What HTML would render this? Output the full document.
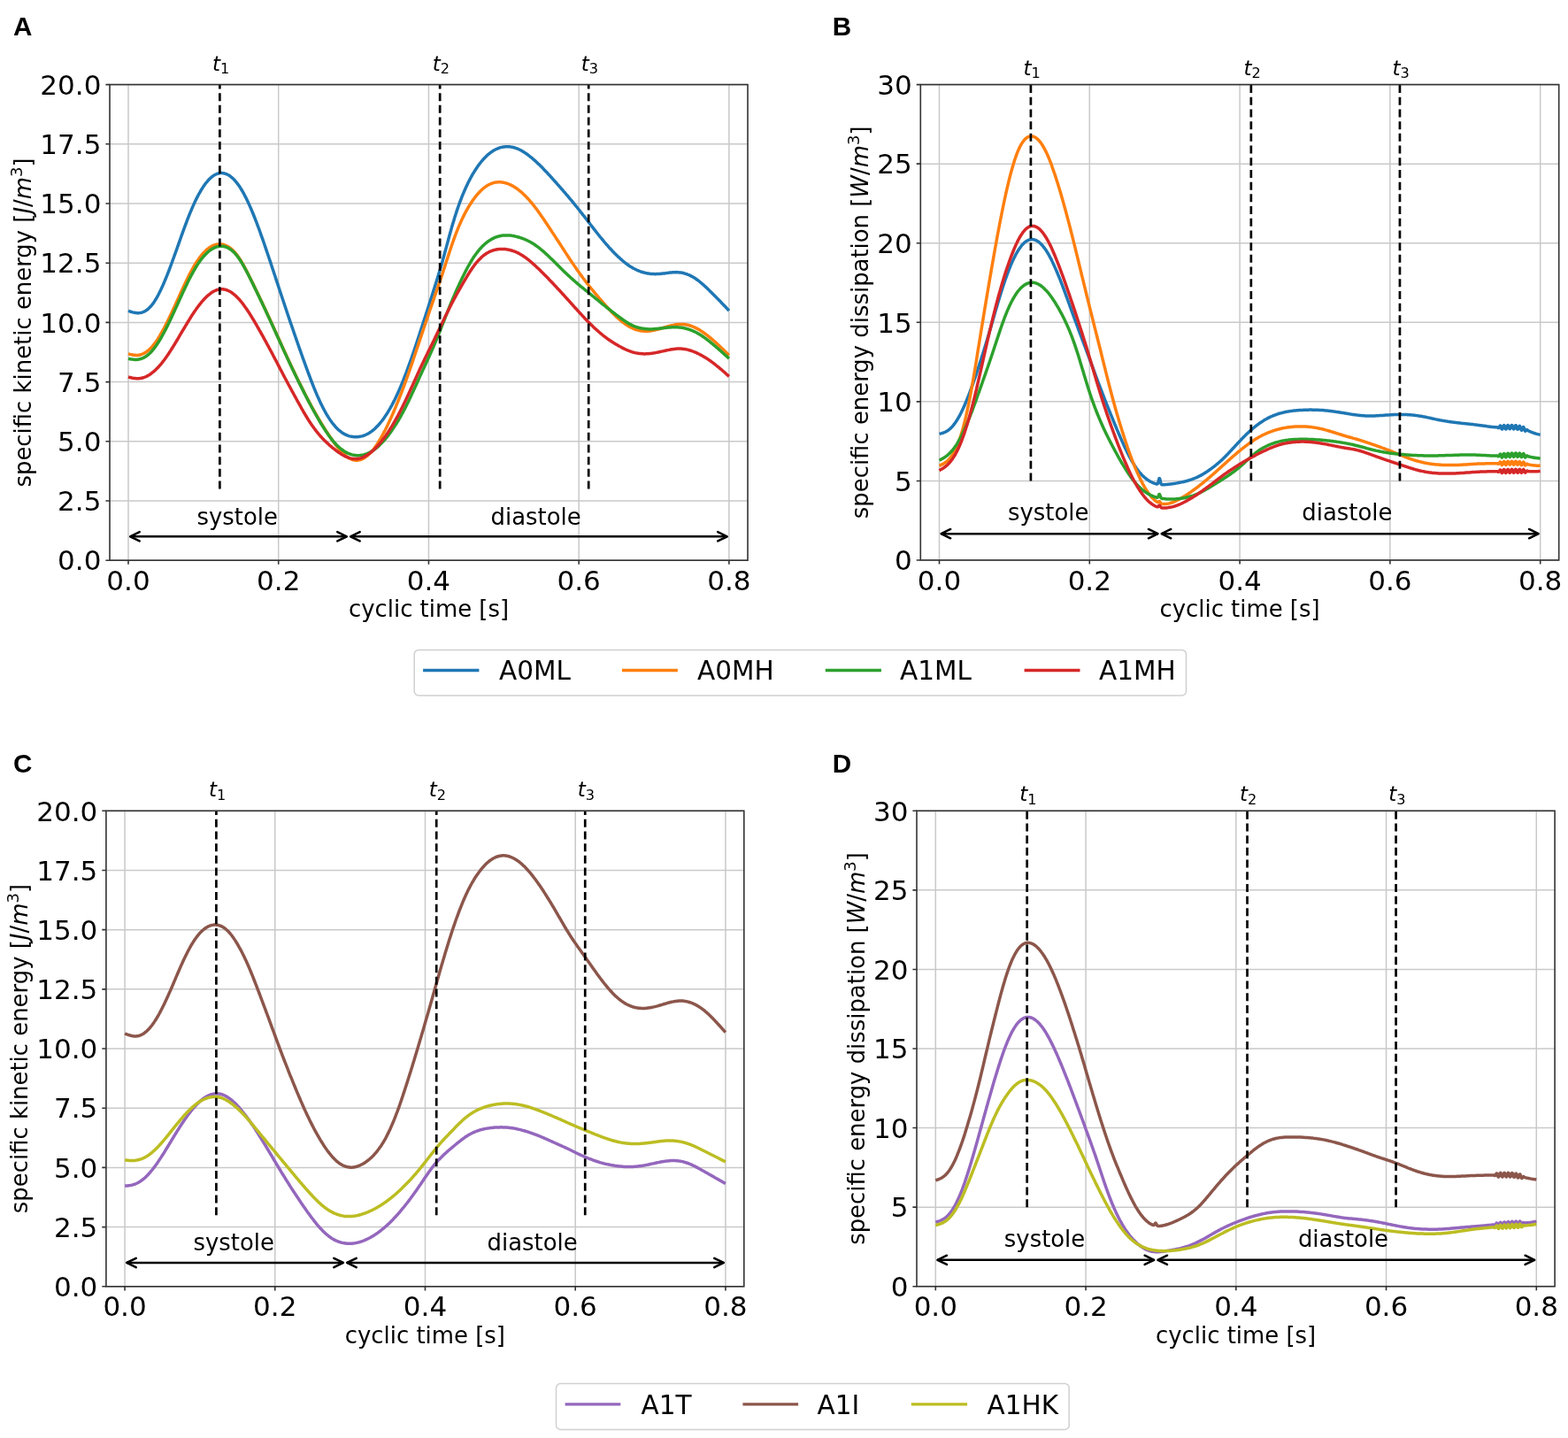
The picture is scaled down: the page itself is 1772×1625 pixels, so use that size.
<!DOCTYPE html>
<html><head><meta charset="utf-8"><title>Figure</title>
<style>html,body{margin:0;padding:0;background:#fff;width:1772px;height:1625px;overflow:hidden}svg{display:block}</style>
</head><body>
<svg xmlns="http://www.w3.org/2000/svg" width="1772" height="1625" viewBox="0 0 1772 1625" font-family="'DejaVu Sans', 'Liberation Sans', sans-serif" fill="#000"><path d="M145.00 95.60V633.20M314.72 95.60V633.20M484.44 95.60V633.20M654.16 95.60V633.20M823.88 95.60V633.20M124.00 633.20H845.00M124.00 566.00H845.00M124.00 498.80H845.00M124.00 431.60H845.00M124.00 364.40H845.00M124.00 297.20H845.00M124.00 230.00H845.00M124.00 162.80H845.00M124.00 95.60H845.00" stroke="#c9c9c9" stroke-width="1.5" fill="none"/>
<path d="M145.0 351.2 L146.0 351.6 L147.0 351.9 L148.0 352.3 L149.0 352.6 L150.0 352.9 L151.0 353.1 L152.0 353.3 L153.0 353.5 L154.0 353.6 L155.0 353.7 L156.0 353.7 L157.0 353.7 L158.0 353.6 L159.0 353.4 L160.0 353.2 L161.0 352.9 L162.0 352.5 L163.0 352.1 L164.0 351.5 L165.0 350.9 L166.0 350.2 L167.0 349.5 L168.0 348.6 L169.0 347.6 L170.0 346.6 L171.0 345.5 L172.0 344.2 L173.0 342.9 L174.0 341.5 L175.0 339.9 L176.0 338.3 L177.0 336.6 L178.0 334.8 L179.0 333.0 L180.0 331.0 L181.0 329.0 L182.0 326.9 L183.0 324.8 L184.0 322.6 L185.0 320.3 L186.0 317.9 L187.0 315.5 L188.0 313.1 L189.0 310.6 L190.0 308.1 L191.0 305.5 L192.0 302.8 L193.0 300.2 L194.0 297.5 L195.0 294.7 L196.0 292.0 L197.0 289.2 L198.0 286.4 L199.0 283.6 L200.0 280.8 L201.0 278.0 L202.0 275.1 L203.0 272.3 L204.0 269.5 L205.0 266.7 L206.0 263.9 L207.0 261.1 L208.0 258.4 L209.0 255.6 L210.0 253.0 L211.0 250.3 L212.0 247.7 L213.0 245.1 L214.0 242.6 L215.0 240.2 L216.0 237.8 L217.0 235.4 L218.0 233.1 L219.0 230.9 L220.0 228.7 L221.0 226.6 L222.0 224.6 L223.0 222.6 L224.0 220.7 L225.0 218.8 L226.0 217.1 L227.0 215.3 L228.0 213.7 L229.0 212.1 L230.0 210.6 L231.0 209.2 L232.0 207.8 L233.0 206.5 L234.0 205.3 L235.0 204.1 L236.0 203.0 L237.0 202.0 L238.0 201.1 L239.0 200.2 L240.0 199.4 L241.0 198.7 L242.0 198.1 L243.0 197.5 L244.0 197.0 L245.0 196.6 L246.0 196.2 L247.0 196.0 L248.0 195.7 L249.0 195.6 L250.0 195.6 L251.0 195.6 L252.0 195.7 L253.0 195.8 L254.0 196.1 L255.0 196.4 L256.0 196.7 L257.0 197.2 L258.0 197.7 L259.0 198.3 L260.0 199.0 L261.0 199.8 L262.0 200.6 L263.0 201.5 L264.0 202.4 L265.0 203.5 L266.0 204.6 L267.0 205.8 L268.0 207.1 L269.0 208.4 L270.0 209.8 L271.0 211.3 L272.0 212.9 L273.0 214.5 L274.0 216.2 L275.0 217.9 L276.0 219.8 L277.0 221.7 L278.0 223.6 L279.0 225.7 L280.0 227.8 L281.0 229.9 L282.0 232.1 L283.0 234.4 L284.0 236.7 L285.0 239.1 L286.0 241.5 L287.0 244.0 L288.0 246.5 L289.0 249.1 L290.0 251.7 L291.0 254.3 L292.0 257.0 L293.0 259.7 L294.0 262.5 L295.0 265.3 L296.0 268.1 L297.0 270.9 L298.0 273.8 L299.0 276.7 L300.0 279.6 L301.0 282.6 L302.0 285.5 L303.0 288.5 L304.0 291.5 L305.0 294.4 L306.0 297.4 L307.0 300.5 L308.0 303.5 L309.0 306.5 L310.0 309.5 L311.0 312.5 L312.0 315.6 L313.0 318.6 L314.0 321.6 L315.0 324.7 L316.0 327.7 L317.0 330.7 L318.0 333.7 L319.0 336.7 L320.0 339.7 L321.0 342.7 L322.0 345.7 L323.0 348.7 L324.0 351.7 L325.0 354.7 L326.0 357.7 L327.0 360.6 L328.0 363.6 L329.0 366.5 L330.0 369.4 L331.0 372.3 L332.0 375.2 L333.0 378.1 L334.0 381.0 L335.0 383.9 L336.0 386.8 L337.0 389.6 L338.0 392.5 L339.0 395.3 L340.0 398.1 L341.0 401.0 L342.0 403.8 L343.0 406.6 L344.0 409.4 L345.0 412.2 L346.0 414.9 L347.0 417.6 L348.0 420.4 L349.0 423.0 L350.0 425.7 L351.0 428.4 L352.0 431.0 L353.0 433.5 L354.0 436.1 L355.0 438.6 L356.0 441.0 L357.0 443.4 L358.0 445.8 L359.0 448.1 L360.0 450.3 L361.0 452.5 L362.0 454.7 L363.0 456.8 L364.0 458.8 L365.0 460.8 L366.0 462.7 L367.0 464.5 L368.0 466.3 L369.0 468.1 L370.0 469.7 L371.0 471.4 L372.0 472.9 L373.0 474.4 L374.0 475.8 L375.0 477.2 L376.0 478.5 L377.0 479.8 L378.0 480.9 L379.0 482.1 L380.0 483.2 L381.0 484.2 L382.0 485.2 L383.0 486.1 L384.0 486.9 L385.0 487.7 L386.0 488.5 L387.0 489.2 L388.0 489.8 L389.0 490.4 L390.0 490.9 L391.0 491.4 L392.0 491.8 L393.0 492.2 L394.0 492.6 L395.0 492.9 L396.0 493.1 L397.0 493.3 L398.0 493.5 L399.0 493.6 L400.0 493.7 L401.0 493.8 L402.0 493.8 L403.0 493.8 L404.0 493.7 L405.0 493.6 L406.0 493.5 L407.0 493.3 L408.0 493.1 L409.0 492.9 L410.0 492.6 L411.0 492.3 L412.0 491.9 L413.0 491.5 L414.0 491.0 L415.0 490.5 L416.0 490.0 L417.0 489.4 L418.0 488.8 L419.0 488.1 L420.0 487.4 L421.0 486.6 L422.0 485.8 L423.0 485.0 L424.0 484.1 L425.0 483.1 L426.0 482.1 L427.0 481.1 L427.9 480.0 L428.9 478.9 L429.9 477.7 L430.9 476.5 L431.9 475.2 L432.9 473.9 L433.9 472.5 L434.9 471.0 L435.9 469.6 L436.9 468.0 L437.9 466.5 L438.9 464.8 L439.9 463.1 L440.9 461.4 L441.9 459.6 L442.9 457.8 L443.9 455.9 L444.9 453.9 L445.9 452.0 L446.9 449.9 L447.9 447.8 L448.9 445.7 L449.9 443.5 L450.9 441.2 L451.9 438.9 L452.9 436.6 L453.9 434.2 L454.9 431.8 L455.9 429.3 L456.9 426.7 L457.9 424.2 L458.9 421.6 L459.9 418.9 L460.9 416.2 L461.9 413.4 L462.9 410.7 L463.9 407.8 L464.9 405.0 L465.9 402.1 L466.9 399.2 L467.9 396.2 L468.9 393.3 L469.9 390.3 L470.9 387.3 L471.9 384.3 L472.9 381.2 L473.9 378.2 L474.9 375.1 L475.9 372.1 L476.9 369.0 L477.9 365.9 L478.9 362.9 L479.9 359.8 L480.9 356.7 L481.9 353.6 L482.9 350.5 L483.9 347.4 L484.9 344.3 L485.9 341.1 L486.9 338.0 L487.9 334.9 L488.9 331.7 L489.9 328.6 L490.9 325.4 L491.9 322.2 L492.9 319.0 L493.9 315.8 L494.9 312.6 L495.9 309.3 L496.9 306.0 L497.9 302.6 L498.9 299.2 L499.9 295.7 L500.9 292.1 L501.9 288.5 L502.9 284.8 L503.9 281.1 L504.9 277.4 L505.9 273.7 L506.9 270.0 L507.9 266.3 L508.9 262.7 L509.9 259.1 L510.9 255.6 L511.9 252.2 L512.9 248.9 L513.9 245.6 L514.9 242.5 L515.9 239.4 L516.9 236.4 L517.9 233.5 L518.9 230.7 L519.9 227.9 L520.9 225.3 L521.9 222.7 L522.9 220.2 L523.9 217.8 L524.9 215.5 L525.9 213.2 L526.9 211.0 L527.9 208.9 L528.9 206.8 L529.9 204.8 L530.9 202.9 L531.9 201.0 L532.9 199.2 L533.9 197.4 L534.9 195.7 L535.9 194.1 L536.9 192.5 L537.9 191.0 L538.9 189.5 L539.9 188.0 L540.9 186.6 L541.9 185.3 L542.9 184.0 L543.9 182.7 L544.9 181.5 L545.9 180.4 L546.9 179.3 L547.9 178.2 L548.9 177.2 L549.9 176.2 L550.9 175.3 L551.9 174.4 L552.9 173.6 L553.9 172.8 L554.9 172.1 L555.9 171.4 L556.9 170.7 L557.9 170.1 L558.9 169.5 L559.9 169.0 L560.9 168.5 L561.9 168.1 L562.9 167.6 L563.9 167.3 L564.9 166.9 L565.9 166.6 L566.9 166.4 L567.9 166.2 L568.9 166.0 L569.9 165.9 L570.9 165.8 L571.9 165.7 L572.9 165.7 L573.9 165.7 L574.9 165.7 L575.9 165.8 L576.9 165.9 L577.9 166.1 L578.9 166.3 L579.9 166.5 L580.9 166.7 L581.9 167.0 L582.9 167.4 L583.9 167.7 L584.9 168.1 L585.9 168.5 L586.9 169.0 L587.9 169.5 L588.9 170.0 L589.9 170.6 L590.9 171.2 L591.9 171.8 L592.9 172.4 L593.9 173.1 L594.9 173.8 L595.9 174.5 L596.9 175.2 L597.9 176.0 L598.9 176.8 L599.9 177.6 L600.9 178.4 L601.9 179.2 L602.9 180.1 L603.9 181.0 L604.9 181.9 L605.9 182.8 L606.9 183.7 L607.9 184.7 L608.9 185.6 L609.9 186.6 L610.9 187.6 L611.9 188.6 L612.9 189.6 L613.9 190.6 L614.9 191.7 L615.9 192.7 L616.9 193.8 L617.9 194.8 L618.9 195.9 L619.9 197.0 L620.9 198.1 L621.9 199.1 L622.9 200.2 L623.9 201.3 L624.9 202.5 L625.9 203.6 L626.9 204.7 L627.9 205.8 L628.9 206.9 L629.9 208.1 L630.9 209.2 L631.9 210.3 L632.9 211.5 L633.9 212.6 L634.9 213.8 L635.9 214.9 L636.9 216.1 L637.9 217.2 L638.9 218.4 L639.9 219.6 L640.9 220.7 L641.9 221.9 L642.9 223.1 L643.9 224.3 L644.9 225.5 L645.9 226.7 L646.9 227.9 L647.9 229.1 L648.9 230.3 L649.9 231.6 L650.9 232.8 L651.9 234.0 L652.9 235.3 L653.9 236.5 L654.9 237.8 L655.9 239.1 L656.9 240.3 L657.9 241.6 L658.9 242.9 L659.9 244.1 L660.9 245.4 L661.9 246.7 L662.9 248.0 L663.9 249.3 L664.9 250.6 L665.9 251.9 L666.9 253.2 L667.9 254.5 L668.9 255.8 L669.9 257.1 L670.9 258.4 L671.9 259.7 L672.9 260.9 L673.9 262.2 L674.9 263.5 L675.9 264.8 L676.9 266.0 L677.9 267.3 L678.9 268.5 L679.9 269.7 L680.9 270.9 L681.9 272.1 L682.9 273.3 L683.9 274.5 L684.9 275.7 L685.9 276.8 L686.9 277.9 L687.9 279.1 L688.9 280.2 L689.9 281.3 L690.9 282.3 L691.9 283.4 L692.9 284.4 L693.9 285.5 L694.9 286.5 L695.9 287.5 L696.9 288.5 L697.9 289.4 L698.9 290.4 L699.9 291.3 L700.9 292.2 L701.9 293.1 L702.9 294.0 L703.9 294.8 L704.9 295.7 L705.9 296.5 L706.9 297.3 L707.9 298.0 L708.9 298.8 L709.9 299.5 L710.9 300.2 L711.9 300.9 L712.9 301.5 L713.9 302.1 L714.9 302.7 L715.9 303.3 L716.9 303.8 L717.9 304.3 L718.9 304.8 L719.9 305.3 L720.9 305.7 L721.9 306.1 L722.9 306.5 L723.9 306.9 L724.9 307.2 L725.9 307.5 L726.9 307.8 L727.9 308.1 L728.9 308.3 L729.9 308.6 L730.9 308.8 L731.9 309.0 L732.9 309.1 L733.9 309.2 L734.9 309.4 L735.9 309.5 L736.9 309.5 L737.9 309.6 L738.9 309.6 L739.9 309.7 L740.9 309.7 L741.9 309.6 L742.9 309.6 L743.9 309.6 L744.9 309.5 L745.9 309.4 L746.9 309.3 L747.9 309.2 L748.9 309.1 L749.9 309.0 L750.9 308.9 L751.9 308.8 L752.9 308.6 L753.9 308.5 L754.9 308.4 L755.9 308.2 L756.9 308.1 L757.9 308.0 L758.9 307.9 L759.9 307.8 L760.9 307.8 L761.9 307.7 L762.9 307.7 L763.9 307.6 L764.9 307.7 L765.9 307.7 L766.9 307.8 L767.9 307.9 L768.9 308.0 L769.9 308.1 L770.9 308.3 L771.9 308.5 L772.9 308.8 L773.9 309.1 L774.9 309.4 L775.9 309.7 L776.9 310.1 L777.9 310.5 L778.9 310.9 L779.9 311.4 L780.9 311.9 L781.9 312.4 L782.9 312.9 L783.9 313.5 L784.9 314.1 L785.9 314.8 L786.9 315.5 L787.9 316.2 L788.9 316.9 L789.9 317.7 L790.9 318.5 L791.9 319.3 L792.9 320.2 L793.9 321.0 L794.9 321.9 L795.9 322.8 L796.9 323.7 L797.9 324.6 L798.9 325.6 L799.9 326.5 L800.9 327.5 L801.9 328.4 L802.9 329.4 L803.9 330.4 L804.9 331.4 L805.9 332.4 L806.9 333.4 L807.9 334.4 L808.9 335.4 L809.9 336.5 L810.9 337.5 L811.9 338.5 L812.9 339.5 L813.9 340.6 L814.9 341.6 L815.9 342.7 L816.9 343.7 L817.9 344.7 L818.9 345.8 L819.9 346.8 L820.9 347.9 L821.9 349.0 L822.9 350.0 L823.9 351.1" stroke="#1f77b4" stroke-width="3.5" fill="none" stroke-linejoin="round" stroke-linecap="butt"/>
<path d="M145.0 399.9 L146.0 400.1 L147.0 400.4 L148.0 400.6 L149.0 400.8 L150.0 401.0 L151.0 401.2 L152.0 401.3 L153.0 401.3 L154.0 401.4 L155.0 401.4 L156.0 401.3 L157.0 401.2 L158.0 401.0 L159.0 400.7 L160.0 400.4 L161.0 400.0 L162.0 399.6 L163.0 399.1 L164.0 398.5 L165.0 397.9 L166.0 397.2 L167.0 396.4 L168.0 395.6 L169.0 394.7 L170.0 393.7 L171.0 392.7 L172.0 391.6 L173.0 390.4 L174.0 389.2 L175.0 387.9 L176.0 386.5 L177.0 385.1 L178.0 383.6 L179.0 382.0 L180.0 380.4 L181.0 378.7 L182.0 377.0 L183.0 375.2 L184.0 373.4 L185.0 371.6 L186.0 369.7 L187.0 367.8 L188.0 365.8 L189.0 363.8 L190.0 361.8 L191.0 359.7 L192.0 357.6 L193.0 355.5 L194.0 353.4 L195.0 351.2 L196.0 349.1 L197.0 346.9 L198.0 344.7 L199.0 342.5 L200.0 340.3 L201.0 338.1 L202.0 335.9 L203.0 333.6 L204.0 331.4 L205.0 329.3 L206.0 327.1 L207.0 324.9 L208.0 322.8 L209.0 320.6 L210.0 318.5 L211.0 316.5 L212.0 314.4 L213.0 312.4 L214.0 310.4 L215.0 308.5 L216.0 306.6 L217.0 304.8 L218.0 303.0 L219.0 301.2 L220.0 299.5 L221.0 297.9 L222.0 296.3 L223.0 294.8 L224.0 293.4 L225.0 291.9 L226.0 290.6 L227.0 289.3 L228.0 288.1 L229.0 286.9 L230.0 285.8 L231.0 284.7 L232.0 283.7 L233.0 282.8 L234.0 281.9 L235.0 281.1 L236.0 280.3 L237.0 279.6 L238.0 279.0 L239.0 278.4 L240.0 277.9 L241.0 277.4 L242.0 277.0 L243.0 276.7 L244.0 276.4 L245.0 276.2 L246.0 276.0 L247.0 275.9 L248.0 275.8 L249.0 275.9 L250.0 275.9 L251.0 276.1 L252.0 276.3 L253.0 276.5 L254.0 276.9 L255.0 277.2 L256.0 277.7 L257.0 278.2 L258.0 278.8 L259.0 279.4 L260.0 280.2 L261.0 280.9 L262.0 281.8 L263.0 282.7 L264.0 283.7 L265.0 284.8 L266.0 285.9 L267.0 287.1 L268.0 288.4 L269.0 289.8 L270.0 291.2 L271.0 292.7 L272.0 294.3 L273.0 295.9 L274.0 297.6 L275.0 299.4 L276.0 301.2 L277.0 303.0 L278.0 304.9 L279.0 306.8 L280.0 308.8 L281.0 310.7 L282.0 312.7 L283.0 314.7 L284.0 316.7 L285.0 318.8 L286.0 320.8 L287.0 322.8 L288.0 324.9 L289.0 327.0 L290.0 329.0 L291.0 331.1 L292.0 333.2 L293.0 335.3 L294.0 337.4 L295.0 339.5 L296.0 341.6 L297.0 343.7 L298.0 345.8 L299.0 347.9 L300.0 350.0 L301.0 352.2 L302.0 354.3 L303.0 356.5 L304.0 358.6 L305.0 360.8 L306.0 363.0 L307.0 365.2 L308.0 367.4 L309.0 369.6 L310.0 371.8 L311.0 374.0 L312.0 376.2 L313.0 378.4 L314.0 380.6 L315.0 382.8 L316.0 385.0 L317.0 387.2 L318.0 389.4 L319.0 391.6 L320.0 393.8 L321.0 396.0 L322.0 398.2 L323.0 400.3 L324.0 402.5 L325.0 404.7 L326.0 406.8 L327.0 409.0 L328.0 411.1 L329.0 413.2 L330.0 415.3 L331.0 417.4 L332.0 419.5 L333.0 421.6 L334.0 423.7 L335.0 425.7 L336.0 427.8 L337.0 429.8 L338.0 431.8 L339.0 433.8 L340.0 435.8 L341.0 437.8 L342.0 439.8 L343.0 441.8 L344.0 443.8 L345.0 445.7 L346.0 447.7 L347.0 449.6 L348.0 451.5 L349.0 453.4 L350.0 455.3 L351.0 457.1 L352.0 459.0 L353.0 460.8 L354.0 462.6 L355.0 464.4 L356.0 466.2 L357.0 467.9 L358.0 469.7 L359.0 471.4 L360.0 473.1 L361.0 474.8 L362.0 476.5 L363.0 478.2 L364.0 479.8 L365.0 481.4 L366.0 483.0 L367.0 484.6 L368.0 486.2 L369.0 487.8 L370.0 489.3 L371.0 490.8 L372.0 492.3 L373.0 493.8 L374.0 495.3 L375.0 496.7 L376.0 498.1 L377.0 499.5 L378.0 500.9 L379.0 502.2 L380.0 503.5 L381.0 504.8 L382.0 506.0 L383.0 507.2 L384.0 508.4 L385.0 509.5 L386.0 510.6 L387.0 511.6 L388.0 512.6 L389.0 513.5 L390.0 514.4 L391.0 515.2 L392.0 516.0 L393.0 516.7 L394.0 517.4 L395.0 518.0 L396.0 518.5 L397.0 519.0 L398.0 519.4 L399.0 519.7 L400.0 519.9 L401.0 520.1 L402.0 520.2 L403.0 520.3 L404.0 520.2 L405.0 520.1 L406.0 519.9 L407.0 519.6 L408.0 519.3 L409.0 518.9 L410.0 518.5 L411.0 517.9 L412.0 517.3 L413.0 516.6 L414.0 515.9 L415.0 515.1 L416.0 514.2 L417.0 513.3 L418.0 512.3 L419.0 511.3 L420.0 510.2 L421.0 509.0 L422.0 507.8 L423.0 506.5 L424.0 505.1 L425.0 503.7 L426.0 502.2 L427.0 500.7 L427.9 499.2 L428.9 497.5 L429.9 495.9 L430.9 494.1 L431.9 492.3 L432.9 490.5 L433.9 488.6 L434.9 486.7 L435.9 484.8 L436.9 482.8 L437.9 480.7 L438.9 478.6 L439.9 476.5 L440.9 474.3 L441.9 472.1 L442.9 469.9 L443.9 467.6 L444.9 465.3 L445.9 462.9 L446.9 460.6 L447.9 458.2 L448.9 455.7 L449.9 453.3 L450.9 450.8 L451.9 448.2 L452.9 445.7 L453.9 443.1 L454.9 440.4 L455.9 437.8 L456.9 435.1 L457.9 432.4 L458.9 429.6 L459.9 426.9 L460.9 424.1 L461.9 421.2 L462.9 418.4 L463.9 415.5 L464.9 412.6 L465.9 409.7 L466.9 406.7 L467.9 403.8 L468.9 400.8 L469.9 397.8 L470.9 394.8 L471.9 391.9 L472.9 388.9 L473.9 385.9 L474.9 382.9 L475.9 379.9 L476.9 376.9 L477.9 373.9 L478.9 371.0 L479.9 368.0 L480.9 365.0 L481.9 362.1 L482.9 359.1 L483.9 356.2 L484.9 353.2 L485.9 350.3 L486.9 347.4 L487.9 344.5 L488.9 341.6 L489.9 338.7 L490.9 335.8 L491.9 332.9 L492.9 330.0 L493.9 327.1 L494.9 324.3 L495.9 321.4 L496.9 318.5 L497.9 315.5 L498.9 312.6 L499.9 309.6 L500.9 306.5 L501.9 303.5 L502.9 300.4 L503.9 297.3 L504.9 294.2 L505.9 291.1 L506.9 288.1 L507.9 285.0 L508.9 282.0 L509.9 279.0 L510.9 276.1 L511.9 273.2 L512.9 270.4 L513.9 267.7 L514.9 265.0 L515.9 262.4 L516.9 259.9 L517.9 257.4 L518.9 255.0 L519.9 252.7 L520.9 250.4 L521.9 248.3 L522.9 246.1 L523.9 244.1 L524.9 242.1 L525.9 240.2 L526.9 238.4 L527.9 236.6 L528.9 234.9 L529.9 233.2 L530.9 231.6 L531.9 230.0 L532.9 228.5 L533.9 227.0 L534.9 225.6 L535.9 224.2 L536.9 222.9 L537.9 221.6 L538.9 220.4 L539.9 219.2 L540.9 218.1 L541.9 217.0 L542.9 216.0 L543.9 215.0 L544.9 214.0 L545.9 213.2 L546.9 212.3 L547.9 211.6 L548.9 210.9 L549.9 210.2 L550.9 209.6 L551.9 209.0 L552.9 208.5 L553.9 208.0 L554.9 207.6 L555.9 207.2 L556.9 206.9 L557.9 206.6 L558.9 206.3 L559.9 206.1 L560.9 206.0 L561.9 205.9 L562.9 205.8 L563.9 205.8 L564.9 205.8 L565.9 205.8 L566.9 205.9 L567.9 206.1 L568.9 206.2 L569.9 206.4 L570.9 206.7 L571.9 206.9 L572.9 207.3 L573.9 207.6 L574.9 208.0 L575.9 208.4 L576.9 208.9 L577.9 209.4 L578.9 209.9 L579.9 210.4 L580.9 211.0 L581.9 211.7 L582.9 212.3 L583.9 213.0 L584.9 213.7 L585.9 214.5 L586.9 215.3 L587.9 216.1 L588.9 216.9 L589.9 217.8 L590.9 218.7 L591.9 219.7 L592.9 220.6 L593.9 221.6 L594.9 222.7 L595.9 223.7 L596.9 224.8 L597.9 225.9 L598.9 227.1 L599.9 228.2 L600.9 229.4 L601.9 230.7 L602.9 231.9 L603.9 233.2 L604.9 234.5 L605.9 235.8 L606.9 237.1 L607.9 238.5 L608.9 239.9 L609.9 241.3 L610.9 242.7 L611.9 244.2 L612.9 245.6 L613.9 247.1 L614.9 248.5 L615.9 250.0 L616.9 251.5 L617.9 253.0 L618.9 254.5 L619.9 256.0 L620.9 257.5 L621.9 259.0 L622.9 260.5 L623.9 262.1 L624.9 263.6 L625.9 265.1 L626.9 266.6 L627.9 268.1 L628.9 269.7 L629.9 271.2 L630.9 272.7 L631.9 274.3 L632.9 275.8 L633.9 277.4 L634.9 278.9 L635.9 280.5 L636.9 282.0 L637.9 283.5 L638.9 285.1 L639.9 286.6 L640.9 288.1 L641.9 289.7 L642.9 291.2 L643.9 292.7 L644.9 294.2 L645.9 295.7 L646.9 297.2 L647.9 298.6 L648.9 300.1 L649.9 301.6 L650.9 303.0 L651.9 304.5 L652.9 305.9 L653.9 307.3 L654.9 308.7 L655.9 310.1 L656.9 311.4 L657.9 312.8 L658.9 314.2 L659.9 315.5 L660.9 316.8 L661.9 318.1 L662.9 319.4 L663.9 320.7 L664.9 322.0 L665.9 323.3 L666.9 324.5 L667.9 325.8 L668.9 327.0 L669.9 328.2 L670.9 329.4 L671.9 330.7 L672.9 331.9 L673.9 333.0 L674.9 334.2 L675.9 335.4 L676.9 336.6 L677.9 337.7 L678.9 338.9 L679.9 340.0 L680.9 341.2 L681.9 342.3 L682.9 343.5 L683.9 344.6 L684.9 345.7 L685.9 346.8 L686.9 347.9 L687.9 349.0 L688.9 350.1 L689.9 351.2 L690.9 352.2 L691.9 353.3 L692.9 354.3 L693.9 355.3 L694.9 356.3 L695.9 357.2 L696.9 358.2 L697.9 359.1 L698.9 360.0 L699.9 360.9 L700.9 361.7 L701.9 362.6 L702.9 363.4 L703.9 364.2 L704.9 364.9 L705.9 365.7 L706.9 366.4 L707.9 367.0 L708.9 367.7 L709.9 368.3 L710.9 368.9 L711.9 369.5 L712.9 370.0 L713.9 370.5 L714.9 371.0 L715.9 371.4 L716.9 371.8 L717.9 372.2 L718.9 372.5 L719.9 372.8 L720.9 373.1 L721.9 373.4 L722.9 373.6 L723.9 373.8 L724.9 373.9 L725.9 374.0 L726.9 374.1 L727.9 374.2 L728.9 374.3 L729.9 374.3 L730.9 374.3 L731.9 374.2 L732.9 374.2 L733.9 374.1 L734.9 373.9 L735.9 373.8 L736.9 373.6 L737.9 373.5 L738.9 373.3 L739.9 373.0 L740.9 372.8 L741.9 372.6 L742.9 372.3 L743.9 372.0 L744.9 371.8 L745.9 371.5 L746.9 371.2 L747.9 370.9 L748.9 370.6 L749.9 370.3 L750.9 370.0 L751.9 369.7 L752.9 369.4 L753.9 369.1 L754.9 368.8 L755.9 368.6 L756.9 368.3 L757.9 368.1 L758.9 367.8 L759.9 367.6 L760.9 367.4 L761.9 367.2 L762.9 367.0 L763.9 366.8 L764.9 366.7 L765.9 366.6 L766.9 366.5 L767.9 366.4 L768.9 366.4 L769.9 366.4 L770.9 366.4 L771.9 366.5 L772.9 366.5 L773.9 366.7 L774.9 366.8 L775.9 367.0 L776.9 367.2 L777.9 367.4 L778.9 367.7 L779.9 368.0 L780.9 368.3 L781.9 368.7 L782.9 369.1 L783.9 369.5 L784.9 369.9 L785.9 370.4 L786.9 370.9 L787.9 371.4 L788.9 371.9 L789.9 372.5 L790.9 373.1 L791.9 373.7 L792.9 374.4 L793.9 375.0 L794.9 375.7 L795.9 376.4 L796.9 377.2 L797.9 377.9 L798.9 378.7 L799.9 379.4 L800.9 380.2 L801.9 381.1 L802.9 381.9 L803.9 382.7 L804.9 383.6 L805.9 384.5 L806.9 385.3 L807.9 386.2 L808.9 387.1 L809.9 388.0 L810.9 389.0 L811.9 389.9 L812.9 390.8 L813.9 391.8 L814.9 392.7 L815.9 393.7 L816.9 394.6 L817.9 395.6 L818.9 396.6 L819.9 397.5 L820.9 398.5 L821.9 399.5 L822.9 400.4 L823.9 401.4" stroke="#ff7f0e" stroke-width="3.5" fill="none" stroke-linejoin="round" stroke-linecap="butt"/>
<path d="M145.0 405.3 L146.0 405.5 L147.0 405.7 L148.0 405.9 L149.0 406.0 L150.0 406.1 L151.0 406.3 L152.0 406.3 L153.0 406.4 L154.0 406.4 L155.0 406.3 L156.0 406.2 L157.0 406.0 L158.0 405.8 L159.0 405.5 L160.0 405.2 L161.0 404.8 L162.0 404.4 L163.0 403.9 L164.0 403.3 L165.0 402.7 L166.0 402.0 L167.0 401.2 L168.0 400.4 L169.0 399.5 L170.0 398.5 L171.0 397.5 L172.0 396.4 L173.0 395.2 L174.0 393.9 L175.0 392.6 L176.0 391.2 L177.0 389.8 L178.0 388.3 L179.0 386.8 L180.0 385.1 L181.0 383.5 L182.0 381.8 L183.0 380.0 L184.0 378.2 L185.0 376.4 L186.0 374.5 L187.0 372.6 L188.0 370.6 L189.0 368.6 L190.0 366.6 L191.0 364.5 L192.0 362.4 L193.0 360.3 L194.0 358.2 L195.0 356.1 L196.0 353.9 L197.0 351.7 L198.0 349.6 L199.0 347.4 L200.0 345.2 L201.0 343.0 L202.0 340.8 L203.0 338.6 L204.0 336.4 L205.0 334.2 L206.0 332.0 L207.0 329.8 L208.0 327.7 L209.0 325.6 L210.0 323.5 L211.0 321.4 L212.0 319.3 L213.0 317.3 L214.0 315.3 L215.0 313.4 L216.0 311.5 L217.0 309.6 L218.0 307.8 L219.0 306.0 L220.0 304.3 L221.0 302.6 L222.0 301.0 L223.0 299.4 L224.0 297.9 L225.0 296.4 L226.0 295.0 L227.0 293.6 L228.0 292.3 L229.0 291.1 L230.0 289.9 L231.0 288.8 L232.0 287.7 L233.0 286.7 L234.0 285.7 L235.0 284.8 L236.0 284.0 L237.0 283.2 L238.0 282.4 L239.0 281.8 L240.0 281.1 L241.0 280.6 L242.0 280.1 L243.0 279.6 L244.0 279.2 L245.0 278.9 L246.0 278.7 L247.0 278.5 L248.0 278.3 L249.0 278.2 L250.0 278.2 L251.0 278.2 L252.0 278.3 L253.0 278.5 L254.0 278.7 L255.0 279.0 L256.0 279.4 L257.0 279.8 L258.0 280.3 L259.0 280.9 L260.0 281.5 L261.0 282.2 L262.0 283.0 L263.0 283.9 L264.0 284.8 L265.0 285.8 L266.0 286.9 L267.0 288.0 L268.0 289.3 L269.0 290.6 L270.0 292.0 L271.0 293.4 L272.0 295.0 L273.0 296.6 L274.0 298.3 L275.0 300.0 L276.0 301.8 L277.0 303.6 L278.0 305.5 L279.0 307.4 L280.0 309.3 L281.0 311.3 L282.0 313.3 L283.0 315.3 L284.0 317.3 L285.0 319.3 L286.0 321.3 L287.0 323.4 L288.0 325.5 L289.0 327.5 L290.0 329.6 L291.0 331.7 L292.0 333.8 L293.0 335.8 L294.0 337.9 L295.0 340.0 L296.0 342.1 L297.0 344.2 L298.0 346.4 L299.0 348.5 L300.0 350.6 L301.0 352.8 L302.0 354.9 L303.0 357.1 L304.0 359.2 L305.0 361.4 L306.0 363.6 L307.0 365.8 L308.0 368.0 L309.0 370.2 L310.0 372.4 L311.0 374.6 L312.0 376.8 L313.0 379.0 L314.0 381.2 L315.0 383.4 L316.0 385.6 L317.0 387.8 L318.0 390.0 L319.0 392.2 L320.0 394.4 L321.0 396.6 L322.0 398.7 L323.0 400.9 L324.0 403.1 L325.0 405.2 L326.0 407.4 L327.0 409.5 L328.0 411.7 L329.0 413.8 L330.0 415.9 L331.0 418.0 L332.0 420.1 L333.0 422.2 L334.0 424.2 L335.0 426.3 L336.0 428.3 L337.0 430.4 L338.0 432.4 L339.0 434.4 L340.0 436.4 L341.0 438.4 L342.0 440.4 L343.0 442.4 L344.0 444.4 L345.0 446.3 L346.0 448.3 L347.0 450.2 L348.0 452.1 L349.0 454.1 L350.0 455.9 L351.0 457.8 L352.0 459.7 L353.0 461.5 L354.0 463.3 L355.0 465.2 L356.0 466.9 L357.0 468.7 L358.0 470.5 L359.0 472.2 L360.0 473.9 L361.0 475.6 L362.0 477.3 L363.0 479.0 L364.0 480.6 L365.0 482.2 L366.0 483.8 L367.0 485.3 L368.0 486.9 L369.0 488.3 L370.0 489.8 L371.0 491.3 L372.0 492.7 L373.0 494.0 L374.0 495.4 L375.0 496.6 L376.0 497.9 L377.0 499.1 L378.0 500.2 L379.0 501.3 L380.0 502.4 L381.0 503.4 L382.0 504.4 L383.0 505.3 L384.0 506.2 L385.0 507.0 L386.0 507.8 L387.0 508.5 L388.0 509.2 L389.0 509.9 L390.0 510.5 L391.0 511.1 L392.0 511.6 L393.0 512.1 L394.0 512.5 L395.0 512.9 L396.0 513.3 L397.0 513.6 L398.0 513.9 L399.0 514.1 L400.0 514.3 L401.0 514.5 L402.0 514.6 L403.0 514.7 L404.0 514.7 L405.0 514.7 L406.0 514.7 L407.0 514.6 L408.0 514.5 L409.0 514.3 L410.0 514.1 L411.0 513.9 L412.0 513.6 L413.0 513.3 L414.0 512.9 L415.0 512.6 L416.0 512.1 L417.0 511.7 L418.0 511.2 L419.0 510.6 L420.0 510.0 L421.0 509.4 L422.0 508.8 L423.0 508.1 L424.0 507.3 L425.0 506.6 L426.0 505.7 L427.0 504.9 L427.9 504.0 L428.9 503.1 L429.9 502.1 L430.9 501.1 L431.9 500.1 L432.9 499.0 L433.9 497.9 L434.9 496.8 L435.9 495.6 L436.9 494.4 L437.9 493.1 L438.9 491.9 L439.9 490.5 L440.9 489.2 L441.9 487.8 L442.9 486.4 L443.9 484.9 L444.9 483.4 L445.9 481.9 L446.9 480.3 L447.9 478.7 L448.9 477.1 L449.9 475.5 L450.9 473.8 L451.9 472.0 L452.9 470.3 L453.9 468.5 L454.9 466.6 L455.9 464.8 L456.9 462.9 L457.9 461.0 L458.9 459.0 L459.9 457.0 L460.9 455.0 L461.9 452.9 L462.9 450.8 L463.9 448.7 L464.9 446.6 L465.9 444.4 L466.9 442.2 L467.9 440.1 L468.9 437.9 L469.9 435.7 L470.9 433.5 L471.9 431.3 L472.9 429.0 L473.9 426.8 L474.9 424.6 L475.9 422.5 L476.9 420.3 L477.9 418.1 L478.9 416.0 L479.9 413.8 L480.9 411.7 L481.9 409.5 L482.9 407.3 L483.9 405.2 L484.9 403.0 L485.9 400.8 L486.9 398.6 L487.9 396.3 L488.9 394.1 L489.9 391.8 L490.9 389.4 L491.9 387.1 L492.9 384.7 L493.9 382.2 L494.9 379.8 L495.9 377.3 L496.9 374.8 L497.9 372.2 L498.9 369.7 L499.9 367.1 L500.9 364.6 L501.9 362.0 L502.9 359.5 L503.9 356.9 L504.9 354.4 L505.9 351.9 L506.9 349.4 L507.9 346.9 L508.9 344.4 L509.9 342.0 L510.9 339.6 L511.9 337.2 L512.9 334.9 L513.9 332.6 L514.9 330.3 L515.9 328.0 L516.9 325.8 L517.9 323.6 L518.9 321.4 L519.9 319.3 L520.9 317.2 L521.9 315.1 L522.9 313.0 L523.9 311.0 L524.9 309.0 L525.9 307.0 L526.9 305.1 L527.9 303.2 L528.9 301.3 L529.9 299.6 L530.9 297.8 L531.9 296.1 L532.9 294.5 L533.9 292.9 L534.9 291.3 L535.9 289.8 L536.9 288.4 L537.9 287.0 L538.9 285.7 L539.9 284.4 L540.9 283.1 L541.9 281.9 L542.9 280.8 L543.9 279.7 L544.9 278.6 L545.9 277.6 L546.9 276.7 L547.9 275.8 L548.9 274.9 L549.9 274.1 L550.9 273.3 L551.9 272.6 L552.9 271.9 L553.9 271.3 L554.9 270.7 L555.9 270.1 L556.9 269.6 L557.9 269.1 L558.9 268.6 L559.9 268.2 L560.9 267.8 L561.9 267.5 L562.9 267.2 L563.9 266.9 L564.9 266.7 L565.9 266.5 L566.9 266.3 L567.9 266.1 L568.9 266.0 L569.9 265.9 L570.9 265.9 L571.9 265.9 L572.9 265.9 L573.9 265.9 L574.9 265.9 L575.9 266.0 L576.9 266.1 L577.9 266.2 L578.9 266.4 L579.9 266.5 L580.9 266.7 L581.9 266.9 L582.9 267.2 L583.9 267.4 L584.9 267.7 L585.9 268.0 L586.9 268.3 L587.9 268.6 L588.9 268.9 L589.9 269.3 L590.9 269.6 L591.9 270.0 L592.9 270.4 L593.9 270.8 L594.9 271.3 L595.9 271.7 L596.9 272.2 L597.9 272.7 L598.9 273.3 L599.9 273.8 L600.9 274.4 L601.9 275.0 L602.9 275.6 L603.9 276.3 L604.9 277.0 L605.9 277.7 L606.9 278.4 L607.9 279.1 L608.9 279.9 L609.9 280.7 L610.9 281.5 L611.9 282.3 L612.9 283.1 L613.9 284.0 L614.9 284.9 L615.9 285.8 L616.9 286.7 L617.9 287.6 L618.9 288.5 L619.9 289.5 L620.9 290.4 L621.9 291.4 L622.9 292.4 L623.9 293.3 L624.9 294.3 L625.9 295.3 L626.9 296.3 L627.9 297.3 L628.9 298.3 L629.9 299.3 L630.9 300.3 L631.9 301.3 L632.9 302.3 L633.9 303.3 L634.9 304.3 L635.9 305.2 L636.9 306.2 L637.9 307.2 L638.9 308.1 L639.9 309.1 L640.9 310.0 L641.9 311.0 L642.9 311.9 L643.9 312.8 L644.9 313.7 L645.9 314.6 L646.9 315.5 L647.9 316.4 L648.9 317.3 L649.9 318.2 L650.9 319.0 L651.9 319.9 L652.9 320.8 L653.9 321.6 L654.9 322.4 L655.9 323.3 L656.9 324.1 L657.9 324.9 L658.9 325.7 L659.9 326.5 L660.9 327.3 L661.9 328.1 L662.9 328.9 L663.9 329.7 L664.9 330.5 L665.9 331.3 L666.9 332.1 L667.9 332.9 L668.9 333.8 L669.9 334.6 L670.9 335.4 L671.9 336.2 L672.9 337.1 L673.9 337.9 L674.9 338.7 L675.9 339.5 L676.9 340.3 L677.9 341.2 L678.9 342.0 L679.9 342.8 L680.9 343.6 L681.9 344.4 L682.9 345.2 L683.9 346.0 L684.9 346.8 L685.9 347.6 L686.9 348.4 L687.9 349.2 L688.9 349.9 L689.9 350.7 L690.9 351.5 L691.9 352.3 L692.9 353.0 L693.9 353.8 L694.9 354.5 L695.9 355.3 L696.9 356.1 L697.9 356.8 L698.9 357.6 L699.9 358.3 L700.9 359.0 L701.9 359.8 L702.9 360.5 L703.9 361.2 L704.9 361.9 L705.9 362.6 L706.9 363.3 L707.9 364.0 L708.9 364.6 L709.9 365.2 L710.9 365.8 L711.9 366.4 L712.9 366.9 L713.9 367.4 L714.9 367.9 L715.9 368.3 L716.9 368.7 L717.9 369.1 L718.9 369.4 L719.9 369.8 L720.9 370.1 L721.9 370.3 L722.9 370.6 L723.9 370.8 L724.9 371.0 L725.9 371.2 L726.9 371.3 L727.9 371.5 L728.9 371.6 L729.9 371.7 L730.9 371.8 L731.9 371.8 L732.9 371.9 L733.9 371.9 L734.9 371.9 L735.9 371.9 L736.9 371.9 L737.9 371.8 L738.9 371.8 L739.9 371.7 L740.9 371.6 L741.9 371.5 L742.9 371.4 L743.9 371.3 L744.9 371.2 L745.9 371.1 L746.9 371.0 L747.9 370.9 L748.9 370.8 L749.9 370.7 L750.9 370.6 L751.9 370.4 L752.9 370.3 L753.9 370.2 L754.9 370.1 L755.9 370.0 L756.9 370.0 L757.9 369.9 L758.9 369.8 L759.9 369.8 L760.9 369.7 L761.9 369.7 L762.9 369.7 L763.9 369.7 L764.9 369.7 L765.9 369.8 L766.9 369.9 L767.9 369.9 L768.9 370.1 L769.9 370.2 L770.9 370.3 L771.9 370.5 L772.9 370.7 L773.9 370.9 L774.9 371.2 L775.9 371.4 L776.9 371.7 L777.9 372.0 L778.9 372.4 L779.9 372.7 L780.9 373.1 L781.9 373.5 L782.9 373.9 L783.9 374.4 L784.9 374.8 L785.9 375.3 L786.9 375.8 L787.9 376.3 L788.9 376.9 L789.9 377.5 L790.9 378.1 L791.9 378.7 L792.9 379.3 L793.9 380.0 L794.9 380.7 L795.9 381.4 L796.9 382.1 L797.9 382.8 L798.9 383.6 L799.9 384.4 L800.9 385.2 L801.9 385.9 L802.9 386.8 L803.9 387.6 L804.9 388.4 L805.9 389.2 L806.9 390.1 L807.9 390.9 L808.9 391.8 L809.9 392.7 L810.9 393.5 L811.9 394.4 L812.9 395.3 L813.9 396.2 L814.9 397.0 L815.9 397.9 L816.9 398.8 L817.9 399.7 L818.9 400.6 L819.9 401.5 L820.9 402.4 L821.9 403.3 L822.9 404.2 L823.9 405.1" stroke="#2ca02c" stroke-width="3.5" fill="none" stroke-linejoin="round" stroke-linecap="butt"/>
<path d="M145.0 426.0 L146.0 426.3 L147.0 426.5 L148.0 426.7 L149.0 427.0 L150.0 427.2 L151.0 427.4 L152.0 427.5 L153.0 427.6 L154.0 427.7 L155.0 427.8 L156.0 427.8 L157.0 427.7 L158.0 427.6 L159.0 427.5 L160.0 427.3 L161.0 427.0 L162.0 426.7 L163.0 426.4 L164.0 426.0 L165.0 425.6 L166.0 425.1 L167.0 424.6 L168.0 424.0 L169.0 423.4 L170.0 422.7 L171.0 422.0 L172.0 421.2 L173.0 420.4 L174.0 419.6 L175.0 418.7 L176.0 417.8 L177.0 416.8 L178.0 415.8 L179.0 414.7 L180.0 413.6 L181.0 412.5 L182.0 411.3 L183.0 410.1 L184.0 408.8 L185.0 407.5 L186.0 406.2 L187.0 404.8 L188.0 403.4 L189.0 401.9 L190.0 400.5 L191.0 399.0 L192.0 397.4 L193.0 395.9 L194.0 394.3 L195.0 392.7 L196.0 391.1 L197.0 389.5 L198.0 387.8 L199.0 386.2 L200.0 384.5 L201.0 382.8 L202.0 381.1 L203.0 379.4 L204.0 377.7 L205.0 376.0 L206.0 374.3 L207.0 372.7 L208.0 371.0 L209.0 369.3 L210.0 367.6 L211.0 366.0 L212.0 364.3 L213.0 362.7 L214.0 361.1 L215.0 359.5 L216.0 357.9 L217.0 356.3 L218.0 354.8 L219.0 353.3 L220.0 351.8 L221.0 350.4 L222.0 348.9 L223.0 347.6 L224.0 346.2 L225.0 344.9 L226.0 343.6 L227.0 342.4 L228.0 341.2 L229.0 340.0 L230.0 338.9 L231.0 337.8 L232.0 336.8 L233.0 335.8 L234.0 334.8 L235.0 333.9 L236.0 333.1 L237.0 332.3 L238.0 331.5 L239.0 330.8 L240.0 330.1 L241.0 329.5 L242.0 329.0 L243.0 328.5 L244.0 328.1 L245.0 327.7 L246.0 327.4 L247.0 327.1 L248.0 327.0 L249.0 326.8 L250.0 326.8 L251.0 326.8 L252.0 326.8 L253.0 327.0 L254.0 327.1 L255.0 327.4 L256.0 327.7 L257.0 328.1 L258.0 328.5 L259.0 329.0 L260.0 329.5 L261.0 330.1 L262.0 330.8 L263.0 331.5 L264.0 332.3 L265.0 333.1 L266.0 334.0 L267.0 334.9 L268.0 335.9 L269.0 336.9 L270.0 338.0 L271.0 339.1 L272.0 340.3 L273.0 341.5 L274.0 342.8 L275.0 344.1 L276.0 345.5 L277.0 346.9 L278.0 348.3 L279.0 349.8 L280.0 351.3 L281.0 352.8 L282.0 354.3 L283.0 355.9 L284.0 357.5 L285.0 359.1 L286.0 360.8 L287.0 362.4 L288.0 364.1 L289.0 365.8 L290.0 367.5 L291.0 369.3 L292.0 371.0 L293.0 372.8 L294.0 374.5 L295.0 376.3 L296.0 378.1 L297.0 379.9 L298.0 381.7 L299.0 383.6 L300.0 385.4 L301.0 387.2 L302.0 389.1 L303.0 390.9 L304.0 392.8 L305.0 394.6 L306.0 396.5 L307.0 398.4 L308.0 400.3 L309.0 402.2 L310.0 404.1 L311.0 406.0 L312.0 407.9 L313.0 409.8 L314.0 411.7 L315.0 413.6 L316.0 415.6 L317.0 417.5 L318.0 419.4 L319.0 421.3 L320.0 423.2 L321.0 425.1 L322.0 427.0 L323.0 428.8 L324.0 430.7 L325.0 432.6 L326.0 434.5 L327.0 436.3 L328.0 438.2 L329.0 440.0 L330.0 441.9 L331.0 443.7 L332.0 445.5 L333.0 447.4 L334.0 449.2 L335.0 451.0 L336.0 452.8 L337.0 454.6 L338.0 456.4 L339.0 458.2 L340.0 460.0 L341.0 461.8 L342.0 463.5 L343.0 465.3 L344.0 467.0 L345.0 468.7 L346.0 470.3 L347.0 472.0 L348.0 473.6 L349.0 475.2 L350.0 476.7 L351.0 478.3 L352.0 479.7 L353.0 481.2 L354.0 482.6 L355.0 484.0 L356.0 485.3 L357.0 486.7 L358.0 487.9 L359.0 489.2 L360.0 490.4 L361.0 491.5 L362.0 492.7 L363.0 493.8 L364.0 494.9 L365.0 495.9 L366.0 497.0 L367.0 498.0 L368.0 498.9 L369.0 499.9 L370.0 500.8 L371.0 501.8 L372.0 502.7 L373.0 503.6 L374.0 504.4 L375.0 505.3 L376.0 506.1 L377.0 506.9 L378.0 507.7 L379.0 508.5 L380.0 509.2 L381.0 510.0 L382.0 510.7 L383.0 511.4 L384.0 512.1 L385.0 512.7 L386.0 513.4 L387.0 514.0 L388.0 514.5 L389.0 515.1 L390.0 515.6 L391.0 516.1 L392.0 516.5 L393.0 516.9 L394.0 517.3 L395.0 517.6 L396.0 517.9 L397.0 518.1 L398.0 518.3 L399.0 518.5 L400.0 518.6 L401.0 518.6 L402.0 518.6 L403.0 518.6 L404.0 518.5 L405.0 518.3 L406.0 518.1 L407.0 517.9 L408.0 517.6 L409.0 517.2 L410.0 516.9 L411.0 516.4 L412.0 515.9 L413.0 515.4 L414.0 514.8 L415.0 514.2 L416.0 513.6 L417.0 512.9 L418.0 512.1 L419.0 511.4 L420.0 510.5 L421.0 509.7 L422.0 508.8 L423.0 507.8 L424.0 506.9 L425.0 505.8 L426.0 504.8 L427.0 503.7 L427.9 502.6 L428.9 501.4 L429.9 500.2 L430.9 499.0 L431.9 497.7 L432.9 496.4 L433.9 495.1 L434.9 493.8 L435.9 492.4 L436.9 490.9 L437.9 489.5 L438.9 488.0 L439.9 486.4 L440.9 484.8 L441.9 483.2 L442.9 481.6 L443.9 479.9 L444.9 478.2 L445.9 476.5 L446.9 474.7 L447.9 472.9 L448.9 471.1 L449.9 469.3 L450.9 467.4 L451.9 465.5 L452.9 463.5 L453.9 461.5 L454.9 459.6 L455.9 457.5 L456.9 455.5 L457.9 453.4 L458.9 451.3 L459.9 449.2 L460.9 447.1 L461.9 444.9 L462.9 442.7 L463.9 440.5 L464.9 438.3 L465.9 436.1 L466.9 433.9 L467.9 431.7 L468.9 429.5 L469.9 427.3 L470.9 425.1 L471.9 422.8 L472.9 420.7 L473.9 418.5 L474.9 416.3 L475.9 414.2 L476.9 412.1 L477.9 410.0 L478.9 407.9 L479.9 405.8 L480.9 403.7 L481.9 401.7 L482.9 399.7 L483.9 397.6 L484.9 395.6 L485.9 393.6 L486.9 391.6 L487.9 389.5 L488.9 387.5 L489.9 385.5 L490.9 383.4 L491.9 381.4 L492.9 379.3 L493.9 377.2 L494.9 375.1 L495.9 373.0 L496.9 370.9 L497.9 368.8 L498.9 366.7 L499.9 364.6 L500.9 362.5 L501.9 360.4 L502.9 358.3 L503.9 356.3 L504.9 354.2 L505.9 352.2 L506.9 350.2 L507.9 348.2 L508.9 346.2 L509.9 344.3 L510.9 342.3 L511.9 340.4 L512.9 338.5 L513.9 336.7 L514.9 334.8 L515.9 333.0 L516.9 331.2 L517.9 329.4 L518.9 327.6 L519.9 325.9 L520.9 324.1 L521.9 322.4 L522.9 320.6 L523.9 318.9 L524.9 317.2 L525.9 315.5 L526.9 313.8 L527.9 312.1 L528.9 310.5 L529.9 308.9 L530.9 307.3 L531.9 305.8 L532.9 304.3 L533.9 302.8 L534.9 301.4 L535.9 300.0 L536.9 298.7 L537.9 297.4 L538.9 296.2 L539.9 295.1 L540.9 293.9 L541.9 292.9 L542.9 291.9 L543.9 290.9 L544.9 290.0 L545.9 289.2 L546.9 288.4 L547.9 287.7 L548.9 287.0 L549.9 286.3 L550.9 285.7 L551.9 285.2 L552.9 284.6 L553.9 284.2 L554.9 283.7 L555.9 283.4 L556.9 283.0 L557.9 282.7 L558.9 282.4 L559.9 282.2 L560.9 282.0 L561.9 281.8 L562.9 281.7 L563.9 281.6 L564.9 281.5 L565.9 281.4 L566.9 281.4 L567.9 281.4 L568.9 281.4 L569.9 281.5 L570.9 281.6 L571.9 281.7 L572.9 281.9 L573.9 282.0 L574.9 282.2 L575.9 282.4 L576.9 282.7 L577.9 283.0 L578.9 283.3 L579.9 283.6 L580.9 283.9 L581.9 284.3 L582.9 284.7 L583.9 285.2 L584.9 285.6 L585.9 286.1 L586.9 286.7 L587.9 287.2 L588.9 287.8 L589.9 288.4 L590.9 289.0 L591.9 289.7 L592.9 290.4 L593.9 291.1 L594.9 291.8 L595.9 292.6 L596.9 293.4 L597.9 294.2 L598.9 295.0 L599.9 295.8 L600.9 296.7 L601.9 297.6 L602.9 298.5 L603.9 299.4 L604.9 300.3 L605.9 301.2 L606.9 302.2 L607.9 303.1 L608.9 304.1 L609.9 305.1 L610.9 306.1 L611.9 307.1 L612.9 308.0 L613.9 309.0 L614.9 310.0 L615.9 311.1 L616.9 312.1 L617.9 313.1 L618.9 314.1 L619.9 315.1 L620.9 316.2 L621.9 317.2 L622.9 318.2 L623.9 319.3 L624.9 320.3 L625.9 321.4 L626.9 322.4 L627.9 323.5 L628.9 324.6 L629.9 325.7 L630.9 326.7 L631.9 327.8 L632.9 328.9 L633.9 330.0 L634.9 331.1 L635.9 332.2 L636.9 333.3 L637.9 334.4 L638.9 335.5 L639.9 336.6 L640.9 337.7 L641.9 338.8 L642.9 339.9 L643.9 341.0 L644.9 342.1 L645.9 343.3 L646.9 344.4 L647.9 345.5 L648.9 346.6 L649.9 347.7 L650.9 348.8 L651.9 349.9 L652.9 351.0 L653.9 352.1 L654.9 353.2 L655.9 354.3 L656.9 355.4 L657.9 356.5 L658.9 357.5 L659.9 358.6 L660.9 359.7 L661.9 360.7 L662.9 361.8 L663.9 362.8 L664.9 363.8 L665.9 364.8 L666.9 365.9 L667.9 366.8 L668.9 367.8 L669.9 368.8 L670.9 369.7 L671.9 370.7 L672.9 371.6 L673.9 372.5 L674.9 373.4 L675.9 374.3 L676.9 375.2 L677.9 376.0 L678.9 376.9 L679.9 377.7 L680.9 378.5 L681.9 379.3 L682.9 380.1 L683.9 380.8 L684.9 381.6 L685.9 382.3 L686.9 383.1 L687.9 383.8 L688.9 384.5 L689.9 385.1 L690.9 385.8 L691.9 386.5 L692.9 387.1 L693.9 387.7 L694.9 388.3 L695.9 388.9 L696.9 389.5 L697.9 390.1 L698.9 390.7 L699.9 391.3 L700.9 391.8 L701.9 392.3 L702.9 392.9 L703.9 393.4 L704.9 393.9 L705.9 394.4 L706.9 394.8 L707.9 395.3 L708.9 395.7 L709.9 396.1 L710.9 396.5 L711.9 396.9 L712.9 397.2 L713.9 397.6 L714.9 397.9 L715.9 398.2 L716.9 398.4 L717.9 398.7 L718.9 398.9 L719.9 399.1 L720.9 399.2 L721.9 399.4 L722.9 399.5 L723.9 399.6 L724.9 399.7 L725.9 399.8 L726.9 399.8 L727.9 399.9 L728.9 399.9 L729.9 399.8 L730.9 399.8 L731.9 399.8 L732.9 399.7 L733.9 399.6 L734.9 399.5 L735.9 399.4 L736.9 399.2 L737.9 399.1 L738.9 398.9 L739.9 398.8 L740.9 398.6 L741.9 398.4 L742.9 398.2 L743.9 398.0 L744.9 397.8 L745.9 397.6 L746.9 397.3 L747.9 397.1 L748.9 396.9 L749.9 396.7 L750.9 396.4 L751.9 396.2 L752.9 396.0 L753.9 395.8 L754.9 395.6 L755.9 395.4 L756.9 395.2 L757.9 395.0 L758.9 394.8 L759.9 394.7 L760.9 394.5 L761.9 394.4 L762.9 394.3 L763.9 394.2 L764.9 394.1 L765.9 394.1 L766.9 394.0 L767.9 394.0 L768.9 394.0 L769.9 394.1 L770.9 394.2 L771.9 394.3 L772.9 394.4 L773.9 394.5 L774.9 394.7 L775.9 394.9 L776.9 395.1 L777.9 395.4 L778.9 395.7 L779.9 396.0 L780.9 396.3 L781.9 396.6 L782.9 397.0 L783.9 397.4 L784.9 397.8 L785.9 398.2 L786.9 398.6 L787.9 399.1 L788.9 399.6 L789.9 400.0 L790.9 400.6 L791.9 401.1 L792.9 401.6 L793.9 402.2 L794.9 402.8 L795.9 403.4 L796.9 404.0 L797.9 404.6 L798.9 405.2 L799.9 405.9 L800.9 406.6 L801.9 407.2 L802.9 407.9 L803.9 408.7 L804.9 409.4 L805.9 410.1 L806.9 410.9 L807.9 411.7 L808.9 412.5 L809.9 413.3 L810.9 414.1 L811.9 414.9 L812.9 415.7 L813.9 416.6 L814.9 417.4 L815.9 418.3 L816.9 419.2 L817.9 420.0 L818.9 420.9 L819.9 421.8 L820.9 422.7 L821.9 423.6 L822.9 424.5 L823.9 425.4" stroke="#d62728" stroke-width="3.5" fill="none" stroke-linejoin="round" stroke-linecap="butt"/>
<path d="M248.36 552.56V95.60" stroke="#000" stroke-width="2.7" stroke-dasharray="9.0 4.7" fill="none"/>
<path d="M497.17 552.56V95.60" stroke="#000" stroke-width="2.7" stroke-dasharray="9.0 4.7" fill="none"/>
<path d="M665.19 552.56V95.60" stroke="#000" stroke-width="2.7" stroke-dasharray="9.0 4.7" fill="none"/>
<text x="249.56" y="79.50" font-size="23.0" text-anchor="middle"><tspan font-style="italic">t</tspan><tspan font-size="16.1" dy="3.7">1</tspan></text>
<text x="498.37" y="79.50" font-size="23.0" text-anchor="middle"><tspan font-style="italic">t</tspan><tspan font-size="16.1" dy="3.7">2</tspan></text>
<text x="666.39" y="79.50" font-size="23.0" text-anchor="middle"><tspan font-style="italic">t</tspan><tspan font-size="16.1" dy="3.7">3</tspan></text>
<path d="M147.10 606.32H391.88" stroke="#000" stroke-width="2.5" fill="none"/><path d="M157.70 601.17L147.10 606.32L157.70 611.47" stroke="#000" stroke-width="2.5" fill="none" stroke-linecap="round" stroke-linejoin="round"/><path d="M381.28 601.17L391.88 606.32L381.28 611.47" stroke="#000" stroke-width="2.5" fill="none" stroke-linecap="round" stroke-linejoin="round"/>
<path d="M396.08 606.32H821.78" stroke="#000" stroke-width="2.5" fill="none"/><path d="M406.68 601.17L396.08 606.32L406.68 611.47" stroke="#000" stroke-width="2.5" fill="none" stroke-linecap="round" stroke-linejoin="round"/><path d="M811.18 601.17L821.78 606.32L811.18 611.47" stroke="#000" stroke-width="2.5" fill="none" stroke-linecap="round" stroke-linejoin="round"/>
<text x="268.22" y="592.88" font-size="25.9" text-anchor="middle">systole</text>
<text x="605.62" y="592.88" font-size="25.9" text-anchor="middle">diastole</text>
<rect x="124.00" y="95.60" width="721.00" height="537.60" stroke="#333" stroke-width="1.6" fill="none"/>
<path d="M145.00 633.20V637.80M314.72 633.20V637.80M484.44 633.20V637.80M654.16 633.20V637.80M823.88 633.20V637.80M124.00 633.20H119.40M124.00 566.00H119.40M124.00 498.80H119.40M124.00 431.60H119.40M124.00 364.40H119.40M124.00 297.20H119.40M124.00 230.00H119.40M124.00 162.80H119.40M124.00 95.60H119.40" stroke="#333" stroke-width="1.6" fill="none"/>
<text x="145.00" y="666.70" font-size="31.0" text-anchor="middle">0.0</text>
<text x="314.72" y="666.70" font-size="31.0" text-anchor="middle">0.2</text>
<text x="484.44" y="666.70" font-size="31.0" text-anchor="middle">0.4</text>
<text x="654.16" y="666.70" font-size="31.0" text-anchor="middle">0.6</text>
<text x="823.88" y="666.70" font-size="31.0" text-anchor="middle">0.8</text>
<text x="114.40" y="644.40" font-size="31.0" text-anchor="end">0.0</text>
<text x="114.40" y="577.20" font-size="31.0" text-anchor="end">2.5</text>
<text x="114.40" y="510.00" font-size="31.0" text-anchor="end">5.0</text>
<text x="114.40" y="442.80" font-size="31.0" text-anchor="end">7.5</text>
<text x="114.40" y="375.60" font-size="31.0" text-anchor="end">10.0</text>
<text x="114.40" y="308.40" font-size="31.0" text-anchor="end">12.5</text>
<text x="114.40" y="241.20" font-size="31.0" text-anchor="end">15.0</text>
<text x="114.40" y="174.00" font-size="31.0" text-anchor="end">17.5</text>
<text x="114.40" y="106.80" font-size="31.0" text-anchor="end">20.0</text>
<text x="484.50" y="697.10" font-size="25.9" text-anchor="middle">cyclic time [s]</text>
<text transform="translate(34.80 364.40) rotate(-90)" x="0" y="0" font-size="25.9" text-anchor="middle">specific kinetic energy [<tspan font-style="italic">J</tspan>/<tspan font-style="italic">m</tspan><tspan font-size="18.1" dy="-9.5">3</tspan><tspan dy="9.5">]</tspan></text>
<text x="15.00" y="40.40" font-size="29.6" font-weight="bold" font-family="'Liberation Sans', Arial, sans-serif">A</text>
<path d="M1061.50 95.60V633.00M1231.30 95.60V633.00M1401.10 95.60V633.00M1570.90 95.60V633.00M1740.70 95.60V633.00M1040.30 633.00H1761.70M1040.30 543.43H1761.70M1040.30 453.87H1761.70M1040.30 364.30H1761.70M1040.30 274.73H1761.70M1040.30 185.17H1761.70M1040.30 95.60H1761.70" stroke="#c9c9c9" stroke-width="1.5" fill="none"/>
<path d="M1061.5 490.4 L1062.5 490.1 L1063.5 489.9 L1064.5 489.6 L1065.5 489.3 L1066.5 488.9 L1067.5 488.5 L1068.5 488.1 L1069.5 487.5 L1070.5 486.9 L1071.5 486.3 L1072.5 485.5 L1073.5 484.7 L1074.5 483.7 L1075.5 482.7 L1076.5 481.6 L1077.5 480.4 L1078.5 479.1 L1079.5 477.8 L1080.5 476.3 L1081.5 474.8 L1082.5 473.1 L1083.5 471.4 L1084.5 469.6 L1085.5 467.7 L1086.5 465.7 L1087.5 463.6 L1088.5 461.5 L1089.5 459.3 L1090.5 457.0 L1091.5 454.6 L1092.5 452.2 L1093.5 449.7 L1094.5 447.2 L1095.5 444.6 L1096.5 441.9 L1097.5 439.2 L1098.5 436.4 L1099.5 433.6 L1100.5 430.8 L1101.5 428.0 L1102.5 425.1 L1103.5 422.1 L1104.4 419.2 L1105.4 416.2 L1106.4 413.2 L1107.4 410.1 L1108.4 407.0 L1109.4 403.9 L1110.4 400.7 L1111.4 397.5 L1112.4 394.3 L1113.4 391.0 L1114.4 387.7 L1115.4 384.4 L1116.4 381.1 L1117.4 377.7 L1118.4 374.3 L1119.4 370.9 L1120.4 367.4 L1121.4 364.0 L1122.4 360.5 L1123.4 357.0 L1124.4 353.6 L1125.4 350.1 L1126.4 346.7 L1127.4 343.3 L1128.4 340.0 L1129.4 336.7 L1130.4 333.4 L1131.4 330.2 L1132.4 327.1 L1133.4 324.0 L1134.4 321.0 L1135.4 318.0 L1136.4 315.1 L1137.4 312.3 L1138.4 309.6 L1139.4 306.9 L1140.4 304.3 L1141.4 301.8 L1142.4 299.4 L1143.4 297.1 L1144.4 294.9 L1145.4 292.7 L1146.4 290.7 L1147.4 288.7 L1148.4 286.8 L1149.4 285.1 L1150.4 283.4 L1151.4 281.8 L1152.4 280.4 L1153.4 279.0 L1154.4 277.7 L1155.4 276.5 L1156.4 275.5 L1157.4 274.5 L1158.4 273.6 L1159.4 272.9 L1160.4 272.2 L1161.4 271.7 L1162.4 271.2 L1163.4 270.9 L1164.4 270.7 L1165.4 270.6 L1166.4 270.5 L1167.4 270.6 L1168.4 270.8 L1169.4 271.1 L1170.4 271.4 L1171.4 271.9 L1172.4 272.5 L1173.4 273.1 L1174.4 273.9 L1175.4 274.8 L1176.4 275.7 L1177.4 276.8 L1178.4 277.9 L1179.4 279.1 L1180.4 280.4 L1181.4 281.8 L1182.4 283.3 L1183.4 284.9 L1184.4 286.5 L1185.4 288.2 L1186.4 290.1 L1187.4 291.9 L1188.4 293.9 L1189.3 295.9 L1190.3 298.0 L1191.3 300.1 L1192.3 302.4 L1193.3 304.6 L1194.3 307.0 L1195.3 309.3 L1196.3 311.8 L1197.3 314.2 L1198.3 316.7 L1199.3 319.3 L1200.3 321.9 L1201.3 324.5 L1202.3 327.2 L1203.3 329.9 L1204.3 332.6 L1205.3 335.3 L1206.3 338.0 L1207.3 340.8 L1208.3 343.5 L1209.3 346.3 L1210.3 349.1 L1211.3 351.8 L1212.3 354.6 L1213.3 357.3 L1214.3 360.1 L1215.3 362.8 L1216.3 365.5 L1217.3 368.2 L1218.3 370.9 L1219.3 373.6 L1220.3 376.3 L1221.3 379.0 L1222.3 381.6 L1223.3 384.3 L1224.3 386.9 L1225.3 389.6 L1226.3 392.2 L1227.3 394.9 L1228.3 397.5 L1229.3 400.2 L1230.3 402.9 L1231.3 405.6 L1232.3 408.3 L1233.3 411.0 L1234.3 413.7 L1235.3 416.4 L1236.3 419.1 L1237.3 421.8 L1238.3 424.5 L1239.3 427.1 L1240.3 429.8 L1241.3 432.5 L1242.3 435.2 L1243.3 437.8 L1244.3 440.4 L1245.3 443.0 L1246.3 445.6 L1247.3 448.2 L1248.3 450.8 L1249.3 453.3 L1250.3 455.8 L1251.3 458.3 L1252.3 460.8 L1253.3 463.3 L1254.3 465.8 L1255.3 468.3 L1256.3 470.7 L1257.3 473.2 L1258.3 475.6 L1259.3 478.1 L1260.3 480.5 L1261.3 482.9 L1262.3 485.3 L1263.3 487.6 L1264.3 490.0 L1265.3 492.3 L1266.3 494.6 L1267.3 496.9 L1268.3 499.1 L1269.3 501.3 L1270.3 503.5 L1271.3 505.7 L1272.3 507.7 L1273.3 509.8 L1274.2 511.8 L1275.2 513.8 L1276.2 515.7 L1277.2 517.5 L1278.2 519.4 L1279.2 521.1 L1280.2 522.8 L1281.2 524.4 L1282.2 526.0 L1283.2 527.5 L1284.2 529.0 L1285.2 530.4 L1286.2 531.7 L1287.2 533.0 L1288.2 534.2 L1289.2 535.3 L1290.2 536.4 L1291.2 537.4 L1292.2 538.4 L1293.2 539.3 L1294.2 540.1 L1295.2 541.0 L1296.2 541.7 L1297.2 542.4 L1298.2 543.1 L1299.2 543.7 L1300.2 544.3 L1301.2 544.8 L1302.2 545.3 L1303.2 545.7 L1304.2 546.1 L1305.2 546.4 L1306.2 546.7 L1306.3 546.8 L1306.5 546.8 L1306.8 546.9 L1307.0 546.9 L1307.2 547.0 L1307.3 547.0 L1307.5 547.0 L1307.8 546.9 L1308.0 546.8 L1308.2 546.7 L1308.3 546.6 L1308.5 546.1 L1308.8 545.5 L1309.0 544.6 L1309.2 543.9 L1309.3 543.5 L1309.5 542.4 L1309.8 541.4 L1310.0 540.7 L1310.2 540.5 L1310.3 540.5 L1310.5 540.8 L1310.8 541.5 L1311.0 542.6 L1311.2 543.3 L1311.3 543.7 L1311.5 544.8 L1311.8 545.8 L1312.0 546.5 L1312.2 546.8 L1312.3 547.0 L1312.5 547.3 L1312.8 547.5 L1313.0 547.6 L1313.2 547.7 L1313.3 547.7 L1313.5 547.7 L1313.8 547.7 L1314.0 547.7 L1314.2 547.7 L1314.3 547.7 L1315.2 547.7 L1316.2 547.7 L1317.2 547.6 L1318.2 547.5 L1319.2 547.4 L1320.2 547.3 L1321.2 547.2 L1322.2 547.1 L1323.2 547.0 L1324.2 546.9 L1325.2 546.7 L1326.2 546.6 L1327.2 546.4 L1328.2 546.3 L1329.2 546.1 L1330.2 545.9 L1331.2 545.7 L1332.2 545.5 L1333.2 545.3 L1334.2 545.1 L1335.2 544.9 L1336.2 544.7 L1337.2 544.5 L1338.2 544.2 L1339.2 544.0 L1340.2 543.7 L1341.2 543.5 L1342.2 543.2 L1343.2 542.9 L1344.2 542.6 L1345.2 542.3 L1346.2 541.9 L1347.2 541.6 L1348.2 541.2 L1349.2 540.8 L1350.2 540.4 L1351.2 540.0 L1352.2 539.6 L1353.2 539.1 L1354.2 538.6 L1355.2 538.2 L1356.2 537.6 L1357.2 537.1 L1358.2 536.6 L1359.1 536.0 L1360.1 535.4 L1361.1 534.8 L1362.1 534.2 L1363.1 533.5 L1364.1 532.9 L1365.1 532.2 L1366.1 531.5 L1367.1 530.8 L1368.1 530.1 L1369.1 529.4 L1370.1 528.6 L1371.1 527.9 L1372.1 527.1 L1373.1 526.3 L1374.1 525.5 L1375.1 524.7 L1376.1 523.9 L1377.1 523.0 L1378.1 522.2 L1379.1 521.3 L1380.1 520.4 L1381.1 519.4 L1382.1 518.5 L1383.1 517.5 L1384.1 516.5 L1385.1 515.5 L1386.1 514.5 L1387.1 513.4 L1388.1 512.4 L1389.1 511.3 L1390.1 510.3 L1391.1 509.2 L1392.1 508.1 L1393.1 507.0 L1394.1 505.9 L1395.1 504.9 L1396.1 503.8 L1397.1 502.7 L1398.1 501.6 L1399.1 500.5 L1400.1 499.5 L1401.1 498.4 L1402.1 497.4 L1403.1 496.3 L1404.1 495.3 L1405.1 494.3 L1406.1 493.2 L1407.1 492.3 L1408.1 491.3 L1409.1 490.3 L1410.1 489.4 L1411.1 488.4 L1412.1 487.5 L1413.1 486.6 L1414.1 485.7 L1415.1 484.8 L1416.1 484.0 L1417.1 483.2 L1418.1 482.3 L1419.1 481.5 L1420.1 480.8 L1421.1 480.0 L1422.1 479.3 L1423.1 478.5 L1424.1 477.8 L1425.1 477.2 L1426.1 476.5 L1427.1 475.9 L1428.1 475.2 L1429.1 474.6 L1430.1 474.0 L1431.1 473.5 L1432.1 472.9 L1433.1 472.4 L1434.1 471.9 L1435.1 471.4 L1436.1 470.9 L1437.1 470.5 L1438.1 470.1 L1439.1 469.6 L1440.1 469.3 L1441.1 468.9 L1442.1 468.5 L1443.1 468.2 L1444.0 467.8 L1445.0 467.5 L1446.0 467.2 L1447.0 466.9 L1448.0 466.7 L1449.0 466.4 L1450.0 466.2 L1451.0 465.9 L1452.0 465.7 L1453.0 465.5 L1454.0 465.3 L1455.0 465.1 L1456.0 464.9 L1457.0 464.8 L1458.0 464.6 L1459.0 464.5 L1460.0 464.4 L1461.0 464.2 L1462.0 464.1 L1463.0 464.0 L1464.0 463.9 L1465.0 463.8 L1466.0 463.7 L1467.0 463.7 L1468.0 463.6 L1469.0 463.5 L1470.0 463.5 L1471.0 463.4 L1472.0 463.4 L1473.0 463.3 L1474.0 463.3 L1475.0 463.2 L1476.0 463.2 L1477.0 463.2 L1478.0 463.2 L1479.0 463.2 L1480.0 463.1 L1481.0 463.1 L1482.0 463.1 L1483.0 463.2 L1484.0 463.2 L1485.0 463.2 L1486.0 463.2 L1487.0 463.2 L1488.0 463.3 L1489.0 463.3 L1490.0 463.3 L1491.0 463.4 L1492.0 463.4 L1493.0 463.5 L1494.0 463.6 L1495.0 463.6 L1496.0 463.7 L1497.0 463.8 L1498.0 463.9 L1499.0 464.0 L1500.0 464.1 L1501.0 464.2 L1502.0 464.3 L1503.0 464.4 L1504.0 464.5 L1505.0 464.7 L1506.0 464.8 L1507.0 464.9 L1508.0 465.1 L1509.0 465.2 L1510.0 465.4 L1511.0 465.5 L1512.0 465.7 L1513.0 465.8 L1514.0 466.0 L1515.0 466.2 L1516.0 466.3 L1517.0 466.5 L1518.0 466.6 L1519.0 466.8 L1520.0 467.0 L1521.0 467.1 L1522.0 467.3 L1523.0 467.5 L1524.0 467.6 L1525.0 467.8 L1526.0 467.9 L1527.0 468.1 L1528.0 468.3 L1528.9 468.4 L1529.9 468.5 L1530.9 468.7 L1531.9 468.8 L1532.9 468.9 L1533.9 469.1 L1534.9 469.2 L1535.9 469.3 L1536.9 469.4 L1537.9 469.5 L1538.9 469.6 L1539.9 469.7 L1540.9 469.7 L1541.9 469.8 L1542.9 469.9 L1543.9 469.9 L1544.9 469.9 L1545.9 470.0 L1546.9 470.0 L1547.9 470.0 L1548.9 470.0 L1549.9 470.0 L1550.9 470.0 L1551.9 469.9 L1552.9 469.9 L1553.9 469.9 L1554.9 469.8 L1555.9 469.8 L1556.9 469.7 L1557.9 469.7 L1558.9 469.6 L1559.9 469.6 L1560.9 469.5 L1561.9 469.4 L1562.9 469.4 L1563.9 469.3 L1564.9 469.2 L1565.9 469.1 L1566.9 469.1 L1567.9 469.0 L1568.9 468.9 L1569.9 468.9 L1570.9 468.8 L1571.9 468.8 L1572.9 468.7 L1573.9 468.7 L1574.9 468.6 L1575.9 468.6 L1576.9 468.5 L1577.9 468.5 L1578.9 468.5 L1579.9 468.5 L1580.9 468.5 L1581.9 468.4 L1582.9 468.4 L1583.9 468.4 L1584.9 468.5 L1585.9 468.5 L1586.9 468.5 L1587.9 468.5 L1588.9 468.6 L1589.9 468.6 L1590.9 468.7 L1591.9 468.7 L1592.9 468.8 L1593.9 468.8 L1594.9 468.9 L1595.9 469.0 L1596.9 469.1 L1597.9 469.2 L1598.9 469.3 L1599.9 469.4 L1600.9 469.6 L1601.9 469.7 L1602.9 469.9 L1603.9 470.0 L1604.9 470.2 L1605.9 470.3 L1606.9 470.5 L1607.9 470.7 L1608.9 470.9 L1609.9 471.0 L1610.9 471.2 L1611.9 471.4 L1612.9 471.7 L1613.8 471.9 L1614.8 472.1 L1615.8 472.3 L1616.8 472.5 L1617.8 472.8 L1618.8 473.0 L1619.8 473.2 L1620.8 473.4 L1621.8 473.6 L1622.8 473.9 L1623.8 474.1 L1624.8 474.3 L1625.8 474.5 L1626.8 474.7 L1627.8 474.9 L1628.8 475.1 L1629.8 475.2 L1630.8 475.4 L1631.8 475.6 L1632.8 475.7 L1633.8 475.9 L1634.8 476.1 L1635.8 476.2 L1636.8 476.4 L1637.8 476.5 L1638.8 476.7 L1639.8 476.8 L1640.8 476.9 L1641.8 477.1 L1642.8 477.2 L1643.8 477.3 L1644.8 477.4 L1645.8 477.6 L1646.8 477.7 L1647.8 477.8 L1648.8 477.9 L1649.8 478.0 L1650.8 478.1 L1651.8 478.3 L1652.8 478.4 L1653.8 478.5 L1654.8 478.6 L1655.8 478.7 L1656.8 478.8 L1657.8 478.9 L1658.8 479.0 L1659.8 479.1 L1660.8 479.2 L1661.8 479.3 L1662.8 479.4 L1663.8 479.5 L1664.8 479.6 L1665.8 479.8 L1666.8 479.9 L1667.8 480.0 L1668.8 480.1 L1669.8 480.3 L1670.8 480.4 L1671.8 480.5 L1672.8 480.7 L1673.8 480.8 L1674.8 480.9 L1675.8 481.1 L1676.8 481.2 L1677.8 481.3 L1678.8 481.5 L1679.8 481.6 L1680.8 481.8 L1681.8 481.9 L1682.8 482.0 L1683.8 482.2 L1684.8 482.3 L1685.8 482.4 L1686.8 482.5 L1687.8 482.6 L1688.8 482.7 L1689.8 482.7 L1690.0 482.8 L1690.3 482.8 L1690.7 482.8 L1690.8 482.8 L1691.0 482.8 L1691.4 482.8 L1691.7 482.9 L1691.8 482.9 L1692.1 482.9 L1692.4 483.0 L1692.8 483.3 L1692.8 483.3 L1693.1 483.5 L1693.5 483.6 L1693.8 483.5 L1693.8 483.4 L1694.2 482.9 L1694.5 482.3 L1694.8 481.8 L1694.9 481.6 L1695.2 481.1 L1695.6 481.1 L1695.8 481.3 L1695.9 481.6 L1696.3 482.6 L1696.6 483.7 L1696.8 484.0 L1697.0 484.6 L1697.3 485.0 L1697.7 485.0 L1697.8 484.9 L1698.0 484.4 L1698.4 483.5 L1698.7 482.4 L1698.7 482.4 L1699.1 481.4 L1699.4 480.8 L1699.7 480.6 L1699.8 480.7 L1700.1 481.1 L1700.5 481.9 L1700.7 482.6 L1700.8 482.9 L1701.2 484.0 L1701.5 484.7 L1701.7 484.9 L1701.9 485.0 L1702.2 484.7 L1702.6 483.9 L1702.7 483.5 L1702.9 482.9 L1703.3 481.8 L1703.6 480.9 L1703.7 480.8 L1704.0 480.5 L1704.3 480.6 L1704.7 481.2 L1704.7 481.3 L1705.0 482.2 L1705.4 483.3 L1705.7 484.2 L1705.7 484.2 L1706.1 484.8 L1706.4 484.8 L1706.7 484.4 L1706.8 484.3 L1707.1 483.4 L1707.5 482.3 L1707.7 481.6 L1707.8 481.3 L1708.2 480.6 L1708.5 480.5 L1708.7 480.6 L1708.9 480.8 L1709.2 481.6 L1709.6 482.7 L1709.7 483.1 L1709.9 483.7 L1710.3 484.5 L1710.6 484.9 L1710.7 484.9 L1711.0 484.7 L1711.3 484.1 L1711.7 483.1 L1711.7 483.0 L1712.0 482.0 L1712.4 481.2 L1712.7 480.7 L1712.7 480.7 L1713.1 480.8 L1713.4 481.4 L1713.7 482.1 L1713.8 482.3 L1714.1 483.5 L1714.5 484.5 L1714.7 485.0 L1714.8 485.1 L1715.2 485.3 L1715.5 484.9 L1715.7 484.6 L1715.9 484.1 L1716.2 483.1 L1716.6 482.2 L1716.7 481.9 L1716.9 481.5 L1717.3 481.3 L1717.6 481.6 L1717.7 481.8 L1718.0 482.4 L1718.3 483.6 L1718.7 484.7 L1718.7 484.8 L1719.0 485.6 L1719.4 486.2 L1719.7 486.2 L1719.7 486.1 L1720.1 485.6 L1720.4 484.7 L1720.7 484.0 L1720.8 483.8 L1721.1 482.9 L1721.5 482.5 L1721.7 482.5 L1721.8 482.6 L1722.2 483.2 L1722.5 484.2 L1722.7 484.8 L1722.9 485.4 L1723.2 486.5 L1723.6 487.1 L1723.7 487.2 L1723.9 487.2 L1724.3 486.9 L1724.6 486.4 L1724.7 486.3 L1725.0 485.9 L1725.3 485.6 L1725.7 485.6 L1725.7 485.6 L1726.0 485.8 L1726.4 486.2 L1726.7 486.5 L1726.7 486.6 L1727.1 486.8 L1727.4 486.9 L1727.7 487.1 L1727.8 487.1 L1728.1 487.2 L1728.5 487.4 L1728.7 487.5 L1728.8 487.5 L1729.7 487.9 L1730.7 488.3 L1731.7 488.7 L1732.7 489.1 L1733.7 489.5 L1734.7 489.8 L1735.7 490.1 L1736.7 490.4 L1737.7 490.6 L1738.7 490.9 L1739.7 491.1 L1740.7 491.3" stroke="#1f77b4" stroke-width="3.5" fill="none" stroke-linejoin="round" stroke-linecap="butt"/>
<path d="M1061.5 526.3 L1062.5 525.9 L1063.5 525.4 L1064.5 524.9 L1065.5 524.4 L1066.5 523.8 L1067.5 523.2 L1068.5 522.5 L1069.5 521.8 L1070.5 521.0 L1071.5 520.0 L1072.5 519.0 L1073.5 517.9 L1074.5 516.7 L1075.5 515.3 L1076.5 513.8 L1077.5 512.2 L1078.5 510.4 L1079.5 508.5 L1080.5 506.4 L1081.5 504.1 L1082.5 501.7 L1083.5 499.1 L1084.5 496.2 L1085.5 493.2 L1086.5 490.0 L1087.5 486.7 L1088.5 483.1 L1089.5 479.3 L1090.5 475.3 L1091.5 471.2 L1092.5 466.8 L1093.5 462.2 L1094.5 457.5 L1095.5 452.5 L1096.5 447.3 L1097.5 441.9 L1098.5 436.4 L1099.5 430.7 L1100.5 424.9 L1101.5 419.0 L1102.5 413.0 L1103.5 407.0 L1104.4 400.9 L1105.4 394.8 L1106.4 388.7 L1107.4 382.5 L1108.4 376.4 L1109.4 370.2 L1110.4 364.1 L1111.4 358.0 L1112.4 352.0 L1113.4 345.9 L1114.4 339.9 L1115.4 333.9 L1116.4 328.0 L1117.4 322.1 L1118.4 316.2 L1119.4 310.4 L1120.4 304.6 L1121.4 298.8 L1122.4 293.1 L1123.4 287.4 L1124.4 281.8 L1125.4 276.2 L1126.4 270.7 L1127.4 265.3 L1128.4 260.0 L1129.4 254.7 L1130.4 249.5 L1131.4 244.5 L1132.4 239.5 L1133.4 234.5 L1134.4 229.7 L1135.4 225.0 L1136.4 220.4 L1137.4 215.9 L1138.4 211.6 L1139.4 207.3 L1140.4 203.2 L1141.4 199.2 L1142.4 195.4 L1143.4 191.7 L1144.4 188.2 L1145.4 184.9 L1146.4 181.7 L1147.4 178.7 L1148.4 175.9 L1149.4 173.2 L1150.4 170.7 L1151.4 168.4 L1152.4 166.3 L1153.4 164.4 L1154.4 162.6 L1155.4 161.1 L1156.4 159.7 L1157.4 158.4 L1158.4 157.3 L1159.4 156.4 L1160.4 155.6 L1161.4 155.0 L1162.4 154.5 L1163.4 154.2 L1164.4 154.0 L1165.4 153.9 L1166.4 154.0 L1167.4 154.2 L1168.4 154.5 L1169.4 155.0 L1170.4 155.5 L1171.4 156.2 L1172.4 157.1 L1173.4 158.0 L1174.4 159.1 L1175.4 160.3 L1176.4 161.6 L1177.4 163.1 L1178.4 164.7 L1179.4 166.4 L1180.4 168.2 L1181.4 170.1 L1182.4 172.1 L1183.4 174.3 L1184.4 176.5 L1185.4 178.9 L1186.4 181.3 L1187.4 183.9 L1188.4 186.5 L1189.3 189.3 L1190.3 192.1 L1191.3 195.0 L1192.3 197.9 L1193.3 201.0 L1194.3 204.1 L1195.3 207.3 L1196.3 210.5 L1197.3 213.8 L1198.3 217.1 L1199.3 220.5 L1200.3 224.0 L1201.3 227.5 L1202.3 231.1 L1203.3 234.7 L1204.3 238.3 L1205.3 242.0 L1206.3 245.8 L1207.3 249.6 L1208.3 253.4 L1209.3 257.3 L1210.3 261.2 L1211.3 265.1 L1212.3 269.1 L1213.3 273.1 L1214.3 277.1 L1215.3 281.2 L1216.3 285.3 L1217.3 289.4 L1218.3 293.5 L1219.3 297.6 L1220.3 301.7 L1221.3 305.8 L1222.3 310.0 L1223.3 314.1 L1224.3 318.2 L1225.3 322.3 L1226.3 326.4 L1227.3 330.5 L1228.3 334.6 L1229.3 338.7 L1230.3 342.7 L1231.3 346.7 L1232.3 350.7 L1233.3 354.7 L1234.3 358.7 L1235.3 362.7 L1236.3 366.6 L1237.3 370.6 L1238.3 374.6 L1239.3 378.5 L1240.3 382.5 L1241.3 386.5 L1242.3 390.5 L1243.3 394.5 L1244.3 398.5 L1245.3 402.6 L1246.3 406.6 L1247.3 410.6 L1248.3 414.7 L1249.3 418.7 L1250.3 422.7 L1251.3 426.6 L1252.3 430.6 L1253.3 434.5 L1254.3 438.4 L1255.3 442.2 L1256.3 446.0 L1257.3 449.8 L1258.3 453.5 L1259.3 457.1 L1260.3 460.7 L1261.3 464.2 L1262.3 467.7 L1263.3 471.1 L1264.3 474.5 L1265.3 477.8 L1266.3 481.1 L1267.3 484.3 L1268.3 487.5 L1269.3 490.6 L1270.3 493.7 L1271.3 496.7 L1272.3 499.7 L1273.3 502.7 L1274.2 505.6 L1275.2 508.4 L1276.2 511.2 L1277.2 514.0 L1278.2 516.7 L1279.2 519.3 L1280.2 521.9 L1281.2 524.4 L1282.2 526.9 L1283.2 529.3 L1284.2 531.6 L1285.2 533.9 L1286.2 536.1 L1287.2 538.3 L1288.2 540.4 L1289.2 542.4 L1290.2 544.4 L1291.2 546.3 L1292.2 548.1 L1293.2 549.9 L1294.2 551.6 L1295.2 553.2 L1296.2 554.8 L1297.2 556.3 L1298.2 557.7 L1299.2 559.0 L1300.2 560.3 L1301.2 561.5 L1302.2 562.6 L1303.2 563.6 L1304.2 564.6 L1305.2 565.5 L1306.2 566.2 L1306.3 566.3 L1306.5 566.5 L1306.8 566.7 L1307.0 566.8 L1307.2 566.9 L1307.3 567.0 L1307.5 567.1 L1307.8 567.2 L1308.0 567.3 L1308.2 567.4 L1308.3 567.4 L1308.5 567.4 L1308.8 567.3 L1309.0 567.2 L1309.2 567.0 L1309.3 567.0 L1309.5 566.8 L1309.8 566.6 L1310.0 566.5 L1310.2 566.5 L1310.3 566.5 L1310.5 566.7 L1310.8 567.0 L1311.0 567.3 L1311.2 567.6 L1311.3 567.7 L1311.5 568.1 L1311.8 568.5 L1312.0 568.7 L1312.2 568.9 L1312.3 568.9 L1312.5 569.1 L1312.8 569.2 L1313.0 569.2 L1313.2 569.3 L1313.3 569.3 L1313.5 569.4 L1313.8 569.4 L1314.0 569.4 L1314.2 569.4 L1314.3 569.5 L1315.2 569.5 L1316.2 569.5 L1317.2 569.5 L1318.2 569.4 L1319.2 569.3 L1320.2 569.1 L1321.2 568.9 L1322.2 568.6 L1323.2 568.3 L1324.2 568.0 L1325.2 567.7 L1326.2 567.3 L1327.2 566.9 L1328.2 566.4 L1329.2 566.0 L1330.2 565.5 L1331.2 565.0 L1332.2 564.5 L1333.2 563.9 L1334.2 563.4 L1335.2 562.8 L1336.2 562.2 L1337.2 561.6 L1338.2 561.0 L1339.2 560.4 L1340.2 559.7 L1341.2 559.1 L1342.2 558.4 L1343.2 557.7 L1344.2 557.0 L1345.2 556.4 L1346.2 555.7 L1347.2 554.9 L1348.2 554.2 L1349.2 553.5 L1350.2 552.8 L1351.2 552.0 L1352.2 551.3 L1353.2 550.5 L1354.2 549.8 L1355.2 549.0 L1356.2 548.2 L1357.2 547.4 L1358.2 546.7 L1359.1 545.9 L1360.1 545.1 L1361.1 544.2 L1362.1 543.4 L1363.1 542.6 L1364.1 541.8 L1365.1 540.9 L1366.1 540.1 L1367.1 539.2 L1368.1 538.4 L1369.1 537.5 L1370.1 536.7 L1371.1 535.8 L1372.1 534.9 L1373.1 534.0 L1374.1 533.1 L1375.1 532.2 L1376.1 531.3 L1377.1 530.4 L1378.1 529.5 L1379.1 528.6 L1380.1 527.7 L1381.1 526.8 L1382.1 525.9 L1383.1 525.0 L1384.1 524.1 L1385.1 523.2 L1386.1 522.3 L1387.1 521.4 L1388.1 520.5 L1389.1 519.6 L1390.1 518.7 L1391.1 517.8 L1392.1 516.9 L1393.1 516.0 L1394.1 515.2 L1395.1 514.3 L1396.1 513.5 L1397.1 512.6 L1398.1 511.8 L1399.1 510.9 L1400.1 510.1 L1401.1 509.3 L1402.1 508.5 L1403.1 507.7 L1404.1 506.9 L1405.1 506.1 L1406.1 505.3 L1407.1 504.5 L1408.1 503.8 L1409.1 503.0 L1410.1 502.3 L1411.1 501.5 L1412.1 500.8 L1413.1 500.1 L1414.1 499.4 L1415.1 498.7 L1416.1 498.0 L1417.1 497.4 L1418.1 496.7 L1419.1 496.1 L1420.1 495.5 L1421.1 494.9 L1422.1 494.3 L1423.1 493.7 L1424.1 493.2 L1425.1 492.7 L1426.1 492.1 L1427.1 491.6 L1428.1 491.2 L1429.1 490.7 L1430.1 490.2 L1431.1 489.8 L1432.1 489.4 L1433.1 488.9 L1434.1 488.5 L1435.1 488.2 L1436.1 487.8 L1437.1 487.4 L1438.1 487.1 L1439.1 486.7 L1440.1 486.4 L1441.1 486.1 L1442.1 485.8 L1443.1 485.5 L1444.0 485.2 L1445.0 485.0 L1446.0 484.7 L1447.0 484.5 L1448.0 484.2 L1449.0 484.0 L1450.0 483.8 L1451.0 483.6 L1452.0 483.4 L1453.0 483.3 L1454.0 483.1 L1455.0 483.0 L1456.0 482.8 L1457.0 482.7 L1458.0 482.6 L1459.0 482.5 L1460.0 482.4 L1461.0 482.3 L1462.0 482.2 L1463.0 482.1 L1464.0 482.1 L1465.0 482.0 L1466.0 482.0 L1467.0 482.0 L1468.0 481.9 L1469.0 481.9 L1470.0 481.9 L1471.0 481.9 L1472.0 481.9 L1473.0 482.0 L1474.0 482.0 L1475.0 482.1 L1476.0 482.1 L1477.0 482.2 L1478.0 482.2 L1479.0 482.3 L1480.0 482.4 L1481.0 482.5 L1482.0 482.6 L1483.0 482.8 L1484.0 482.9 L1485.0 483.1 L1486.0 483.2 L1487.0 483.4 L1488.0 483.6 L1489.0 483.8 L1490.0 484.0 L1491.0 484.2 L1492.0 484.4 L1493.0 484.6 L1494.0 484.8 L1495.0 485.1 L1496.0 485.3 L1497.0 485.6 L1498.0 485.9 L1499.0 486.1 L1500.0 486.4 L1501.0 486.7 L1502.0 487.0 L1503.0 487.3 L1504.0 487.6 L1505.0 487.9 L1506.0 488.2 L1507.0 488.5 L1508.0 488.8 L1509.0 489.1 L1510.0 489.5 L1511.0 489.8 L1512.0 490.1 L1513.0 490.4 L1514.0 490.7 L1515.0 491.0 L1516.0 491.3 L1517.0 491.7 L1518.0 492.0 L1519.0 492.3 L1520.0 492.6 L1521.0 492.9 L1522.0 493.2 L1523.0 493.4 L1524.0 493.7 L1525.0 494.0 L1526.0 494.3 L1527.0 494.5 L1528.0 494.8 L1528.9 495.1 L1529.9 495.4 L1530.9 495.6 L1531.9 495.9 L1532.9 496.2 L1533.9 496.5 L1534.9 496.8 L1535.9 497.1 L1536.9 497.4 L1537.9 497.7 L1538.9 498.1 L1539.9 498.4 L1540.9 498.7 L1541.9 499.0 L1542.9 499.4 L1543.9 499.7 L1544.9 500.0 L1545.9 500.4 L1546.9 500.7 L1547.9 501.0 L1548.9 501.4 L1549.9 501.7 L1550.9 502.1 L1551.9 502.4 L1552.9 502.8 L1553.9 503.1 L1554.9 503.5 L1555.9 503.8 L1556.9 504.2 L1557.9 504.5 L1558.9 504.9 L1559.9 505.3 L1560.9 505.6 L1561.9 506.0 L1562.9 506.4 L1563.9 506.7 L1564.9 507.1 L1565.9 507.5 L1566.9 507.9 L1567.9 508.2 L1568.9 508.6 L1569.9 509.0 L1570.9 509.4 L1571.9 509.8 L1572.9 510.2 L1573.9 510.6 L1574.9 511.0 L1575.9 511.4 L1576.9 511.9 L1577.9 512.3 L1578.9 512.7 L1579.9 513.1 L1580.9 513.5 L1581.9 513.9 L1582.9 514.3 L1583.9 514.7 L1584.9 515.1 L1585.9 515.5 L1586.9 515.9 L1587.9 516.3 L1588.9 516.7 L1589.9 517.1 L1590.9 517.5 L1591.9 517.8 L1592.9 518.2 L1593.9 518.5 L1594.9 518.9 L1595.9 519.2 L1596.9 519.5 L1597.9 519.9 L1598.9 520.2 L1599.9 520.5 L1600.9 520.8 L1601.9 521.0 L1602.9 521.3 L1603.9 521.6 L1604.9 521.8 L1605.9 522.1 L1606.9 522.3 L1607.9 522.5 L1608.9 522.8 L1609.9 523.0 L1610.9 523.2 L1611.9 523.4 L1612.9 523.5 L1613.8 523.7 L1614.8 523.9 L1615.8 524.0 L1616.8 524.2 L1617.8 524.3 L1618.8 524.4 L1619.8 524.6 L1620.8 524.7 L1621.8 524.8 L1622.8 524.9 L1623.8 525.0 L1624.8 525.1 L1625.8 525.1 L1626.8 525.2 L1627.8 525.3 L1628.8 525.3 L1629.8 525.4 L1630.8 525.4 L1631.8 525.5 L1632.8 525.5 L1633.8 525.5 L1634.8 525.6 L1635.8 525.6 L1636.8 525.6 L1637.8 525.6 L1638.8 525.6 L1639.8 525.6 L1640.8 525.6 L1641.8 525.6 L1642.8 525.6 L1643.8 525.6 L1644.8 525.5 L1645.8 525.5 L1646.8 525.5 L1647.8 525.4 L1648.8 525.4 L1649.8 525.3 L1650.8 525.3 L1651.8 525.2 L1652.8 525.2 L1653.8 525.1 L1654.8 525.1 L1655.8 525.0 L1656.8 524.9 L1657.8 524.9 L1658.8 524.8 L1659.8 524.7 L1660.8 524.7 L1661.8 524.6 L1662.8 524.5 L1663.8 524.5 L1664.8 524.4 L1665.8 524.3 L1666.8 524.3 L1667.8 524.2 L1668.8 524.2 L1669.8 524.1 L1670.8 524.1 L1671.8 524.0 L1672.8 524.0 L1673.8 524.0 L1674.8 523.9 L1675.8 523.9 L1676.8 523.9 L1677.8 523.9 L1678.8 523.8 L1679.8 523.8 L1680.8 523.8 L1681.8 523.8 L1682.8 523.8 L1683.8 523.8 L1684.8 523.8 L1685.8 523.8 L1686.8 523.8 L1687.8 523.8 L1688.8 523.7 L1689.8 523.7 L1690.0 523.7 L1690.3 523.7 L1690.7 523.7 L1690.8 523.7 L1691.0 523.7 L1691.4 523.7 L1691.7 523.7 L1691.8 523.7 L1692.1 523.7 L1692.4 523.8 L1692.8 524.0 L1692.8 524.0 L1693.1 524.2 L1693.5 524.3 L1693.8 524.2 L1693.8 524.1 L1694.2 523.6 L1694.5 523.0 L1694.8 522.6 L1694.9 522.4 L1695.2 522.0 L1695.6 521.9 L1695.8 522.1 L1695.9 522.4 L1696.3 523.3 L1696.6 524.2 L1696.8 524.5 L1697.0 525.0 L1697.3 525.5 L1697.7 525.4 L1697.8 525.4 L1698.0 524.9 L1698.4 524.0 L1698.7 523.0 L1698.7 523.0 L1699.1 522.1 L1699.4 521.6 L1699.7 521.4 L1699.8 521.5 L1700.1 521.8 L1700.5 522.6 L1700.7 523.2 L1700.8 523.5 L1701.2 524.5 L1701.5 525.1 L1701.7 525.3 L1701.9 525.4 L1702.2 525.1 L1702.6 524.4 L1702.7 524.0 L1702.9 523.5 L1703.3 522.5 L1703.6 521.7 L1703.7 521.5 L1704.0 521.3 L1704.3 521.4 L1704.7 522.0 L1704.7 522.0 L1705.0 522.8 L1705.4 523.8 L1705.7 524.6 L1705.7 524.6 L1706.1 525.1 L1706.4 525.2 L1706.7 524.8 L1706.8 524.7 L1707.1 523.9 L1707.5 522.9 L1707.7 522.3 L1707.8 522.0 L1708.2 521.4 L1708.5 521.2 L1708.7 521.3 L1708.9 521.5 L1709.2 522.2 L1709.6 523.2 L1709.7 523.6 L1709.9 524.1 L1710.3 524.9 L1710.6 525.2 L1710.7 525.2 L1711.0 525.0 L1711.3 524.4 L1711.7 523.5 L1711.7 523.4 L1712.0 522.5 L1712.4 521.7 L1712.7 521.3 L1712.7 521.3 L1713.1 521.3 L1713.4 521.8 L1713.7 522.5 L1713.8 522.7 L1714.1 523.7 L1714.5 524.6 L1714.7 525.0 L1714.8 525.2 L1715.2 525.3 L1715.5 524.9 L1715.7 524.6 L1715.9 524.2 L1716.2 523.3 L1716.6 522.3 L1716.7 522.1 L1716.9 521.7 L1717.3 521.5 L1717.6 521.8 L1717.7 521.9 L1718.0 522.5 L1718.3 523.4 L1718.7 524.4 L1718.7 524.5 L1719.0 525.3 L1719.4 525.7 L1719.7 525.6 L1719.7 525.6 L1720.1 525.1 L1720.4 524.2 L1720.7 523.5 L1720.8 523.3 L1721.1 522.5 L1721.5 522.1 L1721.7 522.0 L1721.8 522.1 L1722.2 522.6 L1722.5 523.4 L1722.7 523.9 L1722.9 524.5 L1723.2 525.4 L1723.6 525.9 L1723.7 525.9 L1723.9 525.9 L1724.3 525.6 L1724.6 525.1 L1724.7 525.0 L1725.0 524.6 L1725.3 524.2 L1725.7 524.1 L1725.7 524.1 L1726.0 524.3 L1726.4 524.5 L1726.7 524.8 L1726.7 524.8 L1727.1 524.9 L1727.4 525.0 L1727.7 525.0 L1727.8 525.1 L1728.1 525.1 L1728.5 525.2 L1728.7 525.2 L1728.8 525.2 L1729.7 525.4 L1730.7 525.6 L1731.7 525.7 L1732.7 525.8 L1733.7 526.0 L1734.7 526.0 L1735.7 526.1 L1736.7 526.2 L1737.7 526.2 L1738.7 526.2 L1739.7 526.2 L1740.7 526.2" stroke="#ff7f0e" stroke-width="3.5" fill="none" stroke-linejoin="round" stroke-linecap="butt"/>
<path d="M1061.5 520.2 L1062.5 519.7 L1063.5 519.1 L1064.5 518.6 L1065.5 518.0 L1066.5 517.4 L1067.5 516.8 L1068.5 516.1 L1069.5 515.4 L1070.5 514.6 L1071.5 513.7 L1072.5 512.8 L1073.5 511.9 L1074.5 510.8 L1075.5 509.7 L1076.5 508.6 L1077.5 507.3 L1078.5 506.0 L1079.5 504.6 L1080.5 503.1 L1081.5 501.6 L1082.5 499.9 L1083.5 498.2 L1084.5 496.4 L1085.5 494.5 L1086.5 492.6 L1087.5 490.6 L1088.5 488.5 L1089.5 486.3 L1090.5 484.1 L1091.5 481.8 L1092.5 479.5 L1093.5 477.1 L1094.5 474.7 L1095.5 472.2 L1096.5 469.7 L1097.5 467.1 L1098.5 464.5 L1099.5 461.9 L1100.5 459.2 L1101.5 456.5 L1102.5 453.8 L1103.5 451.1 L1104.4 448.3 L1105.4 445.5 L1106.4 442.8 L1107.4 440.0 L1108.4 437.1 L1109.4 434.3 L1110.4 431.5 L1111.4 428.7 L1112.4 425.9 L1113.4 423.0 L1114.4 420.2 L1115.4 417.3 L1116.4 414.5 L1117.4 411.6 L1118.4 408.7 L1119.4 405.8 L1120.4 402.8 L1121.4 399.8 L1122.4 396.8 L1123.4 393.8 L1124.4 390.7 L1125.4 387.7 L1126.4 384.6 L1127.4 381.6 L1128.4 378.6 L1129.4 375.6 L1130.4 372.6 L1131.4 369.7 L1132.4 366.9 L1133.4 364.1 L1134.4 361.4 L1135.4 358.7 L1136.4 356.1 L1137.4 353.6 L1138.4 351.2 L1139.4 348.9 L1140.4 346.6 L1141.4 344.5 L1142.4 342.4 L1143.4 340.5 L1144.4 338.6 L1145.4 336.8 L1146.4 335.1 L1147.4 333.5 L1148.4 332.0 L1149.4 330.6 L1150.4 329.2 L1151.4 328.0 L1152.4 326.8 L1153.4 325.8 L1154.4 324.8 L1155.4 323.9 L1156.4 323.1 L1157.4 322.3 L1158.4 321.7 L1159.4 321.1 L1160.4 320.6 L1161.4 320.2 L1162.4 319.9 L1163.4 319.6 L1164.4 319.4 L1165.4 319.3 L1166.4 319.3 L1167.4 319.3 L1168.4 319.5 L1169.4 319.6 L1170.4 319.9 L1171.4 320.2 L1172.4 320.7 L1173.4 321.1 L1174.4 321.7 L1175.4 322.3 L1176.4 323.0 L1177.4 323.7 L1178.4 324.5 L1179.4 325.4 L1180.4 326.4 L1181.4 327.4 L1182.4 328.4 L1183.4 329.5 L1184.4 330.7 L1185.4 331.9 L1186.4 333.2 L1187.4 334.5 L1188.4 335.9 L1189.3 337.3 L1190.3 338.8 L1191.3 340.3 L1192.3 341.8 L1193.3 343.4 L1194.3 345.1 L1195.3 346.7 L1196.3 348.5 L1197.3 350.2 L1198.3 352.1 L1199.3 353.9 L1200.3 355.8 L1201.3 357.8 L1202.3 359.7 L1203.3 361.8 L1204.3 363.9 L1205.3 366.1 L1206.3 368.3 L1207.3 370.6 L1208.3 372.9 L1209.3 375.3 L1210.3 377.8 L1211.3 380.4 L1212.3 383.1 L1213.3 385.8 L1214.3 388.6 L1215.3 391.6 L1216.3 394.6 L1217.3 397.7 L1218.3 400.8 L1219.3 404.1 L1220.3 407.3 L1221.3 410.7 L1222.3 414.0 L1223.3 417.3 L1224.3 420.6 L1225.3 424.0 L1226.3 427.3 L1227.3 430.5 L1228.3 433.8 L1229.3 437.0 L1230.3 440.1 L1231.3 443.2 L1232.3 446.2 L1233.3 449.2 L1234.3 452.1 L1235.3 454.9 L1236.3 457.6 L1237.3 460.3 L1238.3 462.9 L1239.3 465.5 L1240.3 468.0 L1241.3 470.4 L1242.3 472.8 L1243.3 475.2 L1244.3 477.5 L1245.3 479.8 L1246.3 482.0 L1247.3 484.2 L1248.3 486.3 L1249.3 488.4 L1250.3 490.5 L1251.3 492.5 L1252.3 494.5 L1253.3 496.5 L1254.3 498.5 L1255.3 500.4 L1256.3 502.3 L1257.3 504.2 L1258.3 506.1 L1259.3 508.0 L1260.3 509.9 L1261.3 511.7 L1262.3 513.5 L1263.3 515.3 L1264.3 517.1 L1265.3 518.8 L1266.3 520.6 L1267.3 522.3 L1268.3 524.0 L1269.3 525.6 L1270.3 527.3 L1271.3 528.9 L1272.3 530.5 L1273.3 532.1 L1274.2 533.6 L1275.2 535.1 L1276.2 536.6 L1277.2 538.0 L1278.2 539.4 L1279.2 540.8 L1280.2 542.1 L1281.2 543.4 L1282.2 544.6 L1283.2 545.8 L1284.2 546.9 L1285.2 548.0 L1286.2 549.1 L1287.2 550.1 L1288.2 551.0 L1289.2 551.9 L1290.2 552.8 L1291.2 553.6 L1292.2 554.4 L1293.2 555.2 L1294.2 555.9 L1295.2 556.6 L1296.2 557.2 L1297.2 557.8 L1298.2 558.4 L1299.2 558.9 L1300.2 559.5 L1301.2 559.9 L1302.2 560.4 L1303.2 560.8 L1304.2 561.2 L1305.2 561.5 L1306.2 561.9 L1306.3 561.9 L1306.5 562.0 L1306.8 562.1 L1307.0 562.1 L1307.2 562.2 L1307.3 562.2 L1307.5 562.2 L1307.8 562.2 L1308.0 562.2 L1308.2 562.1 L1308.3 562.0 L1308.5 561.8 L1308.8 561.4 L1309.0 560.9 L1309.2 560.5 L1309.3 560.2 L1309.5 559.5 L1309.8 558.9 L1310.0 558.5 L1310.2 558.4 L1310.3 558.4 L1310.5 558.6 L1310.8 559.1 L1311.0 559.8 L1311.2 560.3 L1311.3 560.6 L1311.5 561.4 L1311.8 562.0 L1312.0 562.5 L1312.2 562.7 L1312.3 562.9 L1312.5 563.1 L1312.8 563.2 L1313.0 563.3 L1313.2 563.4 L1313.3 563.4 L1313.5 563.4 L1313.8 563.5 L1314.0 563.5 L1314.2 563.5 L1314.3 563.5 L1315.2 563.6 L1316.2 563.7 L1317.2 563.8 L1318.2 563.9 L1319.2 563.9 L1320.2 564.0 L1321.2 564.0 L1322.2 564.0 L1323.2 564.0 L1324.2 564.0 L1325.2 564.0 L1326.2 563.9 L1327.2 563.9 L1328.2 563.9 L1329.2 563.8 L1330.2 563.7 L1331.2 563.6 L1332.2 563.5 L1333.2 563.4 L1334.2 563.3 L1335.2 563.2 L1336.2 563.0 L1337.2 562.9 L1338.2 562.7 L1339.2 562.5 L1340.2 562.3 L1341.2 562.1 L1342.2 561.8 L1343.2 561.6 L1344.2 561.3 L1345.2 561.0 L1346.2 560.7 L1347.2 560.4 L1348.2 560.1 L1349.2 559.7 L1350.2 559.3 L1351.2 558.9 L1352.2 558.5 L1353.2 558.1 L1354.2 557.7 L1355.2 557.2 L1356.2 556.7 L1357.2 556.3 L1358.2 555.8 L1359.1 555.2 L1360.1 554.7 L1361.1 554.2 L1362.1 553.6 L1363.1 553.0 L1364.1 552.5 L1365.1 551.9 L1366.1 551.3 L1367.1 550.7 L1368.1 550.1 L1369.1 549.5 L1370.1 548.8 L1371.1 548.2 L1372.1 547.6 L1373.1 547.0 L1374.1 546.3 L1375.1 545.7 L1376.1 545.1 L1377.1 544.5 L1378.1 543.9 L1379.1 543.2 L1380.1 542.6 L1381.1 542.0 L1382.1 541.3 L1383.1 540.7 L1384.1 540.1 L1385.1 539.4 L1386.1 538.8 L1387.1 538.1 L1388.1 537.4 L1389.1 536.7 L1390.1 536.1 L1391.1 535.3 L1392.1 534.6 L1393.1 533.9 L1394.1 533.2 L1395.1 532.4 L1396.1 531.7 L1397.1 530.9 L1398.1 530.1 L1399.1 529.3 L1400.1 528.4 L1401.1 527.6 L1402.1 526.7 L1403.1 525.9 L1404.1 525.0 L1405.1 524.1 L1406.1 523.2 L1407.1 522.2 L1408.1 521.3 L1409.1 520.4 L1410.1 519.5 L1411.1 518.6 L1412.1 517.7 L1413.1 516.8 L1414.1 515.9 L1415.1 515.0 L1416.1 514.2 L1417.1 513.3 L1418.1 512.5 L1419.1 511.7 L1420.1 511.0 L1421.1 510.2 L1422.1 509.5 L1423.1 508.8 L1424.1 508.1 L1425.1 507.5 L1426.1 506.9 L1427.1 506.3 L1428.1 505.7 L1429.1 505.2 L1430.1 504.7 L1431.1 504.2 L1432.1 503.7 L1433.1 503.2 L1434.1 502.8 L1435.1 502.4 L1436.1 502.0 L1437.1 501.6 L1438.1 501.2 L1439.1 500.9 L1440.1 500.5 L1441.1 500.2 L1442.1 499.9 L1443.1 499.6 L1444.0 499.4 L1445.0 499.1 L1446.0 498.9 L1447.0 498.6 L1448.0 498.4 L1449.0 498.2 L1450.0 498.0 L1451.0 497.9 L1452.0 497.7 L1453.0 497.5 L1454.0 497.4 L1455.0 497.3 L1456.0 497.1 L1457.0 497.0 L1458.0 496.9 L1459.0 496.8 L1460.0 496.7 L1461.0 496.7 L1462.0 496.6 L1463.0 496.5 L1464.0 496.5 L1465.0 496.4 L1466.0 496.4 L1467.0 496.4 L1468.0 496.3 L1469.0 496.3 L1470.0 496.3 L1471.0 496.3 L1472.0 496.3 L1473.0 496.3 L1474.0 496.3 L1475.0 496.3 L1476.0 496.3 L1477.0 496.3 L1478.0 496.4 L1479.0 496.4 L1480.0 496.4 L1481.0 496.5 L1482.0 496.5 L1483.0 496.6 L1484.0 496.6 L1485.0 496.7 L1486.0 496.7 L1487.0 496.8 L1488.0 496.9 L1489.0 496.9 L1490.0 497.0 L1491.0 497.1 L1492.0 497.1 L1493.0 497.2 L1494.0 497.3 L1495.0 497.4 L1496.0 497.5 L1497.0 497.6 L1498.0 497.7 L1499.0 497.8 L1500.0 497.9 L1501.0 498.0 L1502.0 498.1 L1503.0 498.2 L1504.0 498.4 L1505.0 498.5 L1506.0 498.6 L1507.0 498.7 L1508.0 498.9 L1509.0 499.0 L1510.0 499.1 L1511.0 499.3 L1512.0 499.4 L1513.0 499.6 L1514.0 499.7 L1515.0 499.9 L1516.0 500.1 L1517.0 500.2 L1518.0 500.4 L1519.0 500.6 L1520.0 500.7 L1521.0 500.9 L1522.0 501.1 L1523.0 501.3 L1524.0 501.5 L1525.0 501.7 L1526.0 501.9 L1527.0 502.1 L1528.0 502.3 L1528.9 502.5 L1529.9 502.7 L1530.9 503.0 L1531.9 503.2 L1532.9 503.5 L1533.9 503.7 L1534.9 504.0 L1535.9 504.2 L1536.9 504.5 L1537.9 504.8 L1538.9 505.0 L1539.9 505.3 L1540.9 505.6 L1541.9 505.8 L1542.9 506.1 L1543.9 506.4 L1544.9 506.7 L1545.9 506.9 L1546.9 507.2 L1547.9 507.4 L1548.9 507.7 L1549.9 508.0 L1550.9 508.2 L1551.9 508.5 L1552.9 508.7 L1553.9 508.9 L1554.9 509.2 L1555.9 509.4 L1556.9 509.6 L1557.9 509.8 L1558.9 510.0 L1559.9 510.2 L1560.9 510.4 L1561.9 510.6 L1562.9 510.8 L1563.9 511.0 L1564.9 511.1 L1565.9 511.3 L1566.9 511.5 L1567.9 511.6 L1568.9 511.8 L1569.9 511.9 L1570.9 512.0 L1571.9 512.2 L1572.9 512.3 L1573.9 512.4 L1574.9 512.5 L1575.9 512.7 L1576.9 512.8 L1577.9 512.9 L1578.9 513.0 L1579.9 513.1 L1580.9 513.2 L1581.9 513.3 L1582.9 513.4 L1583.9 513.5 L1584.9 513.5 L1585.9 513.6 L1586.9 513.7 L1587.9 513.8 L1588.9 513.9 L1589.9 514.0 L1590.9 514.0 L1591.9 514.1 L1592.9 514.2 L1593.9 514.2 L1594.9 514.3 L1595.9 514.4 L1596.9 514.4 L1597.9 514.5 L1598.9 514.5 L1599.9 514.6 L1600.9 514.6 L1601.9 514.7 L1602.9 514.7 L1603.9 514.7 L1604.9 514.8 L1605.9 514.8 L1606.9 514.8 L1607.9 514.8 L1608.9 514.9 L1609.9 514.9 L1610.9 514.9 L1611.9 514.9 L1612.9 514.9 L1613.8 514.9 L1614.8 514.9 L1615.8 514.9 L1616.8 514.9 L1617.8 514.9 L1618.8 514.9 L1619.8 514.9 L1620.8 514.9 L1621.8 514.9 L1622.8 514.9 L1623.8 514.9 L1624.8 514.9 L1625.8 514.8 L1626.8 514.8 L1627.8 514.8 L1628.8 514.8 L1629.8 514.8 L1630.8 514.7 L1631.8 514.7 L1632.8 514.7 L1633.8 514.6 L1634.8 514.6 L1635.8 514.6 L1636.8 514.5 L1637.8 514.5 L1638.8 514.5 L1639.8 514.4 L1640.8 514.4 L1641.8 514.4 L1642.8 514.3 L1643.8 514.3 L1644.8 514.3 L1645.8 514.2 L1646.8 514.2 L1647.8 514.2 L1648.8 514.2 L1649.8 514.1 L1650.8 514.1 L1651.8 514.1 L1652.8 514.1 L1653.8 514.1 L1654.8 514.0 L1655.8 514.0 L1656.8 514.0 L1657.8 514.0 L1658.8 514.0 L1659.8 514.0 L1660.8 514.0 L1661.8 514.0 L1662.8 514.0 L1663.8 514.0 L1664.8 514.0 L1665.8 514.1 L1666.8 514.1 L1667.8 514.1 L1668.8 514.2 L1669.8 514.2 L1670.8 514.2 L1671.8 514.3 L1672.8 514.3 L1673.8 514.4 L1674.8 514.4 L1675.8 514.5 L1676.8 514.5 L1677.8 514.6 L1678.8 514.6 L1679.8 514.7 L1680.8 514.7 L1681.8 514.8 L1682.8 514.8 L1683.8 514.9 L1684.8 514.9 L1685.8 515.0 L1686.8 515.0 L1687.8 515.0 L1688.8 515.0 L1689.8 515.1 L1690.0 515.1 L1690.3 515.1 L1690.7 515.1 L1690.8 515.1 L1691.0 515.1 L1691.4 515.1 L1691.7 515.1 L1691.8 515.1 L1692.1 515.1 L1692.4 515.2 L1692.8 515.4 L1692.8 515.4 L1693.1 515.7 L1693.5 515.7 L1693.8 515.6 L1693.8 515.5 L1694.2 515.0 L1694.5 514.3 L1694.8 513.9 L1694.9 513.6 L1695.2 513.2 L1695.6 513.1 L1695.8 513.3 L1695.9 513.6 L1696.3 514.6 L1696.6 515.7 L1696.8 515.9 L1697.0 516.5 L1697.3 517.0 L1697.7 516.9 L1697.8 516.9 L1698.0 516.4 L1698.4 515.4 L1698.7 514.3 L1698.7 514.3 L1699.1 513.3 L1699.4 512.7 L1699.7 512.5 L1699.8 512.5 L1700.1 512.9 L1700.5 513.7 L1700.7 514.5 L1700.8 514.8 L1701.2 515.8 L1701.5 516.5 L1701.7 516.7 L1701.9 516.7 L1702.2 516.5 L1702.6 515.7 L1702.7 515.3 L1702.9 514.6 L1703.3 513.5 L1703.6 512.7 L1703.7 512.5 L1704.0 512.2 L1704.3 512.3 L1704.7 512.9 L1704.7 513.0 L1705.0 513.9 L1705.4 514.9 L1705.7 515.8 L1705.7 515.9 L1706.1 516.4 L1706.4 516.4 L1706.7 516.0 L1706.8 515.9 L1707.1 515.0 L1707.5 513.9 L1707.7 513.2 L1707.8 512.9 L1708.2 512.2 L1708.5 512.0 L1708.7 512.1 L1708.9 512.3 L1709.2 513.1 L1709.6 514.1 L1709.7 514.6 L1709.9 515.2 L1710.3 516.0 L1710.6 516.3 L1710.7 516.3 L1711.0 516.1 L1711.3 515.4 L1711.7 514.4 L1711.7 514.3 L1712.0 513.3 L1712.4 512.4 L1712.7 512.0 L1712.7 511.9 L1713.1 512.0 L1713.4 512.5 L1713.7 513.3 L1713.8 513.5 L1714.1 514.6 L1714.5 515.6 L1714.7 516.0 L1714.8 516.2 L1715.2 516.3 L1715.5 515.9 L1715.7 515.5 L1715.9 515.1 L1716.2 514.0 L1716.6 513.0 L1716.7 512.7 L1716.9 512.3 L1717.3 512.1 L1717.6 512.4 L1717.7 512.5 L1718.0 513.1 L1718.3 514.2 L1718.7 515.3 L1718.7 515.4 L1719.0 516.2 L1719.4 516.6 L1719.7 516.6 L1719.7 516.6 L1720.1 516.0 L1720.4 515.1 L1720.7 514.2 L1720.8 514.0 L1721.1 513.1 L1721.5 512.6 L1721.7 512.6 L1721.8 512.6 L1722.2 513.2 L1722.5 514.1 L1722.7 514.7 L1722.9 515.3 L1723.2 516.3 L1723.6 516.8 L1723.7 516.9 L1723.9 516.8 L1724.3 516.5 L1724.6 515.9 L1724.7 515.8 L1725.0 515.4 L1725.3 515.0 L1725.7 514.9 L1725.7 514.9 L1726.0 515.0 L1726.4 515.3 L1726.7 515.6 L1726.7 515.6 L1727.1 515.8 L1727.4 515.9 L1727.7 515.9 L1727.8 515.9 L1728.1 516.0 L1728.5 516.1 L1728.7 516.1 L1728.8 516.2 L1729.7 516.4 L1730.7 516.6 L1731.7 516.8 L1732.7 517.0 L1733.7 517.2 L1734.7 517.3 L1735.7 517.5 L1736.7 517.6 L1737.7 517.7 L1738.7 517.8 L1739.7 517.9 L1740.7 518.0" stroke="#2ca02c" stroke-width="3.5" fill="none" stroke-linejoin="round" stroke-linecap="butt"/>
<path d="M1061.5 531.7 L1062.5 531.1 L1063.5 530.5 L1064.5 529.9 L1065.5 529.3 L1066.5 528.7 L1067.5 527.9 L1068.5 527.2 L1069.5 526.3 L1070.5 525.5 L1071.5 524.5 L1072.5 523.4 L1073.5 522.3 L1074.5 521.1 L1075.5 519.8 L1076.5 518.4 L1077.5 516.9 L1078.5 515.3 L1079.5 513.7 L1080.5 511.8 L1081.5 509.9 L1082.5 507.9 L1083.5 505.7 L1084.5 503.5 L1085.5 501.1 L1086.5 498.6 L1087.5 495.9 L1088.5 493.2 L1089.5 490.4 L1090.5 487.4 L1091.5 484.3 L1092.5 481.2 L1093.5 477.9 L1094.5 474.5 L1095.5 471.0 L1096.5 467.4 L1097.5 463.7 L1098.5 460.0 L1099.5 456.1 L1100.5 452.2 L1101.5 448.1 L1102.5 444.0 L1103.5 439.9 L1104.4 435.7 L1105.4 431.4 L1106.4 427.1 L1107.4 422.8 L1108.4 418.4 L1109.4 414.0 L1110.4 409.5 L1111.4 405.1 L1112.4 400.6 L1113.4 396.2 L1114.4 391.8 L1115.4 387.4 L1116.4 383.1 L1117.4 378.8 L1118.4 374.5 L1119.4 370.3 L1120.4 366.1 L1121.4 362.0 L1122.4 357.9 L1123.4 353.9 L1124.4 349.9 L1125.4 346.0 L1126.4 342.2 L1127.4 338.5 L1128.4 334.8 L1129.4 331.2 L1130.4 327.6 L1131.4 324.2 L1132.4 320.8 L1133.4 317.5 L1134.4 314.2 L1135.4 311.0 L1136.4 307.9 L1137.4 304.9 L1138.4 301.9 L1139.4 299.0 L1140.4 296.1 L1141.4 293.3 L1142.4 290.6 L1143.4 288.0 L1144.4 285.5 L1145.4 283.0 L1146.4 280.6 L1147.4 278.3 L1148.4 276.1 L1149.4 273.9 L1150.4 271.9 L1151.4 270.0 L1152.4 268.2 L1153.4 266.5 L1154.4 264.9 L1155.4 263.5 L1156.4 262.1 L1157.4 260.9 L1158.4 259.8 L1159.4 258.8 L1160.4 257.9 L1161.4 257.2 L1162.4 256.6 L1163.4 256.1 L1164.4 255.7 L1165.4 255.5 L1166.4 255.4 L1167.4 255.4 L1168.4 255.5 L1169.4 255.8 L1170.4 256.1 L1171.4 256.6 L1172.4 257.2 L1173.4 257.8 L1174.4 258.6 L1175.4 259.6 L1176.4 260.6 L1177.4 261.7 L1178.4 262.9 L1179.4 264.2 L1180.4 265.7 L1181.4 267.2 L1182.4 268.8 L1183.4 270.5 L1184.4 272.3 L1185.4 274.2 L1186.4 276.1 L1187.4 278.1 L1188.4 280.3 L1189.3 282.4 L1190.3 284.7 L1191.3 287.0 L1192.3 289.4 L1193.3 291.8 L1194.3 294.3 L1195.3 296.8 L1196.3 299.4 L1197.3 302.0 L1198.3 304.6 L1199.3 307.3 L1200.3 310.0 L1201.3 312.7 L1202.3 315.5 L1203.3 318.3 L1204.3 321.1 L1205.3 324.0 L1206.3 326.8 L1207.3 329.7 L1208.3 332.6 L1209.3 335.5 L1210.3 338.5 L1211.3 341.4 L1212.3 344.4 L1213.3 347.4 L1214.3 350.4 L1215.3 353.4 L1216.3 356.4 L1217.3 359.5 L1218.3 362.5 L1219.3 365.6 L1220.3 368.7 L1221.3 371.8 L1222.3 374.9 L1223.3 378.0 L1224.3 381.2 L1225.3 384.4 L1226.3 387.6 L1227.3 390.8 L1228.3 394.1 L1229.3 397.4 L1230.3 400.7 L1231.3 404.0 L1232.3 407.3 L1233.3 410.7 L1234.3 414.1 L1235.3 417.4 L1236.3 420.8 L1237.3 424.2 L1238.3 427.5 L1239.3 430.9 L1240.3 434.2 L1241.3 437.5 L1242.3 440.8 L1243.3 444.0 L1244.3 447.3 L1245.3 450.4 L1246.3 453.6 L1247.3 456.7 L1248.3 459.7 L1249.3 462.7 L1250.3 465.7 L1251.3 468.7 L1252.3 471.6 L1253.3 474.5 L1254.3 477.3 L1255.3 480.2 L1256.3 483.0 L1257.3 485.7 L1258.3 488.5 L1259.3 491.2 L1260.3 493.9 L1261.3 496.6 L1262.3 499.2 L1263.3 501.8 L1264.3 504.4 L1265.3 506.9 L1266.3 509.4 L1267.3 511.9 L1268.3 514.4 L1269.3 516.8 L1270.3 519.1 L1271.3 521.5 L1272.3 523.8 L1273.3 526.0 L1274.2 528.3 L1275.2 530.5 L1276.2 532.6 L1277.2 534.7 L1278.2 536.7 L1279.2 538.7 L1280.2 540.7 L1281.2 542.6 L1282.2 544.4 L1283.2 546.2 L1284.2 548.0 L1285.2 549.7 L1286.2 551.3 L1287.2 552.9 L1288.2 554.5 L1289.2 555.9 L1290.2 557.4 L1291.2 558.7 L1292.2 560.0 L1293.2 561.3 L1294.2 562.5 L1295.2 563.6 L1296.2 564.7 L1297.2 565.7 L1298.2 566.7 L1299.2 567.6 L1300.2 568.4 L1301.2 569.2 L1302.2 569.9 L1303.2 570.6 L1304.2 571.2 L1305.2 571.7 L1306.2 572.2 L1306.3 572.2 L1306.5 572.3 L1306.8 572.4 L1307.0 572.5 L1307.2 572.6 L1307.3 572.6 L1307.5 572.7 L1307.8 572.8 L1308.0 572.8 L1308.2 572.8 L1308.3 572.7 L1308.5 572.7 L1308.8 572.5 L1309.0 572.2 L1309.2 572.0 L1309.3 571.9 L1309.5 571.5 L1309.8 571.2 L1310.0 571.0 L1310.2 571.0 L1310.3 571.0 L1310.5 571.2 L1310.8 571.5 L1311.0 571.9 L1311.2 572.1 L1311.3 572.3 L1311.5 572.7 L1311.8 573.1 L1312.0 573.4 L1312.2 573.5 L1312.3 573.6 L1312.5 573.7 L1312.8 573.8 L1313.0 573.9 L1313.2 573.9 L1313.3 573.9 L1313.5 573.9 L1313.8 574.0 L1314.0 574.0 L1314.2 574.0 L1314.3 574.0 L1315.2 574.0 L1316.2 574.0 L1317.2 573.9 L1318.2 573.9 L1319.2 573.8 L1320.2 573.6 L1321.2 573.5 L1322.2 573.3 L1323.2 573.1 L1324.2 572.9 L1325.2 572.7 L1326.2 572.4 L1327.2 572.2 L1328.2 571.8 L1329.2 571.5 L1330.2 571.1 L1331.2 570.8 L1332.2 570.3 L1333.2 569.9 L1334.2 569.5 L1335.2 569.0 L1336.2 568.5 L1337.2 568.0 L1338.2 567.5 L1339.2 567.0 L1340.2 566.4 L1341.2 565.9 L1342.2 565.3 L1343.2 564.8 L1344.2 564.2 L1345.2 563.6 L1346.2 563.0 L1347.2 562.4 L1348.2 561.8 L1349.2 561.1 L1350.2 560.5 L1351.2 559.9 L1352.2 559.2 L1353.2 558.5 L1354.2 557.9 L1355.2 557.2 L1356.2 556.5 L1357.2 555.8 L1358.2 555.1 L1359.1 554.4 L1360.1 553.7 L1361.1 553.0 L1362.1 552.3 L1363.1 551.5 L1364.1 550.8 L1365.1 550.1 L1366.1 549.3 L1367.1 548.6 L1368.1 547.8 L1369.1 547.1 L1370.1 546.3 L1371.1 545.5 L1372.1 544.8 L1373.1 544.0 L1374.1 543.2 L1375.1 542.5 L1376.1 541.7 L1377.1 540.9 L1378.1 540.2 L1379.1 539.4 L1380.1 538.7 L1381.1 538.0 L1382.1 537.2 L1383.1 536.5 L1384.1 535.8 L1385.1 535.1 L1386.1 534.4 L1387.1 533.7 L1388.1 533.0 L1389.1 532.3 L1390.1 531.6 L1391.1 531.0 L1392.1 530.3 L1393.1 529.7 L1394.1 529.0 L1395.1 528.3 L1396.1 527.7 L1397.1 527.0 L1398.1 526.4 L1399.1 525.8 L1400.1 525.1 L1401.1 524.5 L1402.1 523.9 L1403.1 523.3 L1404.1 522.7 L1405.1 522.1 L1406.1 521.5 L1407.1 520.9 L1408.1 520.3 L1409.1 519.7 L1410.1 519.2 L1411.1 518.6 L1412.1 518.1 L1413.1 517.5 L1414.1 517.0 L1415.1 516.4 L1416.1 515.9 L1417.1 515.4 L1418.1 514.9 L1419.1 514.3 L1420.1 513.8 L1421.1 513.3 L1422.1 512.8 L1423.1 512.3 L1424.1 511.8 L1425.1 511.3 L1426.1 510.8 L1427.1 510.3 L1428.1 509.8 L1429.1 509.3 L1430.1 508.9 L1431.1 508.4 L1432.1 507.9 L1433.1 507.5 L1434.1 507.0 L1435.1 506.6 L1436.1 506.2 L1437.1 505.8 L1438.1 505.4 L1439.1 505.0 L1440.1 504.6 L1441.1 504.2 L1442.1 503.9 L1443.1 503.5 L1444.0 503.2 L1445.0 502.9 L1446.0 502.6 L1447.0 502.3 L1448.0 502.0 L1449.0 501.8 L1450.0 501.5 L1451.0 501.3 L1452.0 501.1 L1453.0 500.9 L1454.0 500.7 L1455.0 500.5 L1456.0 500.3 L1457.0 500.2 L1458.0 500.0 L1459.0 499.9 L1460.0 499.8 L1461.0 499.7 L1462.0 499.6 L1463.0 499.5 L1464.0 499.4 L1465.0 499.3 L1466.0 499.3 L1467.0 499.2 L1468.0 499.2 L1469.0 499.2 L1470.0 499.1 L1471.0 499.1 L1472.0 499.1 L1473.0 499.1 L1474.0 499.1 L1475.0 499.2 L1476.0 499.2 L1477.0 499.2 L1478.0 499.3 L1479.0 499.3 L1480.0 499.4 L1481.0 499.5 L1482.0 499.6 L1483.0 499.7 L1484.0 499.8 L1485.0 499.9 L1486.0 500.0 L1487.0 500.1 L1488.0 500.3 L1489.0 500.4 L1490.0 500.6 L1491.0 500.7 L1492.0 500.9 L1493.0 501.0 L1494.0 501.2 L1495.0 501.4 L1496.0 501.6 L1497.0 501.7 L1498.0 501.9 L1499.0 502.1 L1500.0 502.3 L1501.0 502.5 L1502.0 502.7 L1503.0 502.9 L1504.0 503.1 L1505.0 503.3 L1506.0 503.5 L1507.0 503.7 L1508.0 503.9 L1509.0 504.1 L1510.0 504.3 L1511.0 504.5 L1512.0 504.7 L1513.0 504.9 L1514.0 505.1 L1515.0 505.3 L1516.0 505.5 L1517.0 505.7 L1518.0 505.8 L1519.0 506.0 L1520.0 506.2 L1521.0 506.3 L1522.0 506.5 L1523.0 506.7 L1524.0 506.8 L1525.0 507.0 L1526.0 507.1 L1527.0 507.3 L1528.0 507.4 L1528.9 507.6 L1529.9 507.8 L1530.9 508.0 L1531.9 508.2 L1532.9 508.4 L1533.9 508.7 L1534.9 508.9 L1535.9 509.2 L1536.9 509.5 L1537.9 509.8 L1538.9 510.1 L1539.9 510.4 L1540.9 510.7 L1541.9 511.1 L1542.9 511.4 L1543.9 511.8 L1544.9 512.1 L1545.9 512.4 L1546.9 512.8 L1547.9 513.1 L1548.9 513.5 L1549.9 513.9 L1550.9 514.2 L1551.9 514.6 L1552.9 514.9 L1553.9 515.3 L1554.9 515.7 L1555.9 516.0 L1556.9 516.4 L1557.9 516.7 L1558.9 517.1 L1559.9 517.5 L1560.9 517.8 L1561.9 518.2 L1562.9 518.5 L1563.9 518.9 L1564.9 519.2 L1565.9 519.6 L1566.9 519.9 L1567.9 520.3 L1568.9 520.6 L1569.9 520.9 L1570.9 521.3 L1571.9 521.6 L1572.9 522.0 L1573.9 522.3 L1574.9 522.6 L1575.9 523.0 L1576.9 523.3 L1577.9 523.6 L1578.9 524.0 L1579.9 524.3 L1580.9 524.6 L1581.9 525.0 L1582.9 525.3 L1583.9 525.6 L1584.9 526.0 L1585.9 526.3 L1586.9 526.6 L1587.9 527.0 L1588.9 527.3 L1589.9 527.6 L1590.9 527.9 L1591.9 528.3 L1592.9 528.6 L1593.9 528.9 L1594.9 529.2 L1595.9 529.5 L1596.9 529.8 L1597.9 530.1 L1598.9 530.4 L1599.9 530.7 L1600.9 530.9 L1601.9 531.2 L1602.9 531.5 L1603.9 531.7 L1604.9 532.0 L1605.9 532.2 L1606.9 532.4 L1607.9 532.6 L1608.9 532.8 L1609.9 533.0 L1610.9 533.2 L1611.9 533.4 L1612.9 533.6 L1613.8 533.7 L1614.8 533.9 L1615.8 534.0 L1616.8 534.1 L1617.8 534.2 L1618.8 534.4 L1619.8 534.5 L1620.8 534.5 L1621.8 534.6 L1622.8 534.7 L1623.8 534.8 L1624.8 534.8 L1625.8 534.9 L1626.8 534.9 L1627.8 535.0 L1628.8 535.0 L1629.8 535.1 L1630.8 535.1 L1631.8 535.1 L1632.8 535.1 L1633.8 535.1 L1634.8 535.1 L1635.8 535.1 L1636.8 535.1 L1637.8 535.1 L1638.8 535.1 L1639.8 535.1 L1640.8 535.0 L1641.8 535.0 L1642.8 535.0 L1643.8 534.9 L1644.8 534.9 L1645.8 534.8 L1646.8 534.8 L1647.8 534.7 L1648.8 534.7 L1649.8 534.6 L1650.8 534.6 L1651.8 534.5 L1652.8 534.4 L1653.8 534.4 L1654.8 534.3 L1655.8 534.2 L1656.8 534.1 L1657.8 534.1 L1658.8 534.0 L1659.8 533.9 L1660.8 533.9 L1661.8 533.8 L1662.8 533.7 L1663.8 533.6 L1664.8 533.6 L1665.8 533.5 L1666.8 533.4 L1667.8 533.4 L1668.8 533.3 L1669.8 533.3 L1670.8 533.2 L1671.8 533.2 L1672.8 533.1 L1673.8 533.1 L1674.8 533.0 L1675.8 533.0 L1676.8 532.9 L1677.8 532.9 L1678.8 532.9 L1679.8 532.9 L1680.8 532.8 L1681.8 532.8 L1682.8 532.8 L1683.8 532.8 L1684.8 532.8 L1685.8 532.7 L1686.8 532.7 L1687.8 532.7 L1688.8 532.7 L1689.8 532.7 L1690.0 532.7 L1690.3 532.7 L1690.7 532.7 L1690.8 532.7 L1691.0 532.7 L1691.4 532.7 L1691.7 532.7 L1691.8 532.7 L1692.1 532.7 L1692.4 532.8 L1692.8 533.0 L1692.8 533.0 L1693.1 533.2 L1693.5 533.3 L1693.8 533.1 L1693.8 533.1 L1694.2 532.6 L1694.5 532.0 L1694.8 531.6 L1694.9 531.4 L1695.2 531.0 L1695.6 530.9 L1695.8 531.1 L1695.9 531.4 L1696.3 532.3 L1696.6 533.3 L1696.8 533.5 L1697.0 534.1 L1697.3 534.5 L1697.7 534.4 L1697.8 534.4 L1698.0 533.9 L1698.4 533.1 L1698.7 532.1 L1698.7 532.1 L1699.1 531.2 L1699.4 530.6 L1699.7 530.5 L1699.8 530.5 L1700.1 530.9 L1700.5 531.6 L1700.7 532.3 L1700.8 532.6 L1701.2 533.5 L1701.5 534.2 L1701.7 534.4 L1701.9 534.4 L1702.2 534.2 L1702.6 533.5 L1702.7 533.1 L1702.9 532.6 L1703.3 531.6 L1703.6 530.8 L1703.7 530.6 L1704.0 530.4 L1704.3 530.5 L1704.7 531.1 L1704.7 531.2 L1705.0 531.9 L1705.4 532.9 L1705.7 533.7 L1705.7 533.8 L1706.1 534.3 L1706.4 534.3 L1706.7 533.9 L1706.8 533.8 L1707.1 533.0 L1707.5 532.0 L1707.7 531.4 L1707.8 531.1 L1708.2 530.5 L1708.5 530.3 L1708.7 530.4 L1708.9 530.6 L1709.2 531.3 L1709.6 532.3 L1709.7 532.7 L1709.9 533.2 L1710.3 534.0 L1710.6 534.3 L1710.7 534.3 L1711.0 534.1 L1711.3 533.5 L1711.7 532.5 L1711.7 532.5 L1712.0 531.6 L1712.4 530.7 L1712.7 530.3 L1712.7 530.3 L1713.1 530.3 L1713.4 530.8 L1713.7 531.5 L1713.8 531.7 L1714.1 532.7 L1714.5 533.6 L1714.7 534.0 L1714.8 534.1 L1715.2 534.2 L1715.5 533.9 L1715.7 533.5 L1715.9 533.1 L1716.2 532.1 L1716.6 531.2 L1716.7 530.9 L1716.9 530.5 L1717.3 530.3 L1717.6 530.5 L1717.7 530.7 L1718.0 531.2 L1718.3 532.2 L1718.7 533.1 L1718.7 533.2 L1719.0 533.9 L1719.4 534.3 L1719.7 534.2 L1719.7 534.2 L1720.1 533.7 L1720.4 532.8 L1720.7 532.0 L1720.8 531.8 L1721.1 531.0 L1721.5 530.5 L1721.7 530.4 L1721.8 530.5 L1722.2 530.9 L1722.5 531.7 L1722.7 532.2 L1722.9 532.7 L1723.2 533.6 L1723.6 534.0 L1723.7 534.1 L1723.9 534.0 L1724.3 533.6 L1724.6 533.1 L1724.7 533.0 L1725.0 532.5 L1725.3 532.2 L1725.7 532.0 L1725.7 532.0 L1726.0 532.1 L1726.4 532.3 L1726.7 532.5 L1726.7 532.6 L1727.1 532.6 L1727.4 532.7 L1727.7 532.7 L1727.8 532.7 L1728.1 532.7 L1728.5 532.7 L1728.7 532.7 L1728.8 532.7 L1729.7 532.8 L1730.7 532.8 L1731.7 532.8 L1732.7 532.8 L1733.7 532.8 L1734.7 532.8 L1735.7 532.8 L1736.7 532.7 L1737.7 532.7 L1738.7 532.6 L1739.7 532.5 L1740.7 532.4" stroke="#d62728" stroke-width="3.5" fill="none" stroke-linejoin="round" stroke-linecap="butt"/>
<path d="M1164.91 543.43V95.60" stroke="#000" stroke-width="2.7" stroke-dasharray="9.0 4.7" fill="none"/>
<path d="M1413.84 543.43V95.60" stroke="#000" stroke-width="2.7" stroke-dasharray="9.0 4.7" fill="none"/>
<path d="M1581.94 543.43V95.60" stroke="#000" stroke-width="2.7" stroke-dasharray="9.0 4.7" fill="none"/>
<text x="1166.11" y="84.50" font-size="23.0" text-anchor="middle"><tspan font-style="italic">t</tspan><tspan font-size="16.1" dy="3.7">1</tspan></text>
<text x="1415.04" y="84.50" font-size="23.0" text-anchor="middle"><tspan font-style="italic">t</tspan><tspan font-size="16.1" dy="3.7">2</tspan></text>
<text x="1583.14" y="84.50" font-size="23.0" text-anchor="middle"><tspan font-style="italic">t</tspan><tspan font-size="16.1" dy="3.7">3</tspan></text>
<path d="M1063.60 603.14H1308.50" stroke="#000" stroke-width="2.5" fill="none"/><path d="M1074.20 597.99L1063.60 603.14L1074.20 608.29" stroke="#000" stroke-width="2.5" fill="none" stroke-linecap="round" stroke-linejoin="round"/><path d="M1297.90 597.99L1308.50 603.14L1297.90 608.29" stroke="#000" stroke-width="2.5" fill="none" stroke-linecap="round" stroke-linejoin="round"/>
<path d="M1312.70 603.14H1738.60" stroke="#000" stroke-width="2.5" fill="none"/><path d="M1323.30 597.99L1312.70 603.14L1323.30 608.29" stroke="#000" stroke-width="2.5" fill="none" stroke-linecap="round" stroke-linejoin="round"/><path d="M1728.00 597.99L1738.60 603.14L1728.00 608.29" stroke="#000" stroke-width="2.5" fill="none" stroke-linecap="round" stroke-linejoin="round"/>
<text x="1184.77" y="588.22" font-size="25.9" text-anchor="middle">systole</text>
<text x="1522.34" y="588.22" font-size="25.9" text-anchor="middle">diastole</text>
<rect x="1040.30" y="95.60" width="721.40" height="537.40" stroke="#333" stroke-width="1.6" fill="none"/>
<path d="M1061.50 633.00V637.60M1231.30 633.00V637.60M1401.10 633.00V637.60M1570.90 633.00V637.60M1740.70 633.00V637.60M1040.30 633.00H1035.70M1040.30 543.43H1035.70M1040.30 453.87H1035.70M1040.30 364.30H1035.70M1040.30 274.73H1035.70M1040.30 185.17H1035.70M1040.30 95.60H1035.70" stroke="#333" stroke-width="1.6" fill="none"/>
<text x="1061.50" y="666.50" font-size="31.0" text-anchor="middle">0.0</text>
<text x="1231.30" y="666.50" font-size="31.0" text-anchor="middle">0.2</text>
<text x="1401.10" y="666.50" font-size="31.0" text-anchor="middle">0.4</text>
<text x="1570.90" y="666.50" font-size="31.0" text-anchor="middle">0.6</text>
<text x="1740.70" y="666.50" font-size="31.0" text-anchor="middle">0.8</text>
<text x="1030.70" y="644.20" font-size="31.0" text-anchor="end">0</text>
<text x="1030.70" y="554.63" font-size="31.0" text-anchor="end">5</text>
<text x="1030.70" y="465.07" font-size="31.0" text-anchor="end">10</text>
<text x="1030.70" y="375.50" font-size="31.0" text-anchor="end">15</text>
<text x="1030.70" y="285.93" font-size="31.0" text-anchor="end">20</text>
<text x="1030.70" y="196.37" font-size="31.0" text-anchor="end">25</text>
<text x="1030.70" y="106.80" font-size="31.0" text-anchor="end">30</text>
<text x="1401.00" y="696.90" font-size="25.9" text-anchor="middle">cyclic time [s]</text>
<text transform="translate(980.80 364.30) rotate(-90)" x="0" y="0" font-size="25.9" text-anchor="middle">specific energy dissipation [<tspan font-style="italic">W</tspan>/<tspan font-style="italic">m</tspan><tspan font-size="18.1" dy="-9.5">3</tspan><tspan dy="9.5">]</tspan></text>
<text x="940.80" y="40.40" font-size="29.6" font-weight="bold" font-family="'Liberation Sans', Arial, sans-serif">B</text>
<path d="M141.05 916.30V1453.80M310.77 916.30V1453.80M480.49 916.30V1453.80M650.21 916.30V1453.80M819.93 916.30V1453.80M119.90 1453.80H840.80M119.90 1386.61H840.80M119.90 1319.42H840.80M119.90 1252.24H840.80M119.90 1185.05H840.80M119.90 1117.86H840.80M119.90 1050.67H840.80M119.90 983.49H840.80M119.90 916.30H840.80" stroke="#c9c9c9" stroke-width="1.5" fill="none"/>
<path d="M141.1 1340.1 L142.0 1340.1 L143.0 1340.0 L144.0 1339.9 L145.0 1339.8 L146.0 1339.7 L147.0 1339.6 L148.0 1339.4 L149.0 1339.2 L150.0 1338.9 L151.0 1338.6 L152.0 1338.3 L153.0 1337.9 L154.0 1337.5 L155.0 1337.0 L156.0 1336.5 L157.0 1335.9 L158.0 1335.3 L159.0 1334.7 L160.0 1333.9 L161.0 1333.2 L162.0 1332.4 L163.0 1331.6 L164.0 1330.7 L165.0 1329.7 L166.0 1328.7 L167.0 1327.7 L168.0 1326.6 L169.0 1325.5 L170.0 1324.4 L171.0 1323.2 L172.0 1322.0 L173.0 1320.7 L174.0 1319.4 L175.0 1318.1 L176.0 1316.7 L177.0 1315.3 L178.0 1313.9 L179.0 1312.4 L180.0 1310.9 L181.0 1309.4 L182.0 1307.9 L183.0 1306.3 L184.0 1304.7 L185.0 1303.2 L186.0 1301.6 L187.0 1299.9 L188.0 1298.3 L189.0 1296.7 L190.0 1295.0 L191.0 1293.4 L192.0 1291.7 L193.0 1290.1 L194.0 1288.4 L195.0 1286.8 L196.0 1285.1 L197.0 1283.5 L198.0 1281.9 L199.0 1280.3 L200.0 1278.6 L201.0 1277.0 L202.0 1275.5 L203.0 1273.9 L204.0 1272.3 L205.0 1270.8 L206.0 1269.3 L207.0 1267.8 L208.0 1266.3 L209.0 1264.8 L210.0 1263.4 L211.0 1262.0 L212.0 1260.6 L213.0 1259.2 L214.0 1257.9 L215.0 1256.6 L216.0 1255.3 L217.0 1254.1 L218.0 1252.9 L219.0 1251.7 L220.0 1250.6 L221.0 1249.5 L222.0 1248.4 L223.0 1247.4 L224.0 1246.4 L225.0 1245.4 L226.0 1244.5 L227.0 1243.7 L228.0 1242.8 L229.0 1242.0 L230.0 1241.3 L231.0 1240.6 L232.0 1239.9 L233.0 1239.3 L234.0 1238.8 L235.0 1238.3 L236.0 1237.8 L237.0 1237.4 L238.0 1237.0 L239.0 1236.7 L240.0 1236.4 L241.0 1236.2 L242.0 1236.1 L243.0 1235.9 L244.0 1235.9 L245.0 1235.9 L246.0 1235.9 L247.0 1236.0 L248.0 1236.1 L249.0 1236.3 L250.0 1236.5 L251.0 1236.8 L252.0 1237.2 L253.0 1237.6 L254.0 1238.0 L255.0 1238.6 L256.0 1239.1 L257.0 1239.7 L258.0 1240.4 L259.0 1241.1 L260.0 1241.8 L261.0 1242.6 L262.0 1243.4 L263.0 1244.3 L264.0 1245.2 L265.0 1246.1 L266.0 1247.1 L267.0 1248.1 L268.0 1249.1 L269.0 1250.2 L270.0 1251.3 L271.0 1252.4 L272.0 1253.6 L273.0 1254.8 L274.0 1256.0 L275.0 1257.3 L276.0 1258.5 L277.0 1259.8 L278.0 1261.1 L279.0 1262.5 L280.0 1263.8 L281.0 1265.2 L282.0 1266.6 L283.0 1268.0 L284.0 1269.5 L285.0 1270.9 L286.0 1272.4 L287.0 1273.9 L288.0 1275.4 L289.0 1276.9 L290.0 1278.5 L291.0 1280.0 L292.0 1281.6 L293.0 1283.2 L294.0 1284.7 L295.0 1286.3 L296.0 1288.0 L297.0 1289.6 L298.0 1291.2 L299.0 1292.9 L300.0 1294.5 L301.0 1296.2 L302.0 1297.8 L303.0 1299.5 L304.0 1301.2 L305.0 1302.8 L306.0 1304.5 L307.0 1306.2 L308.0 1307.9 L309.0 1309.6 L310.0 1311.3 L311.0 1312.9 L312.0 1314.6 L313.0 1316.3 L314.0 1317.9 L315.0 1319.6 L316.0 1321.3 L317.0 1322.9 L318.0 1324.6 L319.0 1326.2 L320.0 1327.8 L321.0 1329.4 L322.0 1331.0 L323.0 1332.7 L324.0 1334.3 L325.0 1335.8 L326.0 1337.4 L327.0 1339.0 L328.0 1340.6 L329.0 1342.1 L330.0 1343.7 L331.0 1345.2 L332.0 1346.8 L333.0 1348.3 L334.0 1349.8 L335.0 1351.3 L336.0 1352.8 L337.0 1354.3 L338.0 1355.8 L339.0 1357.3 L340.0 1358.8 L341.0 1360.2 L342.0 1361.7 L343.0 1363.2 L344.0 1364.6 L345.0 1366.0 L346.0 1367.4 L347.0 1368.9 L348.0 1370.3 L349.0 1371.6 L350.0 1373.0 L351.0 1374.4 L352.0 1375.7 L353.0 1377.0 L354.0 1378.3 L355.0 1379.6 L356.0 1380.9 L357.0 1382.1 L358.0 1383.4 L359.0 1384.6 L360.0 1385.7 L361.0 1386.9 L362.0 1388.0 L363.0 1389.1 L364.0 1390.1 L365.0 1391.2 L366.0 1392.1 L367.0 1393.1 L368.0 1394.0 L369.0 1394.9 L370.0 1395.7 L371.0 1396.5 L372.0 1397.3 L373.0 1398.0 L374.0 1398.7 L375.0 1399.4 L376.0 1400.0 L377.0 1400.6 L378.0 1401.1 L379.0 1401.6 L380.0 1402.1 L381.0 1402.5 L382.0 1402.9 L383.0 1403.3 L384.0 1403.6 L385.0 1403.9 L386.0 1404.2 L387.0 1404.4 L388.0 1404.6 L389.0 1404.8 L390.0 1405.0 L391.0 1405.1 L392.0 1405.2 L393.0 1405.2 L394.0 1405.3 L395.0 1405.3 L396.0 1405.3 L397.0 1405.2 L398.0 1405.2 L399.0 1405.1 L400.0 1404.9 L401.0 1404.8 L402.0 1404.6 L403.0 1404.4 L404.0 1404.2 L405.0 1403.9 L406.0 1403.7 L407.0 1403.4 L408.0 1403.1 L409.0 1402.7 L410.0 1402.4 L411.0 1402.0 L412.0 1401.6 L413.0 1401.1 L414.0 1400.7 L415.0 1400.2 L416.0 1399.7 L417.0 1399.2 L418.0 1398.7 L419.0 1398.1 L420.0 1397.6 L421.0 1397.0 L422.0 1396.4 L423.0 1395.8 L424.0 1395.1 L425.0 1394.4 L426.0 1393.8 L427.0 1393.1 L428.0 1392.3 L429.0 1391.6 L430.0 1390.8 L431.0 1390.0 L432.0 1389.2 L433.0 1388.4 L434.0 1387.6 L435.0 1386.7 L436.0 1385.9 L437.0 1385.0 L438.0 1384.1 L439.0 1383.1 L440.0 1382.2 L441.0 1381.2 L442.0 1380.2 L443.0 1379.2 L444.0 1378.2 L445.0 1377.1 L446.0 1376.1 L447.0 1375.0 L448.0 1373.9 L449.0 1372.8 L450.0 1371.6 L451.0 1370.5 L452.0 1369.3 L453.0 1368.1 L454.0 1366.9 L455.0 1365.7 L456.0 1364.5 L457.0 1363.3 L458.0 1362.0 L459.0 1360.7 L460.0 1359.5 L461.0 1358.2 L462.0 1356.9 L463.0 1355.5 L464.0 1354.2 L465.0 1352.8 L466.0 1351.5 L467.0 1350.1 L468.0 1348.7 L469.0 1347.3 L470.0 1345.9 L471.0 1344.5 L472.0 1343.0 L473.0 1341.6 L474.0 1340.1 L475.0 1338.7 L476.0 1337.2 L477.0 1335.7 L478.0 1334.3 L479.0 1332.8 L480.0 1331.3 L481.0 1329.8 L482.0 1328.4 L483.0 1326.9 L484.0 1325.5 L485.0 1324.1 L486.0 1322.6 L487.0 1321.3 L488.0 1319.9 L489.0 1318.6 L490.0 1317.4 L491.0 1316.1 L492.0 1314.9 L493.0 1313.7 L494.0 1312.6 L495.0 1311.5 L496.0 1310.4 L497.0 1309.4 L498.0 1308.4 L499.0 1307.4 L500.0 1306.4 L501.0 1305.4 L502.0 1304.5 L503.0 1303.6 L504.0 1302.7 L505.0 1301.8 L506.0 1300.9 L507.0 1300.0 L508.0 1299.2 L509.0 1298.3 L510.0 1297.5 L511.0 1296.6 L512.0 1295.8 L513.0 1295.0 L514.0 1294.2 L515.0 1293.3 L516.0 1292.5 L517.0 1291.7 L518.0 1290.9 L519.0 1290.1 L520.0 1289.3 L521.0 1288.5 L522.0 1287.8 L523.0 1287.0 L524.0 1286.3 L525.0 1285.5 L526.0 1284.8 L527.0 1284.2 L528.0 1283.5 L529.0 1282.9 L530.0 1282.3 L531.0 1281.7 L532.0 1281.2 L533.0 1280.7 L534.0 1280.2 L535.0 1279.7 L536.0 1279.3 L537.0 1278.9 L538.0 1278.5 L539.0 1278.1 L540.0 1277.8 L541.0 1277.4 L542.0 1277.1 L543.0 1276.8 L544.0 1276.6 L545.0 1276.3 L546.0 1276.1 L547.0 1275.8 L548.0 1275.6 L549.0 1275.4 L550.0 1275.2 L551.0 1275.1 L552.0 1274.9 L553.0 1274.8 L554.0 1274.6 L555.0 1274.5 L556.0 1274.4 L557.0 1274.3 L558.0 1274.2 L559.0 1274.1 L560.0 1274.0 L561.0 1274.0 L562.0 1273.9 L563.0 1273.9 L564.0 1273.9 L565.0 1273.9 L566.0 1273.8 L567.0 1273.8 L568.0 1273.9 L569.0 1273.9 L570.0 1273.9 L571.0 1274.0 L572.0 1274.0 L573.0 1274.1 L574.0 1274.2 L575.0 1274.3 L576.0 1274.4 L577.0 1274.5 L578.0 1274.7 L579.0 1274.8 L580.0 1275.0 L581.0 1275.1 L582.0 1275.3 L583.0 1275.5 L584.0 1275.7 L585.0 1275.9 L586.0 1276.2 L587.0 1276.4 L588.0 1276.6 L589.0 1276.9 L590.0 1277.2 L591.0 1277.4 L592.0 1277.7 L593.0 1278.0 L594.0 1278.3 L595.0 1278.6 L596.0 1278.9 L597.0 1279.2 L598.0 1279.6 L599.0 1279.9 L600.0 1280.2 L601.0 1280.6 L602.0 1280.9 L603.0 1281.3 L604.0 1281.7 L605.0 1282.0 L606.0 1282.4 L607.0 1282.8 L608.0 1283.2 L609.0 1283.6 L610.0 1284.0 L611.0 1284.4 L612.0 1284.8 L613.0 1285.3 L614.0 1285.7 L615.0 1286.1 L616.0 1286.6 L617.0 1287.0 L618.0 1287.4 L619.0 1287.9 L620.0 1288.3 L621.0 1288.8 L622.0 1289.2 L623.0 1289.7 L624.0 1290.1 L625.0 1290.6 L626.0 1291.0 L627.0 1291.5 L628.0 1291.9 L629.0 1292.4 L630.0 1292.8 L631.0 1293.3 L632.0 1293.7 L633.0 1294.2 L634.0 1294.6 L635.0 1295.1 L636.0 1295.5 L637.0 1296.0 L638.0 1296.4 L639.0 1296.9 L640.0 1297.4 L641.0 1297.8 L642.0 1298.3 L643.0 1298.8 L644.0 1299.3 L645.0 1299.8 L646.0 1300.3 L647.0 1300.8 L648.0 1301.3 L649.0 1301.8 L650.0 1302.3 L651.0 1302.8 L652.0 1303.2 L653.0 1303.7 L654.0 1304.2 L655.0 1304.6 L656.0 1305.1 L657.0 1305.5 L658.0 1306.0 L659.0 1306.4 L660.0 1306.9 L661.0 1307.3 L662.0 1307.7 L663.0 1308.1 L664.0 1308.5 L665.0 1309.0 L666.0 1309.4 L667.0 1309.7 L668.0 1310.1 L669.0 1310.5 L670.0 1310.9 L671.0 1311.3 L672.0 1311.6 L673.0 1312.0 L674.0 1312.3 L675.0 1312.6 L676.0 1312.9 L677.0 1313.3 L678.0 1313.6 L679.0 1313.9 L680.0 1314.1 L681.0 1314.4 L682.0 1314.7 L683.0 1314.9 L684.0 1315.2 L685.0 1315.4 L686.0 1315.6 L687.0 1315.8 L688.0 1316.0 L689.0 1316.2 L690.0 1316.4 L691.0 1316.6 L692.0 1316.8 L693.0 1317.0 L694.0 1317.1 L695.0 1317.3 L696.0 1317.4 L697.0 1317.5 L698.0 1317.7 L699.0 1317.8 L700.0 1317.9 L701.0 1318.0 L702.0 1318.1 L703.0 1318.2 L704.0 1318.3 L705.0 1318.4 L706.0 1318.4 L706.9 1318.5 L707.9 1318.5 L708.9 1318.5 L709.9 1318.5 L710.9 1318.5 L711.9 1318.5 L712.9 1318.5 L713.9 1318.5 L714.9 1318.4 L715.9 1318.4 L716.9 1318.3 L717.9 1318.2 L718.9 1318.2 L719.9 1318.1 L720.9 1317.9 L721.9 1317.8 L722.9 1317.7 L723.9 1317.6 L724.9 1317.4 L725.9 1317.3 L726.9 1317.1 L727.9 1316.9 L728.9 1316.8 L729.9 1316.6 L730.9 1316.4 L731.9 1316.2 L732.9 1316.0 L733.9 1315.8 L734.9 1315.5 L735.9 1315.3 L736.9 1315.1 L737.9 1314.9 L738.9 1314.7 L739.9 1314.5 L740.9 1314.2 L741.9 1314.0 L742.9 1313.8 L743.9 1313.6 L744.9 1313.4 L745.9 1313.2 L746.9 1313.0 L747.9 1312.8 L748.9 1312.7 L749.9 1312.5 L750.9 1312.4 L751.9 1312.2 L752.9 1312.1 L753.9 1312.0 L754.9 1311.9 L755.9 1311.8 L756.9 1311.7 L757.9 1311.6 L758.9 1311.6 L759.9 1311.6 L760.9 1311.6 L761.9 1311.6 L762.9 1311.6 L763.9 1311.7 L764.9 1311.7 L765.9 1311.8 L766.9 1311.9 L767.9 1312.1 L768.9 1312.2 L769.9 1312.4 L770.9 1312.6 L771.9 1312.8 L772.9 1313.1 L773.9 1313.4 L774.9 1313.7 L775.9 1314.0 L776.9 1314.3 L777.9 1314.7 L778.9 1315.1 L779.9 1315.5 L780.9 1315.9 L781.9 1316.4 L782.9 1316.9 L783.9 1317.3 L784.9 1317.8 L785.9 1318.3 L786.9 1318.9 L787.9 1319.4 L788.9 1319.9 L789.9 1320.5 L790.9 1321.0 L791.9 1321.6 L792.9 1322.2 L793.9 1322.7 L794.9 1323.3 L795.9 1323.8 L796.9 1324.4 L797.9 1325.0 L798.9 1325.5 L799.9 1326.1 L800.9 1326.7 L801.9 1327.2 L802.9 1327.8 L803.9 1328.4 L804.9 1328.9 L805.9 1329.5 L806.9 1330.1 L807.9 1330.7 L808.9 1331.2 L809.9 1331.8 L810.9 1332.4 L811.9 1332.9 L812.9 1333.5 L813.9 1334.1 L814.9 1334.6 L815.9 1335.2 L816.9 1335.8 L817.9 1336.4 L818.9 1336.9 L819.9 1337.5" stroke="#9467bd" stroke-width="3.5" fill="none" stroke-linejoin="round" stroke-linecap="butt"/>
<path d="M141.1 1167.9 L142.0 1168.3 L143.0 1168.7 L144.0 1169.1 L145.0 1169.4 L146.0 1169.7 L147.0 1170.1 L148.0 1170.3 L149.0 1170.6 L150.0 1170.7 L151.0 1170.9 L152.0 1171.0 L153.0 1171.0 L154.0 1170.9 L155.0 1170.8 L156.0 1170.7 L157.0 1170.4 L158.0 1170.1 L159.0 1169.7 L160.0 1169.3 L161.0 1168.7 L162.0 1168.2 L163.0 1167.5 L164.0 1166.7 L165.0 1165.9 L166.0 1165.1 L167.0 1164.1 L168.0 1163.1 L169.0 1161.9 L170.0 1160.8 L171.0 1159.5 L172.0 1158.2 L173.0 1156.8 L174.0 1155.4 L175.0 1153.9 L176.0 1152.3 L177.0 1150.7 L178.0 1149.0 L179.0 1147.3 L180.0 1145.5 L181.0 1143.6 L182.0 1141.7 L183.0 1139.8 L184.0 1137.8 L185.0 1135.8 L186.0 1133.7 L187.0 1131.6 L188.0 1129.5 L189.0 1127.3 L190.0 1125.1 L191.0 1122.8 L192.0 1120.6 L193.0 1118.3 L194.0 1116.0 L195.0 1113.6 L196.0 1111.3 L197.0 1108.9 L198.0 1106.6 L199.0 1104.2 L200.0 1101.9 L201.0 1099.5 L202.0 1097.2 L203.0 1094.9 L204.0 1092.6 L205.0 1090.4 L206.0 1088.2 L207.0 1086.0 L208.0 1083.8 L209.0 1081.8 L210.0 1079.7 L211.0 1077.7 L212.0 1075.7 L213.0 1073.8 L214.0 1072.0 L215.0 1070.2 L216.0 1068.4 L217.0 1066.7 L218.0 1065.1 L219.0 1063.5 L220.0 1062.0 L221.0 1060.6 L222.0 1059.2 L223.0 1057.9 L224.0 1056.6 L225.0 1055.4 L226.0 1054.3 L227.0 1053.3 L228.0 1052.3 L229.0 1051.4 L230.0 1050.5 L231.0 1049.7 L232.0 1049.0 L233.0 1048.3 L234.0 1047.7 L235.0 1047.1 L236.0 1046.7 L237.0 1046.2 L238.0 1045.9 L239.0 1045.6 L240.0 1045.4 L241.0 1045.2 L242.0 1045.1 L243.0 1045.1 L244.0 1045.1 L245.0 1045.2 L246.0 1045.3 L247.0 1045.6 L248.0 1045.9 L249.0 1046.2 L250.0 1046.6 L251.0 1047.1 L252.0 1047.7 L253.0 1048.3 L254.0 1049.0 L255.0 1049.8 L256.0 1050.7 L257.0 1051.6 L258.0 1052.6 L259.0 1053.7 L260.0 1054.8 L261.0 1056.0 L262.0 1057.3 L263.0 1058.7 L264.0 1060.1 L265.0 1061.6 L266.0 1063.1 L267.0 1064.7 L268.0 1066.3 L269.0 1068.0 L270.0 1069.8 L271.0 1071.6 L272.0 1073.4 L273.0 1075.3 L274.0 1077.2 L275.0 1079.2 L276.0 1081.3 L277.0 1083.4 L278.0 1085.5 L279.0 1087.7 L280.0 1090.0 L281.0 1092.3 L282.0 1094.7 L283.0 1097.0 L284.0 1099.5 L285.0 1101.9 L286.0 1104.4 L287.0 1107.0 L288.0 1109.5 L289.0 1112.1 L290.0 1114.7 L291.0 1117.3 L292.0 1119.9 L293.0 1122.5 L294.0 1125.1 L295.0 1127.8 L296.0 1130.5 L297.0 1133.1 L298.0 1135.8 L299.0 1138.5 L300.0 1141.2 L301.0 1143.8 L302.0 1146.5 L303.0 1149.2 L304.0 1151.9 L305.0 1154.6 L306.0 1157.3 L307.0 1160.1 L308.0 1162.8 L309.0 1165.5 L310.0 1168.2 L311.0 1170.9 L312.0 1173.6 L313.0 1176.3 L314.0 1179.0 L315.0 1181.7 L316.0 1184.4 L317.0 1187.0 L318.0 1189.7 L319.0 1192.3 L320.0 1194.9 L321.0 1197.5 L322.0 1200.1 L323.0 1202.6 L324.0 1205.2 L325.0 1207.7 L326.0 1210.3 L327.0 1212.8 L328.0 1215.3 L329.0 1217.7 L330.0 1220.2 L331.0 1222.7 L332.0 1225.1 L333.0 1227.5 L334.0 1230.0 L335.0 1232.4 L336.0 1234.8 L337.0 1237.1 L338.0 1239.5 L339.0 1241.8 L340.0 1244.2 L341.0 1246.4 L342.0 1248.7 L343.0 1251.0 L344.0 1253.2 L345.0 1255.4 L346.0 1257.5 L347.0 1259.7 L348.0 1261.8 L349.0 1263.8 L350.0 1265.9 L351.0 1267.9 L352.0 1269.9 L353.0 1271.9 L354.0 1273.8 L355.0 1275.7 L356.0 1277.6 L357.0 1279.4 L358.0 1281.2 L359.0 1283.0 L360.0 1284.7 L361.0 1286.4 L362.0 1288.1 L363.0 1289.7 L364.0 1291.3 L365.0 1292.9 L366.0 1294.5 L367.0 1296.0 L368.0 1297.4 L369.0 1298.9 L370.0 1300.3 L371.0 1301.6 L372.0 1302.9 L373.0 1304.2 L374.0 1305.4 L375.0 1306.6 L376.0 1307.7 L377.0 1308.8 L378.0 1309.8 L379.0 1310.8 L380.0 1311.7 L381.0 1312.6 L382.0 1313.4 L383.0 1314.2 L384.0 1314.9 L385.0 1315.5 L386.0 1316.1 L387.0 1316.7 L388.0 1317.2 L389.0 1317.6 L390.0 1318.0 L391.0 1318.3 L392.0 1318.6 L393.0 1318.8 L394.0 1319.0 L395.0 1319.1 L396.0 1319.2 L397.0 1319.2 L398.0 1319.2 L399.0 1319.1 L400.0 1319.0 L401.0 1318.8 L402.0 1318.5 L403.0 1318.3 L404.0 1318.0 L405.0 1317.6 L406.0 1317.2 L407.0 1316.8 L408.0 1316.3 L409.0 1315.8 L410.0 1315.2 L411.0 1314.7 L412.0 1314.0 L413.0 1313.4 L414.0 1312.7 L415.0 1311.9 L416.0 1311.2 L417.0 1310.3 L418.0 1309.5 L419.0 1308.6 L420.0 1307.7 L421.0 1306.7 L422.0 1305.7 L423.0 1304.6 L424.0 1303.5 L425.0 1302.3 L426.0 1301.1 L427.0 1299.8 L428.0 1298.5 L429.0 1297.1 L430.0 1295.7 L431.0 1294.2 L432.0 1292.6 L433.0 1291.0 L434.0 1289.3 L435.0 1287.6 L436.0 1285.8 L437.0 1283.9 L438.0 1281.9 L439.0 1279.9 L440.0 1277.8 L441.0 1275.7 L442.0 1273.4 L443.0 1271.1 L444.0 1268.8 L445.0 1266.3 L446.0 1263.9 L447.0 1261.3 L448.0 1258.7 L449.0 1256.1 L450.0 1253.3 L451.0 1250.6 L452.0 1247.7 L453.0 1244.9 L454.0 1241.9 L455.0 1239.0 L456.0 1235.9 L457.0 1232.9 L458.0 1229.8 L459.0 1226.7 L460.0 1223.6 L461.0 1220.4 L462.0 1217.3 L463.0 1214.1 L464.0 1210.9 L465.0 1207.7 L466.0 1204.4 L467.0 1201.2 L468.0 1197.9 L469.0 1194.6 L470.0 1191.3 L471.0 1188.0 L472.0 1184.7 L473.0 1181.3 L474.0 1178.0 L475.0 1174.6 L476.0 1171.2 L477.0 1167.8 L478.0 1164.4 L479.0 1161.0 L480.0 1157.6 L481.0 1154.1 L482.0 1150.6 L483.0 1147.2 L484.0 1143.7 L485.0 1140.2 L486.0 1136.7 L487.0 1133.2 L488.0 1129.7 L489.0 1126.1 L490.0 1122.6 L491.0 1119.1 L492.0 1115.6 L493.0 1112.1 L494.0 1108.5 L495.0 1105.0 L496.0 1101.5 L497.0 1098.1 L498.0 1094.6 L499.0 1091.1 L500.0 1087.7 L501.0 1084.3 L502.0 1080.9 L503.0 1077.5 L504.0 1074.2 L505.0 1070.9 L506.0 1067.7 L507.0 1064.5 L508.0 1061.3 L509.0 1058.2 L510.0 1055.1 L511.0 1052.0 L512.0 1049.0 L513.0 1046.1 L514.0 1043.2 L515.0 1040.3 L516.0 1037.5 L517.0 1034.8 L518.0 1032.1 L519.0 1029.4 L520.0 1026.8 L521.0 1024.3 L522.0 1021.8 L523.0 1019.4 L524.0 1017.0 L525.0 1014.7 L526.0 1012.5 L527.0 1010.3 L528.0 1008.2 L529.0 1006.1 L530.0 1004.1 L531.0 1002.2 L532.0 1000.3 L533.0 998.5 L534.0 996.7 L535.0 995.1 L536.0 993.4 L537.0 991.8 L538.0 990.3 L539.0 988.8 L540.0 987.4 L541.0 986.0 L542.0 984.7 L543.0 983.4 L544.0 982.1 L545.0 980.9 L546.0 979.8 L547.0 978.7 L548.0 977.6 L549.0 976.6 L550.0 975.6 L551.0 974.7 L552.0 973.9 L553.0 973.0 L554.0 972.3 L555.0 971.6 L556.0 970.9 L557.0 970.3 L558.0 969.7 L559.0 969.2 L560.0 968.7 L561.0 968.3 L562.0 968.0 L563.0 967.7 L564.0 967.4 L565.0 967.2 L566.0 967.0 L567.0 966.9 L568.0 966.8 L569.0 966.8 L570.0 966.8 L571.0 966.9 L572.0 967.0 L573.0 967.2 L574.0 967.4 L575.0 967.7 L576.0 968.0 L577.0 968.4 L578.0 968.7 L579.0 969.2 L580.0 969.7 L581.0 970.2 L582.0 970.8 L583.0 971.4 L584.0 972.0 L585.0 972.7 L586.0 973.4 L587.0 974.2 L588.0 975.0 L589.0 975.9 L590.0 976.7 L591.0 977.7 L592.0 978.6 L593.0 979.6 L594.0 980.6 L595.0 981.7 L596.0 982.8 L597.0 983.9 L598.0 985.0 L599.0 986.2 L600.0 987.4 L601.0 988.6 L602.0 989.9 L603.0 991.2 L604.0 992.5 L605.0 993.8 L606.0 995.2 L607.0 996.6 L608.0 998.0 L609.0 999.4 L610.0 1000.8 L611.0 1002.3 L612.0 1003.8 L613.0 1005.3 L614.0 1006.8 L615.0 1008.4 L616.0 1009.9 L617.0 1011.5 L618.0 1013.1 L619.0 1014.7 L620.0 1016.3 L621.0 1017.9 L622.0 1019.5 L623.0 1021.2 L624.0 1022.9 L625.0 1024.5 L626.0 1026.2 L627.0 1027.9 L628.0 1029.6 L629.0 1031.3 L630.0 1033.0 L631.0 1034.8 L632.0 1036.5 L633.0 1038.2 L634.0 1039.9 L635.0 1041.7 L636.0 1043.4 L637.0 1045.1 L638.0 1046.8 L639.0 1048.5 L640.0 1050.2 L641.0 1051.8 L642.0 1053.4 L643.0 1055.0 L644.0 1056.6 L645.0 1058.2 L646.0 1059.7 L647.0 1061.2 L648.0 1062.7 L649.0 1064.2 L650.0 1065.6 L651.0 1067.1 L652.0 1068.5 L653.0 1069.9 L654.0 1071.3 L655.0 1072.7 L656.0 1074.1 L657.0 1075.5 L658.0 1076.9 L659.0 1078.3 L660.0 1079.7 L661.0 1081.1 L662.0 1082.5 L663.0 1083.9 L664.0 1085.4 L665.0 1086.8 L666.0 1088.2 L667.0 1089.6 L668.0 1091.1 L669.0 1092.5 L670.0 1093.9 L671.0 1095.3 L672.0 1096.7 L673.0 1098.1 L674.0 1099.5 L675.0 1100.9 L676.0 1102.3 L677.0 1103.6 L678.0 1105.0 L679.0 1106.3 L680.0 1107.6 L681.0 1108.9 L682.0 1110.2 L683.0 1111.5 L684.0 1112.7 L685.0 1113.9 L686.0 1115.2 L687.0 1116.3 L688.0 1117.5 L689.0 1118.6 L690.0 1119.7 L691.0 1120.8 L692.0 1121.9 L693.0 1122.9 L694.0 1123.9 L695.0 1124.9 L696.0 1125.9 L697.0 1126.8 L698.0 1127.7 L699.0 1128.5 L700.0 1129.3 L701.0 1130.1 L702.0 1130.9 L703.0 1131.6 L704.0 1132.3 L705.0 1132.9 L706.0 1133.6 L706.9 1134.1 L707.9 1134.7 L708.9 1135.2 L709.9 1135.7 L710.9 1136.1 L711.9 1136.6 L712.9 1137.0 L713.9 1137.3 L714.9 1137.7 L715.9 1138.0 L716.9 1138.2 L717.9 1138.5 L718.9 1138.7 L719.9 1138.9 L720.9 1139.0 L721.9 1139.2 L722.9 1139.3 L723.9 1139.3 L724.9 1139.4 L725.9 1139.4 L726.9 1139.4 L727.9 1139.4 L728.9 1139.4 L729.9 1139.3 L730.9 1139.2 L731.9 1139.1 L732.9 1139.0 L733.9 1138.8 L734.9 1138.7 L735.9 1138.5 L736.9 1138.3 L737.9 1138.1 L738.9 1137.9 L739.9 1137.6 L740.9 1137.4 L741.9 1137.1 L742.9 1136.9 L743.9 1136.6 L744.9 1136.3 L745.9 1136.0 L746.9 1135.7 L747.9 1135.4 L748.9 1135.1 L749.9 1134.8 L750.9 1134.5 L751.9 1134.2 L752.9 1133.9 L753.9 1133.6 L754.9 1133.3 L755.9 1133.0 L756.9 1132.8 L757.9 1132.5 L758.9 1132.3 L759.9 1132.1 L760.9 1131.9 L761.9 1131.7 L762.9 1131.5 L763.9 1131.4 L764.9 1131.3 L765.9 1131.2 L766.9 1131.1 L767.9 1131.0 L768.9 1131.0 L769.9 1131.0 L770.9 1131.1 L771.9 1131.1 L772.9 1131.2 L773.9 1131.4 L774.9 1131.5 L775.9 1131.7 L776.9 1131.9 L777.9 1132.2 L778.9 1132.5 L779.9 1132.8 L780.9 1133.1 L781.9 1133.5 L782.9 1133.9 L783.9 1134.4 L784.9 1134.8 L785.9 1135.3 L786.9 1135.9 L787.9 1136.4 L788.9 1137.0 L789.9 1137.6 L790.9 1138.3 L791.9 1138.9 L792.9 1139.6 L793.9 1140.4 L794.9 1141.1 L795.9 1141.9 L796.9 1142.8 L797.9 1143.6 L798.9 1144.5 L799.9 1145.4 L800.9 1146.3 L801.9 1147.3 L802.9 1148.2 L803.9 1149.2 L804.9 1150.2 L805.9 1151.3 L806.9 1152.3 L807.9 1153.4 L808.9 1154.4 L809.9 1155.5 L810.9 1156.6 L811.9 1157.7 L812.9 1158.8 L813.9 1159.9 L814.9 1161.0 L815.9 1162.1 L816.9 1163.3 L817.9 1164.4 L818.9 1165.5 L819.9 1166.7" stroke="#8c564b" stroke-width="3.5" fill="none" stroke-linejoin="round" stroke-linecap="butt"/>
<path d="M141.1 1310.9 L142.0 1311.0 L143.0 1311.1 L144.0 1311.2 L145.0 1311.3 L146.0 1311.4 L147.0 1311.4 L148.0 1311.5 L149.0 1311.5 L150.0 1311.5 L151.0 1311.5 L152.0 1311.4 L153.0 1311.3 L154.0 1311.1 L155.0 1311.0 L156.0 1310.8 L157.0 1310.5 L158.0 1310.2 L159.0 1309.9 L160.0 1309.6 L161.0 1309.2 L162.0 1308.7 L163.0 1308.3 L164.0 1307.7 L165.0 1307.2 L166.0 1306.6 L167.0 1305.9 L168.0 1305.3 L169.0 1304.5 L170.0 1303.8 L171.0 1303.0 L172.0 1302.2 L173.0 1301.3 L174.0 1300.4 L175.0 1299.5 L176.0 1298.5 L177.0 1297.5 L178.0 1296.5 L179.0 1295.5 L180.0 1294.4 L181.0 1293.3 L182.0 1292.2 L183.0 1291.0 L184.0 1289.9 L185.0 1288.7 L186.0 1287.5 L187.0 1286.3 L188.0 1285.1 L189.0 1283.9 L190.0 1282.6 L191.0 1281.4 L192.0 1280.1 L193.0 1278.9 L194.0 1277.6 L195.0 1276.4 L196.0 1275.2 L197.0 1273.9 L198.0 1272.7 L199.0 1271.4 L200.0 1270.2 L201.0 1269.0 L202.0 1267.8 L203.0 1266.6 L204.0 1265.4 L205.0 1264.2 L206.0 1263.1 L207.0 1261.9 L208.0 1260.8 L209.0 1259.7 L210.0 1258.6 L211.0 1257.6 L212.0 1256.5 L213.0 1255.5 L214.0 1254.5 L215.0 1253.5 L216.0 1252.5 L217.0 1251.6 L218.0 1250.7 L219.0 1249.9 L220.0 1249.0 L221.0 1248.2 L222.0 1247.5 L223.0 1246.7 L224.0 1246.0 L225.0 1245.3 L226.0 1244.7 L227.0 1244.1 L228.0 1243.6 L229.0 1243.0 L230.0 1242.5 L231.0 1242.1 L232.0 1241.6 L233.0 1241.3 L234.0 1240.9 L235.0 1240.6 L236.0 1240.3 L237.0 1240.1 L238.0 1239.8 L239.0 1239.7 L240.0 1239.6 L241.0 1239.5 L242.0 1239.4 L243.0 1239.4 L244.0 1239.4 L245.0 1239.5 L246.0 1239.7 L247.0 1239.8 L248.0 1240.0 L249.0 1240.3 L250.0 1240.6 L251.0 1240.9 L252.0 1241.3 L253.0 1241.8 L254.0 1242.2 L255.0 1242.7 L256.0 1243.3 L257.0 1243.9 L258.0 1244.5 L259.0 1245.1 L260.0 1245.8 L261.0 1246.5 L262.0 1247.2 L263.0 1248.0 L264.0 1248.8 L265.0 1249.6 L266.0 1250.4 L267.0 1251.3 L268.0 1252.2 L269.0 1253.1 L270.0 1254.0 L271.0 1255.0 L272.0 1256.0 L273.0 1257.0 L274.0 1258.0 L275.0 1259.1 L276.0 1260.1 L277.0 1261.2 L278.0 1262.3 L279.0 1263.4 L280.0 1264.6 L281.0 1265.7 L282.0 1266.9 L283.0 1268.1 L284.0 1269.2 L285.0 1270.4 L286.0 1271.6 L287.0 1272.8 L288.0 1274.0 L289.0 1275.3 L290.0 1276.5 L291.0 1277.7 L292.0 1278.9 L293.0 1280.1 L294.0 1281.3 L295.0 1282.5 L296.0 1283.8 L297.0 1285.0 L298.0 1286.2 L299.0 1287.4 L300.0 1288.6 L301.0 1289.8 L302.0 1291.1 L303.0 1292.3 L304.0 1293.5 L305.0 1294.7 L306.0 1295.9 L307.0 1297.1 L308.0 1298.3 L309.0 1299.5 L310.0 1300.7 L311.0 1301.9 L312.0 1303.1 L313.0 1304.3 L314.0 1305.6 L315.0 1306.8 L316.0 1308.0 L317.0 1309.2 L318.0 1310.4 L319.0 1311.6 L320.0 1312.8 L321.0 1314.0 L322.0 1315.2 L323.0 1316.4 L324.0 1317.6 L325.0 1318.8 L326.0 1320.0 L327.0 1321.2 L328.0 1322.4 L329.0 1323.6 L330.0 1324.8 L331.0 1326.0 L332.0 1327.2 L333.0 1328.4 L334.0 1329.6 L335.0 1330.8 L336.0 1332.0 L337.0 1333.2 L338.0 1334.4 L339.0 1335.6 L340.0 1336.7 L341.0 1337.9 L342.0 1339.1 L343.0 1340.2 L344.0 1341.4 L345.0 1342.5 L346.0 1343.7 L347.0 1344.8 L348.0 1345.9 L349.0 1347.0 L350.0 1348.1 L351.0 1349.2 L352.0 1350.3 L353.0 1351.4 L354.0 1352.4 L355.0 1353.5 L356.0 1354.5 L357.0 1355.5 L358.0 1356.5 L359.0 1357.5 L360.0 1358.4 L361.0 1359.4 L362.0 1360.3 L363.0 1361.2 L364.0 1362.1 L365.0 1362.9 L366.0 1363.7 L367.0 1364.5 L368.0 1365.2 L369.0 1366.0 L370.0 1366.6 L371.0 1367.3 L372.0 1367.9 L373.0 1368.5 L374.0 1369.1 L375.0 1369.6 L376.0 1370.1 L377.0 1370.6 L378.0 1371.1 L379.0 1371.5 L380.0 1371.9 L381.0 1372.3 L382.0 1372.6 L383.0 1372.9 L384.0 1373.2 L385.0 1373.5 L386.0 1373.7 L387.0 1373.9 L388.0 1374.1 L389.0 1374.3 L390.0 1374.4 L391.0 1374.5 L392.0 1374.6 L393.0 1374.6 L394.0 1374.6 L395.0 1374.6 L396.0 1374.6 L397.0 1374.5 L398.0 1374.4 L399.0 1374.3 L400.0 1374.2 L401.0 1374.1 L402.0 1373.9 L403.0 1373.7 L404.0 1373.5 L405.0 1373.3 L406.0 1373.0 L407.0 1372.7 L408.0 1372.5 L409.0 1372.1 L410.0 1371.8 L411.0 1371.5 L412.0 1371.1 L413.0 1370.8 L414.0 1370.4 L415.0 1370.0 L416.0 1369.6 L417.0 1369.1 L418.0 1368.7 L419.0 1368.2 L420.0 1367.8 L421.0 1367.3 L422.0 1366.8 L423.0 1366.2 L424.0 1365.7 L425.0 1365.2 L426.0 1364.6 L427.0 1364.0 L428.0 1363.4 L429.0 1362.8 L430.0 1362.2 L431.0 1361.5 L432.0 1360.9 L433.0 1360.2 L434.0 1359.6 L435.0 1358.9 L436.0 1358.2 L437.0 1357.5 L438.0 1356.7 L439.0 1356.0 L440.0 1355.2 L441.0 1354.4 L442.0 1353.7 L443.0 1352.9 L444.0 1352.0 L445.0 1351.2 L446.0 1350.3 L447.0 1349.5 L448.0 1348.6 L449.0 1347.7 L450.0 1346.8 L451.0 1345.9 L452.0 1345.0 L453.0 1344.0 L454.0 1343.1 L455.0 1342.1 L456.0 1341.1 L457.0 1340.1 L458.0 1339.1 L459.0 1338.1 L460.0 1337.1 L461.0 1336.1 L462.0 1335.0 L463.0 1333.9 L464.0 1332.9 L465.0 1331.8 L466.0 1330.7 L467.0 1329.5 L468.0 1328.4 L469.0 1327.3 L470.0 1326.1 L471.0 1324.9 L472.0 1323.8 L473.0 1322.6 L474.0 1321.3 L475.0 1320.1 L476.0 1318.9 L477.0 1317.6 L478.0 1316.4 L479.0 1315.1 L480.0 1313.8 L481.0 1312.6 L482.0 1311.3 L483.0 1310.0 L484.0 1308.7 L485.0 1307.5 L486.0 1306.2 L487.0 1304.9 L488.0 1303.6 L489.0 1302.4 L490.0 1301.1 L491.0 1299.9 L492.0 1298.7 L493.0 1297.4 L494.0 1296.2 L495.0 1295.0 L496.0 1293.9 L497.0 1292.7 L498.0 1291.5 L499.0 1290.4 L500.0 1289.3 L501.0 1288.2 L502.0 1287.1 L503.0 1286.1 L504.0 1285.0 L505.0 1283.9 L506.0 1282.9 L507.0 1281.9 L508.0 1280.8 L509.0 1279.8 L510.0 1278.8 L511.0 1277.7 L512.0 1276.7 L513.0 1275.7 L514.0 1274.6 L515.0 1273.6 L516.0 1272.6 L517.0 1271.6 L518.0 1270.6 L519.0 1269.6 L520.0 1268.6 L521.0 1267.7 L522.0 1266.7 L523.0 1265.8 L524.0 1264.9 L525.0 1264.0 L526.0 1263.2 L527.0 1262.3 L528.0 1261.6 L529.0 1260.8 L530.0 1260.1 L531.0 1259.3 L532.0 1258.7 L533.0 1258.0 L534.0 1257.4 L535.0 1256.8 L536.0 1256.2 L537.0 1255.7 L538.0 1255.1 L539.0 1254.6 L540.0 1254.1 L541.0 1253.7 L542.0 1253.2 L543.0 1252.8 L544.0 1252.4 L545.0 1252.0 L546.0 1251.7 L547.0 1251.3 L548.0 1251.0 L549.0 1250.6 L550.0 1250.3 L551.0 1250.1 L552.0 1249.8 L553.0 1249.5 L554.0 1249.3 L555.0 1249.0 L556.0 1248.8 L557.0 1248.6 L558.0 1248.4 L559.0 1248.2 L560.0 1248.0 L561.0 1247.9 L562.0 1247.7 L563.0 1247.6 L564.0 1247.5 L565.0 1247.4 L566.0 1247.3 L567.0 1247.2 L568.0 1247.2 L569.0 1247.1 L570.0 1247.1 L571.0 1247.1 L572.0 1247.0 L573.0 1247.0 L574.0 1247.1 L575.0 1247.1 L576.0 1247.1 L577.0 1247.2 L578.0 1247.2 L579.0 1247.3 L580.0 1247.4 L581.0 1247.5 L582.0 1247.6 L583.0 1247.7 L584.0 1247.9 L585.0 1248.0 L586.0 1248.2 L587.0 1248.4 L588.0 1248.6 L589.0 1248.8 L590.0 1249.0 L591.0 1249.2 L592.0 1249.4 L593.0 1249.7 L594.0 1250.0 L595.0 1250.2 L596.0 1250.5 L597.0 1250.8 L598.0 1251.1 L599.0 1251.4 L600.0 1251.8 L601.0 1252.1 L602.0 1252.4 L603.0 1252.8 L604.0 1253.1 L605.0 1253.5 L606.0 1253.8 L607.0 1254.2 L608.0 1254.6 L609.0 1255.0 L610.0 1255.3 L611.0 1255.7 L612.0 1256.1 L613.0 1256.5 L614.0 1256.9 L615.0 1257.3 L616.0 1257.7 L617.0 1258.1 L618.0 1258.5 L619.0 1258.9 L620.0 1259.4 L621.0 1259.8 L622.0 1260.2 L623.0 1260.6 L624.0 1261.0 L625.0 1261.5 L626.0 1261.9 L627.0 1262.3 L628.0 1262.7 L629.0 1263.2 L630.0 1263.6 L631.0 1264.1 L632.0 1264.5 L633.0 1264.9 L634.0 1265.4 L635.0 1265.8 L636.0 1266.3 L637.0 1266.7 L638.0 1267.2 L639.0 1267.6 L640.0 1268.1 L641.0 1268.5 L642.0 1269.0 L643.0 1269.4 L644.0 1269.9 L645.0 1270.3 L646.0 1270.7 L647.0 1271.2 L648.0 1271.6 L649.0 1272.0 L650.0 1272.5 L651.0 1272.9 L652.0 1273.3 L653.0 1273.8 L654.0 1274.2 L655.0 1274.6 L656.0 1275.0 L657.0 1275.4 L658.0 1275.8 L659.0 1276.2 L660.0 1276.6 L661.0 1277.1 L662.0 1277.5 L663.0 1277.9 L664.0 1278.3 L665.0 1278.7 L666.0 1279.1 L667.0 1279.5 L668.0 1279.9 L669.0 1280.3 L670.0 1280.7 L671.0 1281.2 L672.0 1281.6 L673.0 1282.0 L674.0 1282.4 L675.0 1282.7 L676.0 1283.1 L677.0 1283.5 L678.0 1283.9 L679.0 1284.3 L680.0 1284.7 L681.0 1285.0 L682.0 1285.4 L683.0 1285.8 L684.0 1286.1 L685.0 1286.5 L686.0 1286.8 L687.0 1287.1 L688.0 1287.5 L689.0 1287.8 L690.0 1288.1 L691.0 1288.4 L692.0 1288.7 L693.0 1289.0 L694.0 1289.3 L695.0 1289.5 L696.0 1289.8 L697.0 1290.0 L698.0 1290.3 L699.0 1290.5 L700.0 1290.7 L701.0 1290.9 L702.0 1291.1 L703.0 1291.3 L704.0 1291.4 L705.0 1291.6 L706.0 1291.7 L706.9 1291.9 L707.9 1292.0 L708.9 1292.1 L709.9 1292.2 L710.9 1292.3 L711.9 1292.3 L712.9 1292.4 L713.9 1292.5 L714.9 1292.5 L715.9 1292.5 L716.9 1292.5 L717.9 1292.5 L718.9 1292.5 L719.9 1292.5 L720.9 1292.5 L721.9 1292.4 L722.9 1292.4 L723.9 1292.3 L724.9 1292.3 L725.9 1292.2 L726.9 1292.1 L727.9 1292.0 L728.9 1291.9 L729.9 1291.8 L730.9 1291.7 L731.9 1291.6 L732.9 1291.5 L733.9 1291.3 L734.9 1291.2 L735.9 1291.1 L736.9 1290.9 L737.9 1290.8 L738.9 1290.7 L739.9 1290.5 L740.9 1290.4 L741.9 1290.2 L742.9 1290.1 L743.9 1290.0 L744.9 1289.8 L745.9 1289.7 L746.9 1289.6 L747.9 1289.5 L748.9 1289.4 L749.9 1289.3 L750.9 1289.2 L751.9 1289.1 L752.9 1289.1 L753.9 1289.0 L754.9 1289.0 L755.9 1289.0 L756.9 1289.0 L757.9 1289.0 L758.9 1289.0 L759.9 1289.0 L760.9 1289.1 L761.9 1289.2 L762.9 1289.3 L763.9 1289.4 L764.9 1289.5 L765.9 1289.6 L766.9 1289.8 L767.9 1289.9 L768.9 1290.1 L769.9 1290.3 L770.9 1290.6 L771.9 1290.8 L772.9 1291.1 L773.9 1291.3 L774.9 1291.6 L775.9 1291.9 L776.9 1292.3 L777.9 1292.6 L778.9 1293.0 L779.9 1293.3 L780.9 1293.7 L781.9 1294.1 L782.9 1294.5 L783.9 1294.9 L784.9 1295.4 L785.9 1295.8 L786.9 1296.3 L787.9 1296.7 L788.9 1297.2 L789.9 1297.7 L790.9 1298.2 L791.9 1298.7 L792.9 1299.2 L793.9 1299.7 L794.9 1300.2 L795.9 1300.7 L796.9 1301.2 L797.9 1301.7 L798.9 1302.2 L799.9 1302.7 L800.9 1303.2 L801.9 1303.7 L802.9 1304.2 L803.9 1304.8 L804.9 1305.3 L805.9 1305.8 L806.9 1306.3 L807.9 1306.8 L808.9 1307.3 L809.9 1307.8 L810.9 1308.3 L811.9 1308.8 L812.9 1309.3 L813.9 1309.9 L814.9 1310.4 L815.9 1310.9 L816.9 1311.4 L817.9 1311.9 L818.9 1312.4 L819.9 1312.9" stroke="#bcbd22" stroke-width="3.5" fill="none" stroke-linejoin="round" stroke-linecap="butt"/>
<path d="M244.41 1373.17V916.30" stroke="#000" stroke-width="2.7" stroke-dasharray="9.0 4.7" fill="none"/>
<path d="M493.22 1373.17V916.30" stroke="#000" stroke-width="2.7" stroke-dasharray="9.0 4.7" fill="none"/>
<path d="M661.24 1373.17V916.30" stroke="#000" stroke-width="2.7" stroke-dasharray="9.0 4.7" fill="none"/>
<text x="245.61" y="900.20" font-size="23.0" text-anchor="middle"><tspan font-style="italic">t</tspan><tspan font-size="16.1" dy="3.7">1</tspan></text>
<text x="494.42" y="900.20" font-size="23.0" text-anchor="middle"><tspan font-style="italic">t</tspan><tspan font-size="16.1" dy="3.7">2</tspan></text>
<text x="662.44" y="900.20" font-size="23.0" text-anchor="middle"><tspan font-style="italic">t</tspan><tspan font-size="16.1" dy="3.7">3</tspan></text>
<path d="M143.15 1426.92H387.93" stroke="#000" stroke-width="2.5" fill="none"/><path d="M153.75 1421.77L143.15 1426.92L153.75 1432.08" stroke="#000" stroke-width="2.5" fill="none" stroke-linecap="round" stroke-linejoin="round"/><path d="M377.33 1421.77L387.93 1426.92L377.33 1432.08" stroke="#000" stroke-width="2.5" fill="none" stroke-linecap="round" stroke-linejoin="round"/>
<path d="M392.13 1426.92H817.83" stroke="#000" stroke-width="2.5" fill="none"/><path d="M402.73 1421.77L392.13 1426.92L402.73 1432.08" stroke="#000" stroke-width="2.5" fill="none" stroke-linecap="round" stroke-linejoin="round"/><path d="M807.23 1421.77L817.83 1426.92L807.23 1432.08" stroke="#000" stroke-width="2.5" fill="none" stroke-linecap="round" stroke-linejoin="round"/>
<text x="264.27" y="1413.49" font-size="25.9" text-anchor="middle">systole</text>
<text x="601.67" y="1413.49" font-size="25.9" text-anchor="middle">diastole</text>
<rect x="119.90" y="916.30" width="720.90" height="537.50" stroke="#333" stroke-width="1.6" fill="none"/>
<path d="M141.05 1453.80V1458.40M310.77 1453.80V1458.40M480.49 1453.80V1458.40M650.21 1453.80V1458.40M819.93 1453.80V1458.40M119.90 1453.80H115.30M119.90 1386.61H115.30M119.90 1319.42H115.30M119.90 1252.24H115.30M119.90 1185.05H115.30M119.90 1117.86H115.30M119.90 1050.67H115.30M119.90 983.49H115.30M119.90 916.30H115.30" stroke="#333" stroke-width="1.6" fill="none"/>
<text x="141.05" y="1487.30" font-size="31.0" text-anchor="middle">0.0</text>
<text x="310.77" y="1487.30" font-size="31.0" text-anchor="middle">0.2</text>
<text x="480.49" y="1487.30" font-size="31.0" text-anchor="middle">0.4</text>
<text x="650.21" y="1487.30" font-size="31.0" text-anchor="middle">0.6</text>
<text x="819.93" y="1487.30" font-size="31.0" text-anchor="middle">0.8</text>
<text x="110.30" y="1465.00" font-size="31.0" text-anchor="end">0.0</text>
<text x="110.30" y="1397.81" font-size="31.0" text-anchor="end">2.5</text>
<text x="110.30" y="1330.62" font-size="31.0" text-anchor="end">5.0</text>
<text x="110.30" y="1263.44" font-size="31.0" text-anchor="end">7.5</text>
<text x="110.30" y="1196.25" font-size="31.0" text-anchor="end">10.0</text>
<text x="110.30" y="1129.06" font-size="31.0" text-anchor="end">12.5</text>
<text x="110.30" y="1061.88" font-size="31.0" text-anchor="end">15.0</text>
<text x="110.30" y="994.69" font-size="31.0" text-anchor="end">17.5</text>
<text x="110.30" y="927.50" font-size="31.0" text-anchor="end">20.0</text>
<text x="480.35" y="1517.70" font-size="25.9" text-anchor="middle">cyclic time [s]</text>
<text transform="translate(30.70 1185.05) rotate(-90)" x="0" y="0" font-size="25.9" text-anchor="middle">specific kinetic energy [<tspan font-style="italic">J</tspan>/<tspan font-style="italic">m</tspan><tspan font-size="18.1" dy="-9.5">3</tspan><tspan dy="9.5">]</tspan></text>
<text x="15.00" y="872.60" font-size="29.6" font-weight="bold" font-family="'Liberation Sans', Arial, sans-serif">C</text>
<path d="M1057.30 916.30V1453.70M1227.05 916.30V1453.70M1396.80 916.30V1453.70M1566.55 916.30V1453.70M1736.30 916.30V1453.70M1036.00 1453.70H1757.10M1036.00 1364.13H1757.10M1036.00 1274.57H1757.10M1036.00 1185.00H1757.10M1036.00 1095.43H1757.10M1036.00 1005.87H1757.10M1036.00 916.30H1757.10" stroke="#c9c9c9" stroke-width="1.5" fill="none"/>
<path d="M1057.3 1381.0 L1058.3 1380.8 L1059.3 1380.5 L1060.3 1380.2 L1061.3 1379.9 L1062.3 1379.5 L1063.3 1379.1 L1064.3 1378.6 L1065.3 1378.1 L1066.3 1377.6 L1067.3 1376.9 L1068.3 1376.2 L1069.3 1375.4 L1070.3 1374.5 L1071.3 1373.5 L1072.3 1372.4 L1073.3 1371.2 L1074.3 1369.9 L1075.3 1368.6 L1076.3 1367.1 L1077.3 1365.5 L1078.3 1363.8 L1079.3 1362.1 L1080.3 1360.2 L1081.3 1358.2 L1082.3 1356.1 L1083.3 1353.9 L1084.3 1351.7 L1085.3 1349.3 L1086.3 1346.8 L1087.3 1344.3 L1088.3 1341.6 L1089.3 1338.9 L1090.3 1336.1 L1091.2 1333.2 L1092.2 1330.3 L1093.2 1327.2 L1094.2 1324.1 L1095.2 1320.9 L1096.2 1317.7 L1097.2 1314.4 L1098.2 1311.1 L1099.2 1307.7 L1100.2 1304.3 L1101.2 1300.8 L1102.2 1297.3 L1103.2 1293.7 L1104.2 1290.2 L1105.2 1286.6 L1106.2 1283.0 L1107.2 1279.4 L1108.2 1275.8 L1109.2 1272.2 L1110.2 1268.6 L1111.2 1265.0 L1112.2 1261.3 L1113.2 1257.7 L1114.2 1254.1 L1115.2 1250.5 L1116.2 1247.0 L1117.2 1243.4 L1118.2 1239.9 L1119.2 1236.4 L1120.2 1232.9 L1121.2 1229.4 L1122.2 1226.0 L1123.2 1222.6 L1124.2 1219.3 L1125.2 1215.9 L1126.2 1212.7 L1127.2 1209.4 L1128.2 1206.2 L1129.2 1203.1 L1130.2 1200.0 L1131.2 1196.9 L1132.2 1194.0 L1133.2 1191.1 L1134.2 1188.2 L1135.2 1185.5 L1136.2 1182.8 L1137.2 1180.3 L1138.2 1177.8 L1139.2 1175.4 L1140.2 1173.2 L1141.2 1171.0 L1142.2 1168.9 L1143.2 1166.9 L1144.2 1165.0 L1145.2 1163.3 L1146.2 1161.6 L1147.2 1160.1 L1148.2 1158.6 L1149.2 1157.3 L1150.2 1156.0 L1151.2 1154.9 L1152.2 1153.9 L1153.2 1153.0 L1154.2 1152.2 L1155.2 1151.5 L1156.2 1150.9 L1157.2 1150.4 L1158.2 1150.0 L1159.1 1149.7 L1160.1 1149.5 L1161.1 1149.4 L1162.1 1149.4 L1163.1 1149.5 L1164.1 1149.7 L1165.1 1150.0 L1166.1 1150.3 L1167.1 1150.8 L1168.1 1151.3 L1169.1 1152.0 L1170.1 1152.7 L1171.1 1153.5 L1172.1 1154.3 L1173.1 1155.3 L1174.1 1156.3 L1175.1 1157.4 L1176.1 1158.6 L1177.1 1159.8 L1178.1 1161.1 L1179.1 1162.5 L1180.1 1164.0 L1181.1 1165.5 L1182.1 1167.1 L1183.1 1168.8 L1184.1 1170.6 L1185.1 1172.4 L1186.1 1174.2 L1187.1 1176.1 L1188.1 1178.1 L1189.1 1180.1 L1190.1 1182.2 L1191.1 1184.3 L1192.1 1186.4 L1193.1 1188.6 L1194.1 1190.8 L1195.1 1193.1 L1196.1 1195.4 L1197.1 1197.7 L1198.1 1200.1 L1199.1 1202.5 L1200.1 1204.9 L1201.1 1207.3 L1202.1 1209.8 L1203.1 1212.3 L1204.1 1214.8 L1205.1 1217.3 L1206.1 1219.9 L1207.1 1222.4 L1208.1 1225.0 L1209.1 1227.6 L1210.1 1230.2 L1211.1 1232.9 L1212.1 1235.5 L1213.1 1238.2 L1214.1 1240.8 L1215.1 1243.5 L1216.1 1246.2 L1217.1 1248.9 L1218.1 1251.6 L1219.1 1254.2 L1220.1 1256.9 L1221.1 1259.6 L1222.1 1262.3 L1223.1 1265.0 L1224.1 1267.7 L1225.1 1270.4 L1226.1 1273.1 L1227.0 1275.8 L1228.0 1278.5 L1229.0 1281.2 L1230.0 1283.9 L1231.0 1286.7 L1232.0 1289.4 L1233.0 1292.2 L1234.0 1295.0 L1235.0 1297.8 L1236.0 1300.7 L1237.0 1303.5 L1238.0 1306.4 L1239.0 1309.4 L1240.0 1312.3 L1241.0 1315.3 L1242.0 1318.3 L1243.0 1321.3 L1244.0 1324.3 L1245.0 1327.3 L1246.0 1330.3 L1247.0 1333.3 L1248.0 1336.2 L1249.0 1339.1 L1250.0 1342.0 L1251.0 1344.8 L1252.0 1347.6 L1253.0 1350.3 L1254.0 1352.9 L1255.0 1355.5 L1256.0 1358.0 L1257.0 1360.5 L1258.0 1362.8 L1259.0 1365.2 L1260.0 1367.4 L1261.0 1369.6 L1262.0 1371.7 L1263.0 1373.8 L1264.0 1375.8 L1265.0 1377.7 L1266.0 1379.6 L1267.0 1381.4 L1268.0 1383.2 L1269.0 1384.9 L1270.0 1386.5 L1271.0 1388.1 L1272.0 1389.6 L1273.0 1391.1 L1274.0 1392.5 L1275.0 1393.9 L1276.0 1395.2 L1277.0 1396.5 L1278.0 1397.7 L1279.0 1398.9 L1280.0 1400.0 L1281.0 1401.1 L1282.0 1402.1 L1283.0 1403.1 L1284.0 1404.1 L1285.0 1405.0 L1286.0 1405.9 L1287.0 1406.7 L1288.0 1407.5 L1289.0 1408.2 L1290.0 1408.9 L1291.0 1409.6 L1292.0 1410.2 L1293.0 1410.8 L1294.0 1411.4 L1295.0 1411.9 L1295.9 1412.3 L1296.9 1412.7 L1297.9 1413.1 L1298.9 1413.5 L1299.9 1413.8 L1300.9 1414.0 L1301.9 1414.2 L1302.9 1414.4 L1303.9 1414.5 L1304.9 1414.6 L1305.9 1414.7 L1306.9 1414.7 L1307.9 1414.8 L1308.9 1414.7 L1309.9 1414.7 L1310.9 1414.6 L1311.9 1414.5 L1312.9 1414.4 L1313.9 1414.3 L1314.9 1414.2 L1315.9 1414.1 L1316.9 1413.9 L1317.9 1413.7 L1318.9 1413.6 L1319.9 1413.4 L1320.9 1413.2 L1321.9 1413.1 L1322.9 1412.9 L1323.9 1412.7 L1324.9 1412.5 L1325.9 1412.3 L1326.9 1412.1 L1327.9 1411.9 L1328.9 1411.7 L1329.9 1411.5 L1330.9 1411.3 L1331.9 1411.1 L1332.9 1410.9 L1333.9 1410.6 L1334.9 1410.4 L1335.9 1410.1 L1336.9 1409.8 L1337.9 1409.6 L1338.9 1409.3 L1339.9 1409.0 L1340.9 1408.7 L1341.9 1408.4 L1342.9 1408.0 L1343.9 1407.7 L1344.9 1407.3 L1345.9 1406.9 L1346.9 1406.5 L1347.9 1406.1 L1348.9 1405.7 L1349.9 1405.3 L1350.9 1404.8 L1351.9 1404.4 L1352.9 1403.9 L1353.9 1403.4 L1354.9 1402.9 L1355.9 1402.4 L1356.9 1401.9 L1357.9 1401.4 L1358.9 1400.9 L1359.9 1400.3 L1360.9 1399.8 L1361.9 1399.2 L1362.8 1398.6 L1363.8 1398.1 L1364.8 1397.5 L1365.8 1396.9 L1366.8 1396.3 L1367.8 1395.8 L1368.8 1395.2 L1369.8 1394.6 L1370.8 1394.0 L1371.8 1393.4 L1372.8 1392.9 L1373.8 1392.3 L1374.8 1391.7 L1375.8 1391.2 L1376.8 1390.6 L1377.8 1390.1 L1378.8 1389.6 L1379.8 1389.0 L1380.8 1388.5 L1381.8 1388.0 L1382.8 1387.5 L1383.8 1387.0 L1384.8 1386.5 L1385.8 1386.0 L1386.8 1385.6 L1387.8 1385.1 L1388.8 1384.7 L1389.8 1384.2 L1390.8 1383.8 L1391.8 1383.3 L1392.8 1382.9 L1393.8 1382.5 L1394.8 1382.1 L1395.8 1381.7 L1396.8 1381.2 L1397.8 1380.9 L1398.8 1380.5 L1399.8 1380.1 L1400.8 1379.7 L1401.8 1379.3 L1402.8 1378.9 L1403.8 1378.6 L1404.8 1378.2 L1405.8 1377.9 L1406.8 1377.5 L1407.8 1377.2 L1408.8 1376.8 L1409.8 1376.5 L1410.8 1376.1 L1411.8 1375.8 L1412.8 1375.5 L1413.8 1375.2 L1414.8 1374.9 L1415.8 1374.6 L1416.8 1374.3 L1417.8 1374.0 L1418.8 1373.7 L1419.8 1373.5 L1420.8 1373.2 L1421.8 1373.0 L1422.8 1372.7 L1423.8 1372.5 L1424.8 1372.2 L1425.8 1372.0 L1426.8 1371.8 L1427.8 1371.6 L1428.8 1371.4 L1429.8 1371.2 L1430.8 1371.0 L1431.7 1370.8 L1432.7 1370.6 L1433.7 1370.5 L1434.7 1370.3 L1435.7 1370.2 L1436.7 1370.0 L1437.7 1369.9 L1438.7 1369.8 L1439.7 1369.7 L1440.7 1369.6 L1441.7 1369.5 L1442.7 1369.4 L1443.7 1369.3 L1444.7 1369.2 L1445.7 1369.2 L1446.7 1369.1 L1447.7 1369.1 L1448.7 1369.0 L1449.7 1369.0 L1450.7 1368.9 L1451.7 1368.9 L1452.7 1368.9 L1453.7 1368.9 L1454.7 1368.9 L1455.7 1368.9 L1456.7 1368.9 L1457.7 1368.9 L1458.7 1368.9 L1459.7 1368.9 L1460.7 1369.0 L1461.7 1369.0 L1462.7 1369.0 L1463.7 1369.0 L1464.7 1369.1 L1465.7 1369.1 L1466.7 1369.2 L1467.7 1369.2 L1468.7 1369.3 L1469.7 1369.4 L1470.7 1369.4 L1471.7 1369.5 L1472.7 1369.6 L1473.7 1369.6 L1474.7 1369.7 L1475.7 1369.8 L1476.7 1369.9 L1477.7 1370.0 L1478.7 1370.1 L1479.7 1370.2 L1480.7 1370.3 L1481.7 1370.4 L1482.7 1370.5 L1483.7 1370.7 L1484.7 1370.8 L1485.7 1370.9 L1486.7 1371.0 L1487.7 1371.2 L1488.7 1371.3 L1489.7 1371.4 L1490.7 1371.6 L1491.7 1371.7 L1492.7 1371.9 L1493.7 1372.1 L1494.7 1372.2 L1495.7 1372.4 L1496.7 1372.5 L1497.7 1372.7 L1498.7 1372.9 L1499.6 1373.1 L1500.6 1373.2 L1501.6 1373.4 L1502.6 1373.6 L1503.6 1373.7 L1504.6 1373.9 L1505.6 1374.1 L1506.6 1374.3 L1507.6 1374.4 L1508.6 1374.6 L1509.6 1374.8 L1510.6 1375.0 L1511.6 1375.1 L1512.6 1375.3 L1513.6 1375.5 L1514.6 1375.6 L1515.6 1375.8 L1516.6 1375.9 L1517.6 1376.1 L1518.6 1376.2 L1519.6 1376.4 L1520.6 1376.5 L1521.6 1376.6 L1522.6 1376.7 L1523.6 1376.8 L1524.6 1376.9 L1525.6 1377.0 L1526.6 1377.1 L1527.6 1377.1 L1528.6 1377.2 L1529.6 1377.3 L1530.6 1377.4 L1531.6 1377.5 L1532.6 1377.6 L1533.6 1377.7 L1534.6 1377.8 L1535.6 1377.9 L1536.6 1378.0 L1537.6 1378.1 L1538.6 1378.2 L1539.6 1378.3 L1540.6 1378.4 L1541.6 1378.6 L1542.6 1378.7 L1543.6 1378.8 L1544.6 1378.9 L1545.6 1379.1 L1546.6 1379.2 L1547.6 1379.4 L1548.6 1379.5 L1549.6 1379.7 L1550.6 1379.8 L1551.6 1380.0 L1552.6 1380.1 L1553.6 1380.3 L1554.6 1380.5 L1555.6 1380.7 L1556.6 1380.8 L1557.6 1381.0 L1558.6 1381.2 L1559.6 1381.4 L1560.6 1381.6 L1561.6 1381.8 L1562.6 1382.0 L1563.6 1382.2 L1564.6 1382.3 L1565.6 1382.5 L1566.5 1382.8 L1567.5 1383.0 L1568.5 1383.2 L1569.5 1383.4 L1570.5 1383.6 L1571.5 1383.8 L1572.5 1384.0 L1573.5 1384.2 L1574.5 1384.4 L1575.5 1384.6 L1576.5 1384.8 L1577.5 1385.0 L1578.5 1385.2 L1579.5 1385.4 L1580.5 1385.6 L1581.5 1385.8 L1582.5 1385.9 L1583.5 1386.1 L1584.5 1386.3 L1585.5 1386.5 L1586.5 1386.7 L1587.5 1386.8 L1588.5 1387.0 L1589.5 1387.1 L1590.5 1387.3 L1591.5 1387.4 L1592.5 1387.6 L1593.5 1387.7 L1594.5 1387.8 L1595.5 1388.0 L1596.5 1388.1 L1597.5 1388.2 L1598.5 1388.3 L1599.5 1388.4 L1600.5 1388.5 L1601.5 1388.5 L1602.5 1388.6 L1603.5 1388.7 L1604.5 1388.8 L1605.5 1388.8 L1606.5 1388.9 L1607.5 1388.9 L1608.5 1389.0 L1609.5 1389.0 L1610.5 1389.1 L1611.5 1389.1 L1612.5 1389.1 L1613.5 1389.2 L1614.5 1389.2 L1615.5 1389.2 L1616.5 1389.2 L1617.5 1389.2 L1618.5 1389.2 L1619.5 1389.2 L1620.5 1389.2 L1621.5 1389.2 L1622.5 1389.2 L1623.5 1389.2 L1624.5 1389.2 L1625.5 1389.1 L1626.5 1389.1 L1627.5 1389.0 L1628.5 1389.0 L1629.5 1388.9 L1630.5 1388.9 L1631.5 1388.8 L1632.5 1388.8 L1633.5 1388.7 L1634.4 1388.6 L1635.4 1388.5 L1636.4 1388.5 L1637.4 1388.4 L1638.4 1388.3 L1639.4 1388.2 L1640.4 1388.1 L1641.4 1388.0 L1642.4 1387.9 L1643.4 1387.8 L1644.4 1387.8 L1645.4 1387.7 L1646.4 1387.6 L1647.4 1387.5 L1648.4 1387.4 L1649.4 1387.3 L1650.4 1387.2 L1651.4 1387.1 L1652.4 1387.0 L1653.4 1386.9 L1654.4 1386.9 L1655.4 1386.8 L1656.4 1386.7 L1657.4 1386.6 L1658.4 1386.5 L1659.4 1386.5 L1660.4 1386.4 L1661.4 1386.3 L1662.4 1386.2 L1663.4 1386.1 L1664.4 1386.1 L1665.4 1386.0 L1666.4 1385.9 L1667.4 1385.8 L1668.4 1385.8 L1669.4 1385.7 L1670.4 1385.6 L1671.4 1385.5 L1672.4 1385.4 L1673.4 1385.3 L1674.4 1385.3 L1675.4 1385.2 L1676.4 1385.1 L1677.4 1385.0 L1678.4 1384.9 L1679.4 1384.8 L1680.4 1384.7 L1681.4 1384.6 L1682.4 1384.5 L1683.4 1384.4 L1684.4 1384.3 L1685.4 1384.2 L1686.0 1384.2 L1686.3 1384.1 L1686.4 1384.1 L1686.7 1384.1 L1687.0 1384.1 L1687.4 1384.0 L1687.4 1384.0 L1687.7 1384.0 L1688.1 1384.0 L1688.4 1384.0 L1688.4 1384.1 L1688.8 1384.3 L1689.1 1384.4 L1689.4 1384.5 L1689.5 1384.5 L1689.8 1384.2 L1690.2 1383.8 L1690.4 1383.5 L1690.5 1383.1 L1690.9 1382.5 L1691.2 1382.0 L1691.4 1382.0 L1691.6 1382.0 L1691.9 1382.4 L1692.3 1383.3 L1692.4 1383.4 L1692.6 1384.2 L1693.0 1385.0 L1693.3 1385.4 L1693.4 1385.4 L1693.7 1385.3 L1694.0 1384.8 L1694.4 1384.0 L1694.4 1383.9 L1694.7 1382.9 L1695.1 1382.0 L1695.4 1381.5 L1695.4 1381.4 L1695.8 1381.2 L1696.1 1381.6 L1696.4 1382.0 L1696.5 1382.3 L1696.8 1383.3 L1697.2 1384.2 L1697.4 1384.5 L1697.5 1384.8 L1697.9 1385.0 L1698.2 1384.7 L1698.4 1384.6 L1698.6 1384.0 L1698.9 1383.1 L1699.3 1382.1 L1699.4 1381.9 L1699.6 1381.3 L1700.0 1380.9 L1700.3 1380.9 L1700.4 1380.9 L1700.7 1381.5 L1701.0 1382.3 L1701.4 1383.2 L1701.4 1383.3 L1701.7 1384.1 L1702.1 1384.6 L1702.3 1384.6 L1702.4 1384.6 L1702.8 1384.1 L1703.1 1383.3 L1703.3 1382.7 L1703.5 1382.3 L1703.8 1381.4 L1704.2 1380.7 L1704.3 1380.6 L1704.5 1380.5 L1704.9 1380.8 L1705.2 1381.5 L1705.3 1381.7 L1705.6 1382.4 L1705.9 1383.4 L1706.3 1384.1 L1706.3 1384.1 L1706.6 1384.4 L1707.0 1384.2 L1707.3 1383.6 L1707.3 1383.5 L1707.7 1382.6 L1708.0 1381.6 L1708.3 1380.9 L1708.4 1380.8 L1708.7 1380.3 L1709.1 1380.4 L1709.3 1380.6 L1709.4 1380.8 L1709.8 1381.7 L1710.1 1382.7 L1710.3 1383.2 L1710.5 1383.5 L1710.8 1384.1 L1711.2 1384.2 L1711.3 1384.1 L1711.5 1383.8 L1711.9 1383.0 L1712.2 1382.0 L1712.3 1381.8 L1712.6 1381.1 L1712.9 1380.4 L1713.3 1380.1 L1713.3 1380.1 L1713.6 1380.4 L1714.0 1381.0 L1714.3 1381.9 L1714.3 1382.0 L1714.7 1382.9 L1715.0 1383.7 L1715.3 1384.0 L1715.4 1384.1 L1715.7 1384.0 L1716.1 1383.4 L1716.3 1382.8 L1716.4 1382.5 L1716.8 1381.5 L1717.1 1380.6 L1717.3 1380.3 L1717.5 1380.1 L1717.8 1380.1 L1718.2 1380.5 L1718.3 1380.8 L1718.5 1381.3 L1718.9 1382.3 L1719.2 1383.1 L1719.3 1383.3 L1719.6 1383.5 L1719.9 1383.5 L1720.3 1383.1 L1720.3 1383.1 L1720.6 1382.5 L1721.0 1382.0 L1721.3 1381.6 L1721.3 1381.6 L1721.7 1381.4 L1722.0 1381.5 L1722.3 1381.6 L1722.4 1381.7 L1722.7 1381.8 L1723.1 1381.9 L1723.3 1381.9 L1723.4 1381.9 L1723.8 1381.9 L1724.1 1381.9 L1724.3 1381.9 L1724.5 1381.9 L1724.8 1381.8 L1725.3 1381.8 L1726.3 1381.7 L1727.3 1381.7 L1728.3 1381.6 L1729.3 1381.4 L1730.3 1381.3 L1731.3 1381.2 L1732.3 1381.0 L1733.3 1380.8 L1734.3 1380.6 L1735.3 1380.4 L1736.3 1380.2" stroke="#9467bd" stroke-width="3.5" fill="none" stroke-linejoin="round" stroke-linecap="butt"/>
<path d="M1057.3 1333.8 L1058.3 1333.5 L1059.3 1333.2 L1060.3 1332.8 L1061.3 1332.5 L1062.3 1332.0 L1063.3 1331.5 L1064.3 1331.0 L1065.3 1330.3 L1066.3 1329.6 L1067.3 1328.8 L1068.3 1327.9 L1069.3 1326.9 L1070.3 1325.8 L1071.3 1324.6 L1072.3 1323.3 L1073.3 1321.9 L1074.3 1320.3 L1075.3 1318.7 L1076.3 1316.9 L1077.3 1315.0 L1078.3 1313.0 L1079.3 1310.9 L1080.3 1308.7 L1081.3 1306.4 L1082.3 1303.9 L1083.3 1301.4 L1084.3 1298.8 L1085.3 1296.1 L1086.3 1293.3 L1087.3 1290.5 L1088.3 1287.6 L1089.3 1284.6 L1090.3 1281.5 L1091.2 1278.4 L1092.2 1275.2 L1093.2 1271.9 L1094.2 1268.6 L1095.2 1265.3 L1096.2 1261.9 L1097.2 1258.4 L1098.2 1254.9 L1099.2 1251.3 L1100.2 1247.6 L1101.2 1243.9 L1102.2 1240.1 L1103.2 1236.3 L1104.2 1232.4 L1105.2 1228.5 L1106.2 1224.5 L1107.2 1220.5 L1108.2 1216.3 L1109.2 1212.2 L1110.2 1208.0 L1111.2 1203.8 L1112.2 1199.5 L1113.2 1195.2 L1114.2 1191.0 L1115.2 1186.8 L1116.2 1182.6 L1117.2 1178.4 L1118.2 1174.2 L1119.2 1170.1 L1120.2 1166.0 L1121.2 1162.0 L1122.2 1158.0 L1123.2 1153.9 L1124.2 1150.0 L1125.2 1146.0 L1126.2 1142.1 L1127.2 1138.1 L1128.2 1134.3 L1129.2 1130.4 L1130.2 1126.6 L1131.2 1122.9 L1132.2 1119.3 L1133.2 1115.7 L1134.2 1112.2 L1135.2 1108.9 L1136.2 1105.6 L1137.2 1102.4 L1138.2 1099.4 L1139.2 1096.5 L1140.2 1093.7 L1141.2 1091.0 L1142.2 1088.5 L1143.2 1086.1 L1144.2 1083.8 L1145.2 1081.7 L1146.2 1079.7 L1147.2 1077.8 L1148.2 1076.1 L1149.2 1074.5 L1150.2 1073.0 L1151.2 1071.7 L1152.2 1070.5 L1153.2 1069.4 L1154.2 1068.5 L1155.2 1067.7 L1156.2 1067.0 L1157.2 1066.5 L1158.2 1066.0 L1159.1 1065.7 L1160.1 1065.5 L1161.1 1065.3 L1162.1 1065.3 L1163.1 1065.4 L1164.1 1065.6 L1165.1 1065.9 L1166.1 1066.3 L1167.1 1066.7 L1168.1 1067.3 L1169.1 1068.0 L1170.1 1068.7 L1171.1 1069.5 L1172.1 1070.4 L1173.1 1071.4 L1174.1 1072.5 L1175.1 1073.6 L1176.1 1074.8 L1177.1 1076.2 L1178.1 1077.5 L1179.1 1079.0 L1180.1 1080.5 L1181.1 1082.1 L1182.1 1083.8 L1183.1 1085.5 L1184.1 1087.4 L1185.1 1089.2 L1186.1 1091.2 L1187.1 1093.2 L1188.1 1095.3 L1189.1 1097.5 L1190.1 1099.7 L1191.1 1101.9 L1192.1 1104.3 L1193.1 1106.7 L1194.1 1109.1 L1195.1 1111.6 L1196.1 1114.2 L1197.1 1116.8 L1198.1 1119.4 L1199.1 1122.1 L1200.1 1124.8 L1201.1 1127.6 L1202.1 1130.4 L1203.1 1133.2 L1204.1 1136.1 L1205.1 1139.0 L1206.1 1142.0 L1207.1 1144.9 L1208.1 1147.9 L1209.1 1151.0 L1210.1 1154.0 L1211.1 1157.1 L1212.1 1160.2 L1213.1 1163.4 L1214.1 1166.5 L1215.1 1169.7 L1216.1 1172.9 L1217.1 1176.1 L1218.1 1179.4 L1219.1 1182.6 L1220.1 1185.9 L1221.1 1189.2 L1222.1 1192.5 L1223.1 1195.9 L1224.1 1199.2 L1225.1 1202.6 L1226.1 1206.0 L1227.0 1209.3 L1228.0 1212.7 L1229.0 1216.1 L1230.0 1219.5 L1231.0 1222.9 L1232.0 1226.3 L1233.0 1229.7 L1234.0 1233.0 L1235.0 1236.4 L1236.0 1239.7 L1237.0 1243.1 L1238.0 1246.4 L1239.0 1249.7 L1240.0 1253.0 L1241.0 1256.2 L1242.0 1259.5 L1243.0 1262.7 L1244.0 1265.9 L1245.0 1269.0 L1246.0 1272.1 L1247.0 1275.2 L1248.0 1278.3 L1249.0 1281.3 L1250.0 1284.3 L1251.0 1287.2 L1252.0 1290.2 L1253.0 1293.0 L1254.0 1295.8 L1255.0 1298.6 L1256.0 1301.3 L1257.0 1304.0 L1258.0 1306.7 L1259.0 1309.3 L1260.0 1311.8 L1261.0 1314.3 L1262.0 1316.8 L1263.0 1319.2 L1264.0 1321.6 L1265.0 1324.1 L1266.0 1326.5 L1267.0 1328.8 L1268.0 1331.2 L1269.0 1333.6 L1270.0 1335.9 L1271.0 1338.2 L1272.0 1340.5 L1273.0 1342.7 L1274.0 1344.9 L1275.0 1347.1 L1276.0 1349.2 L1277.0 1351.3 L1278.0 1353.4 L1279.0 1355.3 L1280.0 1357.3 L1281.0 1359.2 L1282.0 1361.0 L1283.0 1362.8 L1284.0 1364.5 L1285.0 1366.1 L1286.0 1367.7 L1287.0 1369.2 L1288.0 1370.7 L1289.0 1372.1 L1290.0 1373.4 L1291.0 1374.7 L1292.0 1375.9 L1293.0 1377.0 L1294.0 1378.0 L1295.0 1379.0 L1295.9 1379.9 L1296.9 1380.7 L1297.9 1381.5 L1298.9 1382.2 L1299.9 1382.8 L1300.9 1383.4 L1301.9 1383.9 L1302.0 1383.9 L1302.2 1384.0 L1302.5 1384.1 L1302.8 1384.2 L1302.9 1384.3 L1303.0 1384.3 L1303.2 1384.3 L1303.5 1384.4 L1303.8 1384.4 L1303.9 1384.4 L1304.0 1384.4 L1304.2 1384.2 L1304.5 1384.0 L1304.8 1383.7 L1304.9 1383.4 L1305.0 1383.3 L1305.2 1382.8 L1305.5 1382.4 L1305.8 1382.2 L1305.9 1382.1 L1306.0 1382.1 L1306.2 1382.3 L1306.5 1382.6 L1306.8 1383.1 L1306.9 1383.5 L1307.0 1383.6 L1307.2 1384.1 L1307.5 1384.5 L1307.8 1384.9 L1307.9 1385.0 L1308.0 1385.1 L1308.2 1385.2 L1308.5 1385.3 L1308.8 1385.4 L1308.9 1385.4 L1309.0 1385.4 L1309.2 1385.4 L1309.5 1385.4 L1309.8 1385.4 L1309.9 1385.4 L1310.0 1385.4 L1310.9 1385.4 L1311.9 1385.3 L1312.9 1385.2 L1313.9 1385.0 L1314.9 1384.8 L1315.9 1384.6 L1316.9 1384.3 L1317.9 1384.0 L1318.9 1383.7 L1319.9 1383.4 L1320.9 1383.1 L1321.9 1382.7 L1322.9 1382.4 L1323.9 1382.0 L1324.9 1381.6 L1325.9 1381.2 L1326.9 1380.7 L1327.9 1380.3 L1328.9 1379.8 L1329.9 1379.4 L1330.9 1378.9 L1331.9 1378.5 L1332.9 1378.0 L1333.9 1377.5 L1334.9 1377.0 L1335.9 1376.5 L1336.9 1376.0 L1337.9 1375.5 L1338.9 1375.0 L1339.9 1374.4 L1340.9 1373.8 L1341.9 1373.3 L1342.9 1372.7 L1343.9 1372.0 L1344.9 1371.4 L1345.9 1370.7 L1346.9 1370.0 L1347.9 1369.3 L1348.9 1368.5 L1349.9 1367.7 L1350.9 1366.9 L1351.9 1366.0 L1352.9 1365.1 L1353.9 1364.2 L1354.9 1363.2 L1355.9 1362.2 L1356.9 1361.2 L1357.9 1360.1 L1358.9 1359.0 L1359.9 1357.9 L1360.9 1356.8 L1361.9 1355.7 L1362.8 1354.5 L1363.8 1353.3 L1364.8 1352.2 L1365.8 1351.0 L1366.8 1349.8 L1367.8 1348.6 L1368.8 1347.4 L1369.8 1346.2 L1370.8 1345.0 L1371.8 1343.8 L1372.8 1342.6 L1373.8 1341.4 L1374.8 1340.2 L1375.8 1339.0 L1376.8 1337.9 L1377.8 1336.7 L1378.8 1335.6 L1379.8 1334.4 L1380.8 1333.3 L1381.8 1332.2 L1382.8 1331.1 L1383.8 1330.0 L1384.8 1328.9 L1385.8 1327.8 L1386.8 1326.8 L1387.8 1325.7 L1388.8 1324.7 L1389.8 1323.7 L1390.8 1322.7 L1391.8 1321.7 L1392.8 1320.7 L1393.8 1319.8 L1394.8 1318.8 L1395.8 1317.8 L1396.8 1316.9 L1397.8 1316.0 L1398.8 1315.1 L1399.8 1314.2 L1400.8 1313.3 L1401.8 1312.4 L1402.8 1311.5 L1403.8 1310.6 L1404.8 1309.8 L1405.8 1308.9 L1406.8 1308.0 L1407.8 1307.2 L1408.8 1306.3 L1409.8 1305.5 L1410.8 1304.6 L1411.8 1303.8 L1412.8 1303.0 L1413.8 1302.1 L1414.8 1301.3 L1415.8 1300.5 L1416.8 1299.7 L1417.8 1298.9 L1418.8 1298.1 L1419.8 1297.4 L1420.8 1296.6 L1421.8 1295.9 L1422.8 1295.2 L1423.8 1294.6 L1424.8 1293.9 L1425.8 1293.3 L1426.8 1292.7 L1427.8 1292.1 L1428.8 1291.5 L1429.8 1291.0 L1430.8 1290.5 L1431.7 1290.0 L1432.7 1289.5 L1433.7 1289.1 L1434.7 1288.7 L1435.7 1288.3 L1436.7 1287.9 L1437.7 1287.6 L1438.7 1287.3 L1439.7 1287.0 L1440.7 1286.8 L1441.7 1286.5 L1442.7 1286.3 L1443.7 1286.1 L1444.7 1285.9 L1445.7 1285.7 L1446.7 1285.6 L1447.7 1285.5 L1448.7 1285.4 L1449.7 1285.3 L1450.7 1285.2 L1451.7 1285.1 L1452.7 1285.0 L1453.7 1285.0 L1454.7 1284.9 L1455.7 1284.9 L1456.7 1284.9 L1457.7 1284.9 L1458.7 1284.9 L1459.7 1284.9 L1460.7 1284.9 L1461.7 1284.9 L1462.7 1284.9 L1463.7 1284.9 L1464.7 1284.9 L1465.7 1284.9 L1466.7 1285.0 L1467.7 1285.0 L1468.7 1285.0 L1469.7 1285.1 L1470.7 1285.1 L1471.7 1285.2 L1472.7 1285.2 L1473.7 1285.3 L1474.7 1285.4 L1475.7 1285.4 L1476.7 1285.5 L1477.7 1285.6 L1478.7 1285.7 L1479.7 1285.7 L1480.7 1285.8 L1481.7 1285.9 L1482.7 1286.0 L1483.7 1286.1 L1484.7 1286.3 L1485.7 1286.4 L1486.7 1286.5 L1487.7 1286.6 L1488.7 1286.8 L1489.7 1286.9 L1490.7 1287.1 L1491.7 1287.2 L1492.7 1287.4 L1493.7 1287.6 L1494.7 1287.7 L1495.7 1287.9 L1496.7 1288.1 L1497.7 1288.3 L1498.7 1288.5 L1499.6 1288.7 L1500.6 1288.9 L1501.6 1289.2 L1502.6 1289.4 L1503.6 1289.6 L1504.6 1289.9 L1505.6 1290.1 L1506.6 1290.4 L1507.6 1290.6 L1508.6 1290.9 L1509.6 1291.2 L1510.6 1291.5 L1511.6 1291.8 L1512.6 1292.0 L1513.6 1292.3 L1514.6 1292.6 L1515.6 1292.9 L1516.6 1293.2 L1517.6 1293.6 L1518.6 1293.9 L1519.6 1294.2 L1520.6 1294.5 L1521.6 1294.8 L1522.6 1295.2 L1523.6 1295.5 L1524.6 1295.8 L1525.6 1296.1 L1526.6 1296.5 L1527.6 1296.8 L1528.6 1297.1 L1529.6 1297.5 L1530.6 1297.8 L1531.6 1298.2 L1532.6 1298.5 L1533.6 1298.8 L1534.6 1299.2 L1535.6 1299.6 L1536.6 1299.9 L1537.6 1300.3 L1538.6 1300.6 L1539.6 1301.0 L1540.6 1301.3 L1541.6 1301.7 L1542.6 1302.1 L1543.6 1302.4 L1544.6 1302.8 L1545.6 1303.2 L1546.6 1303.6 L1547.6 1303.9 L1548.6 1304.3 L1549.6 1304.7 L1550.6 1305.1 L1551.6 1305.4 L1552.6 1305.8 L1553.6 1306.1 L1554.6 1306.5 L1555.6 1306.9 L1556.6 1307.2 L1557.6 1307.5 L1558.6 1307.9 L1559.6 1308.2 L1560.6 1308.5 L1561.6 1308.9 L1562.6 1309.2 L1563.6 1309.5 L1564.6 1309.8 L1565.6 1310.2 L1566.5 1310.5 L1567.5 1310.8 L1568.5 1311.1 L1569.5 1311.5 L1570.5 1311.8 L1571.5 1312.1 L1572.5 1312.5 L1573.5 1312.8 L1574.5 1313.2 L1575.5 1313.5 L1576.5 1313.9 L1577.5 1314.3 L1578.5 1314.7 L1579.5 1315.0 L1580.5 1315.4 L1581.5 1315.8 L1582.5 1316.3 L1583.5 1316.7 L1584.5 1317.1 L1585.5 1317.5 L1586.5 1317.9 L1587.5 1318.3 L1588.5 1318.7 L1589.5 1319.1 L1590.5 1319.6 L1591.5 1320.0 L1592.5 1320.4 L1593.5 1320.7 L1594.5 1321.1 L1595.5 1321.5 L1596.5 1321.9 L1597.5 1322.3 L1598.5 1322.6 L1599.5 1323.0 L1600.5 1323.3 L1601.5 1323.7 L1602.5 1324.0 L1603.5 1324.3 L1604.5 1324.6 L1605.5 1324.9 L1606.5 1325.2 L1607.5 1325.5 L1608.5 1325.8 L1609.5 1326.1 L1610.5 1326.3 L1611.5 1326.6 L1612.5 1326.8 L1613.5 1327.0 L1614.5 1327.2 L1615.5 1327.5 L1616.5 1327.6 L1617.5 1327.8 L1618.5 1328.0 L1619.5 1328.2 L1620.5 1328.3 L1621.5 1328.5 L1622.5 1328.6 L1623.5 1328.7 L1624.5 1328.8 L1625.5 1328.9 L1626.5 1329.0 L1627.5 1329.1 L1628.5 1329.2 L1629.5 1329.3 L1630.5 1329.3 L1631.5 1329.4 L1632.5 1329.4 L1633.5 1329.4 L1634.4 1329.5 L1635.4 1329.5 L1636.4 1329.5 L1637.4 1329.5 L1638.4 1329.5 L1639.4 1329.5 L1640.4 1329.5 L1641.4 1329.5 L1642.4 1329.5 L1643.4 1329.4 L1644.4 1329.4 L1645.4 1329.4 L1646.4 1329.3 L1647.4 1329.3 L1648.4 1329.3 L1649.4 1329.2 L1650.4 1329.2 L1651.4 1329.1 L1652.4 1329.1 L1653.4 1329.0 L1654.4 1329.0 L1655.4 1328.9 L1656.4 1328.9 L1657.4 1328.8 L1658.4 1328.8 L1659.4 1328.7 L1660.4 1328.7 L1661.4 1328.6 L1662.4 1328.6 L1663.4 1328.5 L1664.4 1328.5 L1665.4 1328.4 L1666.4 1328.4 L1667.4 1328.4 L1668.4 1328.3 L1669.4 1328.3 L1670.4 1328.3 L1671.4 1328.2 L1672.4 1328.2 L1673.4 1328.2 L1674.4 1328.2 L1675.4 1328.2 L1676.4 1328.2 L1677.4 1328.1 L1678.4 1328.1 L1679.4 1328.1 L1680.4 1328.1 L1681.4 1328.1 L1682.4 1328.1 L1683.4 1328.1 L1684.4 1328.1 L1685.4 1328.0 L1686.0 1328.0 L1686.3 1328.0 L1686.4 1328.0 L1686.7 1328.0 L1687.0 1328.0 L1687.4 1328.0 L1687.4 1328.0 L1687.7 1328.0 L1688.1 1328.0 L1688.4 1328.1 L1688.4 1328.1 L1688.8 1328.4 L1689.1 1328.6 L1689.4 1328.6 L1689.5 1328.6 L1689.8 1328.4 L1690.2 1327.9 L1690.4 1327.6 L1690.5 1327.2 L1690.9 1326.5 L1691.2 1326.0 L1691.4 1325.9 L1691.6 1326.0 L1691.9 1326.5 L1692.3 1327.5 L1692.4 1327.7 L1692.6 1328.6 L1693.0 1329.5 L1693.3 1330.0 L1693.4 1330.0 L1693.7 1330.0 L1694.0 1329.4 L1694.4 1328.5 L1694.4 1328.4 L1694.7 1327.2 L1695.1 1326.2 L1695.4 1325.7 L1695.4 1325.6 L1695.8 1325.4 L1696.1 1325.8 L1696.4 1326.3 L1696.5 1326.7 L1696.8 1327.8 L1697.2 1328.9 L1697.4 1329.3 L1697.5 1329.7 L1697.9 1329.9 L1698.2 1329.6 L1698.4 1329.5 L1698.6 1328.9 L1698.9 1327.8 L1699.3 1326.6 L1699.4 1326.5 L1699.6 1325.8 L1700.0 1325.3 L1700.3 1325.4 L1700.4 1325.4 L1700.7 1326.1 L1701.0 1327.1 L1701.4 1328.1 L1701.4 1328.2 L1701.7 1329.2 L1702.1 1329.8 L1702.3 1329.9 L1702.4 1329.8 L1702.8 1329.3 L1703.1 1328.4 L1703.3 1327.7 L1703.5 1327.2 L1703.8 1326.2 L1704.2 1325.5 L1704.3 1325.3 L1704.5 1325.3 L1704.9 1325.7 L1705.2 1326.5 L1705.3 1326.8 L1705.6 1327.6 L1705.9 1328.7 L1706.3 1329.6 L1706.3 1329.7 L1706.6 1330.0 L1707.0 1329.8 L1707.3 1329.1 L1707.3 1329.1 L1707.7 1328.0 L1708.0 1326.9 L1708.3 1326.2 L1708.4 1326.0 L1708.7 1325.5 L1709.1 1325.6 L1709.3 1326.0 L1709.4 1326.2 L1709.8 1327.2 L1710.1 1328.4 L1710.3 1329.0 L1710.5 1329.5 L1710.8 1330.1 L1711.2 1330.3 L1711.3 1330.2 L1711.5 1329.9 L1711.9 1329.1 L1712.2 1328.0 L1712.3 1327.7 L1712.6 1327.0 L1712.9 1326.2 L1713.3 1326.0 L1713.3 1326.0 L1713.6 1326.4 L1714.0 1327.2 L1714.3 1328.3 L1714.3 1328.3 L1714.7 1329.5 L1715.0 1330.5 L1715.3 1330.9 L1715.4 1331.0 L1715.7 1330.9 L1716.1 1330.4 L1716.3 1329.8 L1716.4 1329.4 L1716.8 1328.4 L1717.1 1327.5 L1717.3 1327.1 L1717.5 1326.9 L1717.8 1327.0 L1718.2 1327.6 L1718.3 1327.9 L1718.5 1328.6 L1718.9 1329.8 L1719.2 1330.9 L1719.3 1331.0 L1719.6 1331.4 L1719.9 1331.5 L1720.3 1331.1 L1720.3 1331.1 L1720.6 1330.6 L1721.0 1330.0 L1721.3 1329.6 L1721.3 1329.6 L1721.7 1329.5 L1722.0 1329.7 L1722.3 1330.0 L1722.4 1330.0 L1722.7 1330.3 L1723.1 1330.5 L1723.3 1330.6 L1723.4 1330.6 L1723.8 1330.7 L1724.1 1330.8 L1724.3 1330.8 L1724.5 1330.9 L1724.8 1331.0 L1725.3 1331.1 L1726.3 1331.3 L1727.3 1331.5 L1728.3 1331.7 L1729.3 1331.9 L1730.3 1332.1 L1731.3 1332.3 L1732.3 1332.4 L1733.3 1332.6 L1734.3 1332.7 L1735.3 1332.8 L1736.3 1333.0" stroke="#8c564b" stroke-width="3.5" fill="none" stroke-linejoin="round" stroke-linecap="butt"/>
<path d="M1057.3 1384.5 L1058.3 1384.3 L1059.3 1384.0 L1060.3 1383.7 L1061.3 1383.4 L1062.3 1383.1 L1063.3 1382.7 L1064.3 1382.3 L1065.3 1381.9 L1066.3 1381.3 L1067.3 1380.8 L1068.3 1380.1 L1069.3 1379.4 L1070.3 1378.6 L1071.3 1377.7 L1072.3 1376.8 L1073.3 1375.7 L1074.3 1374.6 L1075.3 1373.4 L1076.3 1372.2 L1077.3 1370.8 L1078.3 1369.3 L1079.3 1367.8 L1080.3 1366.2 L1081.3 1364.5 L1082.3 1362.7 L1083.3 1360.9 L1084.3 1359.0 L1085.3 1357.0 L1086.3 1354.9 L1087.3 1352.8 L1088.3 1350.6 L1089.3 1348.3 L1090.3 1346.0 L1091.2 1343.7 L1092.2 1341.3 L1093.2 1338.9 L1094.2 1336.5 L1095.2 1334.0 L1096.2 1331.5 L1097.2 1329.0 L1098.2 1326.5 L1099.2 1323.9 L1100.2 1321.4 L1101.2 1318.9 L1102.2 1316.3 L1103.2 1313.7 L1104.2 1311.2 L1105.2 1308.6 L1106.2 1306.1 L1107.2 1303.5 L1108.2 1300.9 L1109.2 1298.3 L1110.2 1295.8 L1111.2 1293.2 L1112.2 1290.6 L1113.2 1288.0 L1114.2 1285.5 L1115.2 1282.9 L1116.2 1280.4 L1117.2 1277.9 L1118.2 1275.5 L1119.2 1273.0 L1120.2 1270.7 L1121.2 1268.3 L1122.2 1266.0 L1123.2 1263.8 L1124.2 1261.6 L1125.2 1259.5 L1126.2 1257.4 L1127.2 1255.4 L1128.2 1253.4 L1129.2 1251.5 L1130.2 1249.7 L1131.2 1247.9 L1132.2 1246.2 L1133.2 1244.5 L1134.2 1242.9 L1135.2 1241.4 L1136.2 1239.8 L1137.2 1238.4 L1138.2 1236.9 L1139.2 1235.6 L1140.2 1234.2 L1141.2 1232.9 L1142.2 1231.7 L1143.2 1230.5 L1144.2 1229.4 L1145.2 1228.3 L1146.2 1227.3 L1147.2 1226.4 L1148.2 1225.5 L1149.2 1224.7 L1150.2 1224.0 L1151.2 1223.3 L1152.2 1222.7 L1153.2 1222.2 L1154.2 1221.7 L1155.2 1221.3 L1156.2 1221.0 L1157.2 1220.8 L1158.2 1220.6 L1159.1 1220.5 L1160.1 1220.4 L1161.1 1220.4 L1162.1 1220.4 L1163.1 1220.6 L1164.1 1220.7 L1165.1 1220.9 L1166.1 1221.2 L1167.1 1221.5 L1168.1 1221.9 L1169.1 1222.3 L1170.1 1222.8 L1171.1 1223.3 L1172.1 1223.9 L1173.1 1224.5 L1174.1 1225.2 L1175.1 1225.9 L1176.1 1226.6 L1177.1 1227.4 L1178.1 1228.3 L1179.1 1229.2 L1180.1 1230.2 L1181.1 1231.2 L1182.1 1232.3 L1183.1 1233.4 L1184.1 1234.6 L1185.1 1235.8 L1186.1 1237.1 L1187.1 1238.4 L1188.1 1239.8 L1189.1 1241.2 L1190.1 1242.7 L1191.1 1244.2 L1192.1 1245.7 L1193.1 1247.3 L1194.1 1248.9 L1195.1 1250.5 L1196.1 1252.2 L1197.1 1253.9 L1198.1 1255.7 L1199.1 1257.4 L1200.1 1259.2 L1201.1 1261.0 L1202.1 1262.9 L1203.1 1264.7 L1204.1 1266.6 L1205.1 1268.5 L1206.1 1270.4 L1207.1 1272.4 L1208.1 1274.3 L1209.1 1276.3 L1210.1 1278.3 L1211.1 1280.3 L1212.1 1282.3 L1213.1 1284.3 L1214.1 1286.4 L1215.1 1288.4 L1216.1 1290.5 L1217.1 1292.5 L1218.1 1294.6 L1219.1 1296.7 L1220.1 1298.8 L1221.1 1300.9 L1222.1 1303.0 L1223.1 1305.1 L1224.1 1307.2 L1225.1 1309.3 L1226.1 1311.4 L1227.0 1313.5 L1228.0 1315.6 L1229.0 1317.7 L1230.0 1319.8 L1231.0 1321.9 L1232.0 1324.0 L1233.0 1326.1 L1234.0 1328.2 L1235.0 1330.2 L1236.0 1332.3 L1237.0 1334.3 L1238.0 1336.4 L1239.0 1338.4 L1240.0 1340.4 L1241.0 1342.5 L1242.0 1344.5 L1243.0 1346.5 L1244.0 1348.5 L1245.0 1350.4 L1246.0 1352.4 L1247.0 1354.3 L1248.0 1356.3 L1249.0 1358.2 L1250.0 1360.0 L1251.0 1361.9 L1252.0 1363.7 L1253.0 1365.5 L1254.0 1367.3 L1255.0 1369.0 L1256.0 1370.7 L1257.0 1372.4 L1258.0 1374.1 L1259.0 1375.7 L1260.0 1377.3 L1261.0 1378.9 L1262.0 1380.4 L1263.0 1381.9 L1264.0 1383.4 L1265.0 1384.8 L1266.0 1386.2 L1267.0 1387.6 L1268.0 1388.9 L1269.0 1390.2 L1270.0 1391.5 L1271.0 1392.7 L1272.0 1393.9 L1273.0 1395.0 L1274.0 1396.1 L1275.0 1397.2 L1276.0 1398.2 L1277.0 1399.2 L1278.0 1400.1 L1279.0 1401.0 L1280.0 1401.8 L1281.0 1402.7 L1282.0 1403.4 L1283.0 1404.2 L1284.0 1404.9 L1285.0 1405.5 L1286.0 1406.2 L1287.0 1406.7 L1288.0 1407.3 L1289.0 1407.9 L1290.0 1408.4 L1291.0 1408.8 L1292.0 1409.3 L1293.0 1409.7 L1294.0 1410.1 L1295.0 1410.5 L1295.9 1410.8 L1296.9 1411.2 L1297.9 1411.5 L1298.9 1411.7 L1299.9 1412.0 L1300.9 1412.2 L1301.9 1412.4 L1302.9 1412.6 L1303.9 1412.8 L1304.9 1413.0 L1305.9 1413.1 L1306.9 1413.2 L1307.9 1413.3 L1308.9 1413.4 L1309.9 1413.5 L1310.9 1413.6 L1311.9 1413.6 L1312.9 1413.6 L1313.9 1413.7 L1314.9 1413.7 L1315.9 1413.7 L1316.9 1413.6 L1317.9 1413.6 L1318.9 1413.6 L1319.9 1413.5 L1320.9 1413.5 L1321.9 1413.4 L1322.9 1413.4 L1323.9 1413.3 L1324.9 1413.2 L1325.9 1413.1 L1326.9 1413.0 L1327.9 1412.9 L1328.9 1412.8 L1329.9 1412.7 L1330.9 1412.5 L1331.9 1412.4 L1332.9 1412.3 L1333.9 1412.1 L1334.9 1412.0 L1335.9 1411.8 L1336.9 1411.6 L1337.9 1411.4 L1338.9 1411.2 L1339.9 1411.0 L1340.9 1410.8 L1341.9 1410.6 L1342.9 1410.4 L1343.9 1410.2 L1344.9 1409.9 L1345.9 1409.7 L1346.9 1409.4 L1347.9 1409.1 L1348.9 1408.8 L1349.9 1408.5 L1350.9 1408.2 L1351.9 1407.9 L1352.9 1407.5 L1353.9 1407.2 L1354.9 1406.8 L1355.9 1406.4 L1356.9 1406.0 L1357.9 1405.6 L1358.9 1405.2 L1359.9 1404.7 L1360.9 1404.3 L1361.9 1403.8 L1362.8 1403.4 L1363.8 1402.9 L1364.8 1402.4 L1365.8 1401.9 L1366.8 1401.4 L1367.8 1400.9 L1368.8 1400.3 L1369.8 1399.8 L1370.8 1399.3 L1371.8 1398.7 L1372.8 1398.2 L1373.8 1397.7 L1374.8 1397.1 L1375.8 1396.6 L1376.8 1396.1 L1377.8 1395.5 L1378.8 1395.0 L1379.8 1394.5 L1380.8 1394.0 L1381.8 1393.5 L1382.8 1392.9 L1383.8 1392.4 L1384.8 1391.9 L1385.8 1391.4 L1386.8 1390.9 L1387.8 1390.4 L1388.8 1390.0 L1389.8 1389.5 L1390.8 1389.0 L1391.8 1388.5 L1392.8 1388.1 L1393.8 1387.6 L1394.8 1387.2 L1395.8 1386.7 L1396.8 1386.3 L1397.8 1385.9 L1398.8 1385.5 L1399.8 1385.1 L1400.8 1384.7 L1401.8 1384.3 L1402.8 1383.9 L1403.8 1383.6 L1404.8 1383.2 L1405.8 1382.9 L1406.8 1382.6 L1407.8 1382.2 L1408.8 1381.9 L1409.8 1381.6 L1410.8 1381.3 L1411.8 1381.0 L1412.8 1380.7 L1413.8 1380.4 L1414.8 1380.2 L1415.8 1379.9 L1416.8 1379.6 L1417.8 1379.4 L1418.8 1379.1 L1419.8 1378.9 L1420.8 1378.7 L1421.8 1378.4 L1422.8 1378.2 L1423.8 1378.0 L1424.8 1377.8 L1425.8 1377.6 L1426.8 1377.4 L1427.8 1377.2 L1428.8 1377.1 L1429.8 1376.9 L1430.8 1376.7 L1431.7 1376.6 L1432.7 1376.5 L1433.7 1376.3 L1434.7 1376.2 L1435.7 1376.1 L1436.7 1376.0 L1437.7 1375.9 L1438.7 1375.8 L1439.7 1375.7 L1440.7 1375.6 L1441.7 1375.5 L1442.7 1375.5 L1443.7 1375.4 L1444.7 1375.4 L1445.7 1375.4 L1446.7 1375.3 L1447.7 1375.3 L1448.7 1375.3 L1449.7 1375.3 L1450.7 1375.3 L1451.7 1375.3 L1452.7 1375.3 L1453.7 1375.3 L1454.7 1375.3 L1455.7 1375.4 L1456.7 1375.4 L1457.7 1375.4 L1458.7 1375.5 L1459.7 1375.5 L1460.7 1375.6 L1461.7 1375.6 L1462.7 1375.7 L1463.7 1375.7 L1464.7 1375.8 L1465.7 1375.9 L1466.7 1375.9 L1467.7 1376.0 L1468.7 1376.1 L1469.7 1376.2 L1470.7 1376.3 L1471.7 1376.4 L1472.7 1376.5 L1473.7 1376.6 L1474.7 1376.7 L1475.7 1376.8 L1476.7 1377.0 L1477.7 1377.1 L1478.7 1377.2 L1479.7 1377.4 L1480.7 1377.5 L1481.7 1377.6 L1482.7 1377.8 L1483.7 1377.9 L1484.7 1378.1 L1485.7 1378.2 L1486.7 1378.4 L1487.7 1378.5 L1488.7 1378.7 L1489.7 1378.8 L1490.7 1379.0 L1491.7 1379.2 L1492.7 1379.3 L1493.7 1379.5 L1494.7 1379.6 L1495.7 1379.8 L1496.7 1380.0 L1497.7 1380.1 L1498.7 1380.3 L1499.6 1380.5 L1500.6 1380.6 L1501.6 1380.8 L1502.6 1381.0 L1503.6 1381.1 L1504.6 1381.3 L1505.6 1381.5 L1506.6 1381.6 L1507.6 1381.8 L1508.6 1382.0 L1509.6 1382.1 L1510.6 1382.3 L1511.6 1382.4 L1512.6 1382.6 L1513.6 1382.7 L1514.6 1382.9 L1515.6 1383.0 L1516.6 1383.2 L1517.6 1383.3 L1518.6 1383.5 L1519.6 1383.6 L1520.6 1383.8 L1521.6 1383.9 L1522.6 1384.0 L1523.6 1384.2 L1524.6 1384.3 L1525.6 1384.4 L1526.6 1384.6 L1527.6 1384.7 L1528.6 1384.8 L1529.6 1385.0 L1530.6 1385.1 L1531.6 1385.2 L1532.6 1385.4 L1533.6 1385.5 L1534.6 1385.7 L1535.6 1385.8 L1536.6 1385.9 L1537.6 1386.1 L1538.6 1386.2 L1539.6 1386.4 L1540.6 1386.5 L1541.6 1386.7 L1542.6 1386.8 L1543.6 1387.0 L1544.6 1387.1 L1545.6 1387.3 L1546.6 1387.4 L1547.6 1387.6 L1548.6 1387.7 L1549.6 1387.9 L1550.6 1388.0 L1551.6 1388.2 L1552.6 1388.3 L1553.6 1388.5 L1554.6 1388.6 L1555.6 1388.8 L1556.6 1388.9 L1557.6 1389.1 L1558.6 1389.2 L1559.6 1389.4 L1560.6 1389.5 L1561.6 1389.7 L1562.6 1389.8 L1563.6 1390.0 L1564.6 1390.1 L1565.6 1390.3 L1566.5 1390.4 L1567.5 1390.5 L1568.5 1390.7 L1569.5 1390.8 L1570.5 1390.9 L1571.5 1391.1 L1572.5 1391.2 L1573.5 1391.3 L1574.5 1391.4 L1575.5 1391.5 L1576.5 1391.6 L1577.5 1391.8 L1578.5 1391.9 L1579.5 1392.0 L1580.5 1392.1 L1581.5 1392.2 L1582.5 1392.3 L1583.5 1392.4 L1584.5 1392.5 L1585.5 1392.6 L1586.5 1392.7 L1587.5 1392.8 L1588.5 1392.9 L1589.5 1393.0 L1590.5 1393.1 L1591.5 1393.2 L1592.5 1393.3 L1593.5 1393.3 L1594.5 1393.4 L1595.5 1393.5 L1596.5 1393.6 L1597.5 1393.6 L1598.5 1393.7 L1599.5 1393.8 L1600.5 1393.8 L1601.5 1393.9 L1602.5 1393.9 L1603.5 1394.0 L1604.5 1394.0 L1605.5 1394.0 L1606.5 1394.1 L1607.5 1394.1 L1608.5 1394.1 L1609.5 1394.2 L1610.5 1394.2 L1611.5 1394.2 L1612.5 1394.2 L1613.5 1394.2 L1614.5 1394.2 L1615.5 1394.2 L1616.5 1394.2 L1617.5 1394.2 L1618.5 1394.2 L1619.5 1394.2 L1620.5 1394.2 L1621.5 1394.2 L1622.5 1394.2 L1623.5 1394.1 L1624.5 1394.1 L1625.5 1394.0 L1626.5 1394.0 L1627.5 1393.9 L1628.5 1393.9 L1629.5 1393.8 L1630.5 1393.7 L1631.5 1393.7 L1632.5 1393.6 L1633.5 1393.5 L1634.4 1393.4 L1635.4 1393.3 L1636.4 1393.2 L1637.4 1393.1 L1638.4 1393.0 L1639.4 1392.8 L1640.4 1392.7 L1641.4 1392.6 L1642.4 1392.4 L1643.4 1392.3 L1644.4 1392.2 L1645.4 1392.0 L1646.4 1391.9 L1647.4 1391.7 L1648.4 1391.6 L1649.4 1391.4 L1650.4 1391.3 L1651.4 1391.1 L1652.4 1391.0 L1653.4 1390.8 L1654.4 1390.7 L1655.4 1390.5 L1656.4 1390.4 L1657.4 1390.2 L1658.4 1390.1 L1659.4 1389.9 L1660.4 1389.8 L1661.4 1389.6 L1662.4 1389.5 L1663.4 1389.4 L1664.4 1389.2 L1665.4 1389.1 L1666.4 1389.0 L1667.4 1388.8 L1668.4 1388.7 L1669.4 1388.6 L1670.4 1388.5 L1671.4 1388.4 L1672.4 1388.3 L1673.4 1388.2 L1674.4 1388.1 L1675.4 1388.0 L1676.4 1387.9 L1677.4 1387.8 L1678.4 1387.7 L1679.4 1387.6 L1680.4 1387.5 L1681.4 1387.4 L1682.4 1387.3 L1683.4 1387.2 L1684.4 1387.1 L1685.4 1387.1 L1686.0 1387.0 L1686.3 1387.0 L1686.4 1387.0 L1686.7 1387.0 L1687.0 1386.9 L1687.4 1386.9 L1687.4 1386.9 L1687.7 1386.9 L1688.1 1386.8 L1688.4 1386.9 L1688.4 1387.0 L1688.8 1387.2 L1689.1 1387.3 L1689.4 1387.4 L1689.5 1387.4 L1689.8 1387.2 L1690.2 1386.7 L1690.4 1386.4 L1690.5 1386.0 L1690.9 1385.4 L1691.2 1385.0 L1691.4 1384.9 L1691.6 1384.9 L1691.9 1385.4 L1692.3 1386.2 L1692.4 1386.4 L1692.6 1387.2 L1693.0 1388.0 L1693.3 1388.4 L1693.4 1388.4 L1693.7 1388.4 L1694.0 1387.8 L1694.4 1387.1 L1694.4 1386.9 L1694.7 1385.9 L1695.1 1385.0 L1695.4 1384.5 L1695.4 1384.4 L1695.8 1384.3 L1696.1 1384.7 L1696.4 1385.1 L1696.5 1385.4 L1696.8 1386.4 L1697.2 1387.3 L1697.4 1387.6 L1697.5 1387.9 L1697.9 1388.2 L1698.2 1387.9 L1698.4 1387.7 L1698.6 1387.2 L1698.9 1386.2 L1699.3 1385.2 L1699.4 1385.1 L1699.6 1384.4 L1700.0 1384.0 L1700.3 1384.1 L1700.4 1384.1 L1700.7 1384.7 L1701.0 1385.5 L1701.4 1386.4 L1701.4 1386.5 L1701.7 1387.3 L1702.1 1387.8 L1702.3 1387.9 L1702.4 1387.8 L1702.8 1387.4 L1703.1 1386.5 L1703.3 1386.0 L1703.5 1385.5 L1703.8 1384.6 L1704.2 1384.0 L1704.3 1383.8 L1704.5 1383.8 L1704.9 1384.1 L1705.2 1384.8 L1705.3 1385.0 L1705.6 1385.7 L1705.9 1386.7 L1706.3 1387.4 L1706.3 1387.4 L1706.6 1387.7 L1707.0 1387.5 L1707.3 1386.9 L1707.3 1386.8 L1707.7 1385.9 L1708.0 1384.9 L1708.3 1384.2 L1708.4 1384.1 L1708.7 1383.6 L1709.1 1383.6 L1709.3 1383.9 L1709.4 1384.1 L1709.8 1385.0 L1710.1 1385.9 L1710.3 1386.4 L1710.5 1386.8 L1710.8 1387.4 L1711.2 1387.5 L1711.3 1387.4 L1711.5 1387.1 L1711.9 1386.3 L1712.2 1385.3 L1712.3 1385.1 L1712.6 1384.3 L1712.9 1383.7 L1713.3 1383.4 L1713.3 1383.4 L1713.6 1383.6 L1714.0 1384.3 L1714.3 1385.2 L1714.3 1385.2 L1714.7 1386.2 L1715.0 1386.9 L1715.3 1387.3 L1715.4 1387.3 L1715.7 1387.2 L1716.1 1386.6 L1716.3 1386.0 L1716.4 1385.7 L1716.8 1384.7 L1717.1 1383.8 L1717.3 1383.5 L1717.5 1383.3 L1717.8 1383.3 L1718.2 1383.7 L1718.3 1383.9 L1718.5 1384.5 L1718.9 1385.5 L1719.2 1386.3 L1719.3 1386.4 L1719.6 1386.7 L1719.9 1386.6 L1720.3 1386.2 L1720.3 1386.2 L1720.6 1385.7 L1721.0 1385.1 L1721.3 1384.7 L1721.3 1384.7 L1721.7 1384.5 L1722.0 1384.5 L1722.3 1384.7 L1722.4 1384.7 L1722.7 1384.9 L1723.1 1385.0 L1723.3 1384.9 L1723.4 1384.9 L1723.8 1384.9 L1724.1 1384.9 L1724.3 1384.9 L1724.5 1384.9 L1724.8 1384.8 L1725.3 1384.8 L1726.3 1384.7 L1727.3 1384.6 L1728.3 1384.5 L1729.3 1384.4 L1730.3 1384.3 L1731.3 1384.2 L1732.3 1384.0 L1733.3 1383.9 L1734.3 1383.7 L1735.3 1383.5 L1736.3 1383.4" stroke="#bcbd22" stroke-width="3.5" fill="none" stroke-linejoin="round" stroke-linecap="butt"/>
<path d="M1160.68 1364.13V916.30" stroke="#000" stroke-width="2.7" stroke-dasharray="9.0 4.7" fill="none"/>
<path d="M1409.53 1364.13V916.30" stroke="#000" stroke-width="2.7" stroke-dasharray="9.0 4.7" fill="none"/>
<path d="M1577.58 1364.13V916.30" stroke="#000" stroke-width="2.7" stroke-dasharray="9.0 4.7" fill="none"/>
<text x="1161.88" y="905.20" font-size="23.0" text-anchor="middle"><tspan font-style="italic">t</tspan><tspan font-size="16.1" dy="3.7">1</tspan></text>
<text x="1410.73" y="905.20" font-size="23.0" text-anchor="middle"><tspan font-style="italic">t</tspan><tspan font-size="16.1" dy="3.7">2</tspan></text>
<text x="1578.78" y="905.20" font-size="23.0" text-anchor="middle"><tspan font-style="italic">t</tspan><tspan font-size="16.1" dy="3.7">3</tspan></text>
<path d="M1059.40 1423.84H1304.22" stroke="#000" stroke-width="2.5" fill="none"/><path d="M1070.00 1418.69L1059.40 1423.84L1070.00 1428.99" stroke="#000" stroke-width="2.5" fill="none" stroke-linecap="round" stroke-linejoin="round"/><path d="M1293.62 1418.69L1304.22 1423.84L1293.62 1428.99" stroke="#000" stroke-width="2.5" fill="none" stroke-linecap="round" stroke-linejoin="round"/>
<path d="M1308.42 1423.84H1734.20" stroke="#000" stroke-width="2.5" fill="none"/><path d="M1319.02 1418.69L1308.42 1423.84L1319.02 1428.99" stroke="#000" stroke-width="2.5" fill="none" stroke-linecap="round" stroke-linejoin="round"/><path d="M1723.60 1418.69L1734.20 1423.84L1723.60 1428.99" stroke="#000" stroke-width="2.5" fill="none" stroke-linecap="round" stroke-linejoin="round"/>
<text x="1180.54" y="1408.92" font-size="25.9" text-anchor="middle">systole</text>
<text x="1518.00" y="1408.92" font-size="25.9" text-anchor="middle">diastole</text>
<rect x="1036.00" y="916.30" width="721.10" height="537.40" stroke="#333" stroke-width="1.6" fill="none"/>
<path d="M1057.30 1453.70V1458.30M1227.05 1453.70V1458.30M1396.80 1453.70V1458.30M1566.55 1453.70V1458.30M1736.30 1453.70V1458.30M1036.00 1453.70H1031.40M1036.00 1364.13H1031.40M1036.00 1274.57H1031.40M1036.00 1185.00H1031.40M1036.00 1095.43H1031.40M1036.00 1005.87H1031.40M1036.00 916.30H1031.40" stroke="#333" stroke-width="1.6" fill="none"/>
<text x="1057.30" y="1487.20" font-size="31.0" text-anchor="middle">0.0</text>
<text x="1227.05" y="1487.20" font-size="31.0" text-anchor="middle">0.2</text>
<text x="1396.80" y="1487.20" font-size="31.0" text-anchor="middle">0.4</text>
<text x="1566.55" y="1487.20" font-size="31.0" text-anchor="middle">0.6</text>
<text x="1736.30" y="1487.20" font-size="31.0" text-anchor="middle">0.8</text>
<text x="1026.40" y="1464.90" font-size="31.0" text-anchor="end">0</text>
<text x="1026.40" y="1375.33" font-size="31.0" text-anchor="end">5</text>
<text x="1026.40" y="1285.77" font-size="31.0" text-anchor="end">10</text>
<text x="1026.40" y="1196.20" font-size="31.0" text-anchor="end">15</text>
<text x="1026.40" y="1106.63" font-size="31.0" text-anchor="end">20</text>
<text x="1026.40" y="1017.07" font-size="31.0" text-anchor="end">25</text>
<text x="1026.40" y="927.50" font-size="31.0" text-anchor="end">30</text>
<text x="1396.55" y="1517.60" font-size="25.9" text-anchor="middle">cyclic time [s]</text>
<text transform="translate(976.50 1185.00) rotate(-90)" x="0" y="0" font-size="25.9" text-anchor="middle">specific energy dissipation [<tspan font-style="italic">W</tspan>/<tspan font-style="italic">m</tspan><tspan font-size="18.1" dy="-9.5">3</tspan><tspan dy="9.5">]</tspan></text>
<text x="940.80" y="872.60" font-size="29.6" font-weight="bold" font-family="'Liberation Sans', Arial, sans-serif">D</text>
<rect x="468.20" y="734.40" width="872.30" height="51.50" rx="5" ry="5" fill="#fff" fill-opacity="0.8" stroke="#d0d0d0" stroke-width="1.5"/><path d="M478.10 757.55H541.40" stroke="#1f77b4" stroke-width="3.4" fill="none"/><text x="564.00" y="768.45" font-size="29.5">A0ML</text><path d="M702.90 757.55H765.90" stroke="#ff7f0e" stroke-width="3.4" fill="none"/><text x="788.00" y="768.45" font-size="29.5">A0MH</text><path d="M932.80 757.55H995.90" stroke="#2ca02c" stroke-width="3.4" fill="none"/><text x="1017.00" y="768.45" font-size="29.5">A1ML</text><path d="M1157.60 757.55H1220.50" stroke="#d62728" stroke-width="3.4" fill="none"/><text x="1242.00" y="768.45" font-size="29.5">A1MH</text>
<rect x="628.50" y="1563.50" width="579.70" height="51.90" rx="5" ry="5" fill="#fff" fill-opacity="0.8" stroke="#d0d0d0" stroke-width="1.5"/><path d="M638.60 1586.85H701.30" stroke="#9467bd" stroke-width="3.4" fill="none"/><text x="724.50" y="1597.75" font-size="29.5">A1T</text><path d="M839.40 1586.85H902.10" stroke="#8c564b" stroke-width="3.4" fill="none"/><text x="923.50" y="1597.75" font-size="29.5">A1I</text><path d="M1029.80 1586.85H1093.10" stroke="#bcbd22" stroke-width="3.4" fill="none"/><text x="1115.50" y="1597.75" font-size="29.5">A1HK</text></svg>
</body></html>
